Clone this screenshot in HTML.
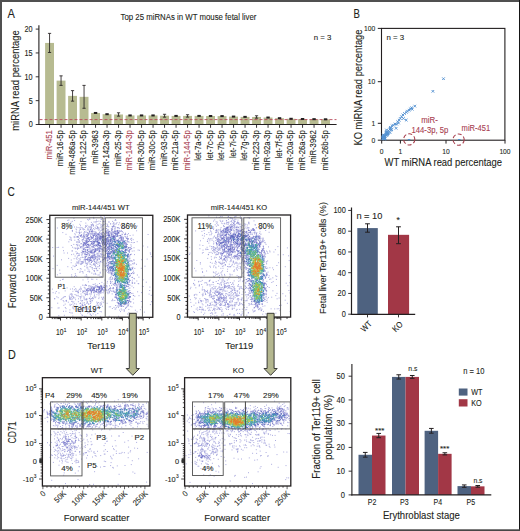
<!DOCTYPE html><html><head><meta charset="utf-8"><style>html,body{margin:0;padding:0;background:#fff;}svg{display:block;}text{font-family:"Liberation Sans",sans-serif;}</style></head><body>
<svg width="520" height="531" viewBox="0 0 520 531">
<rect width="520" height="531" fill="#fff"/>
<text x="7.6" y="18.2" font-size="12" fill="#231f20" stroke="#231f20" stroke-width="0.1" textLength="7.4" lengthAdjust="spacingAndGlyphs">A</text>
<text x="120.6" y="20.2" font-size="8.4" fill="#231f20" stroke="#231f20" stroke-width="0.1" textLength="135.8" lengthAdjust="spacingAndGlyphs">Top 25 miRNAs in WT mouse fetal liver</text>
<text x="313.7" y="39.6" font-size="7.9" fill="#231f20" stroke="#231f20" stroke-width="0.1" textLength="17.6" lengthAdjust="spacingAndGlyphs">n = 3</text>
<text transform="translate(18.6 80.5) rotate(-90)" font-size="10.2" text-anchor="middle" fill="#231f20" stroke="#231f20" stroke-width="0.1" textLength="100.6" lengthAdjust="spacingAndGlyphs">miRNA read percentage</text>
<rect x="45.1" y="42.93" width="8.9" height="81.57" fill="#b7bb91"/>
<rect x="56.6" y="80.62" width="8.9" height="43.88" fill="#b7bb91"/>
<rect x="68.1" y="95.88" width="8.9" height="28.62" fill="#b7bb91"/>
<rect x="79.6" y="96.83" width="8.9" height="27.67" fill="#b7bb91"/>
<rect x="91.1" y="112.96" width="8.9" height="11.54" fill="#b7bb91"/>
<rect x="102.6" y="114.2" width="8.9" height="10.3" fill="#b7bb91"/>
<rect x="114.1" y="114.48" width="8.9" height="10.02" fill="#b7bb91"/>
<rect x="125.6" y="115.44" width="8.9" height="9.06" fill="#b7bb91"/>
<rect x="137.1" y="115.44" width="8.9" height="9.06" fill="#b7bb91"/>
<rect x="148.6" y="115.44" width="8.9" height="9.06" fill="#b7bb91"/>
<rect x="160.1" y="115.72" width="8.9" height="8.78" fill="#b7bb91"/>
<rect x="171.6" y="115.91" width="8.9" height="8.59" fill="#b7bb91"/>
<rect x="183.1" y="115.91" width="8.9" height="8.59" fill="#b7bb91"/>
<rect x="194.6" y="115.91" width="8.9" height="8.59" fill="#b7bb91"/>
<rect x="206.1" y="116.01" width="8.9" height="8.49" fill="#b7bb91"/>
<rect x="217.6" y="116.1" width="8.9" height="8.4" fill="#b7bb91"/>
<rect x="229.1" y="116.58" width="8.9" height="7.92" fill="#b7bb91"/>
<rect x="240.6" y="116.87" width="8.9" height="7.63" fill="#b7bb91"/>
<rect x="252.1" y="116.96" width="8.9" height="7.54" fill="#b7bb91"/>
<rect x="263.6" y="117.54" width="8.9" height="6.96" fill="#b7bb91"/>
<rect x="275.1" y="118.2" width="8.9" height="6.3" fill="#b7bb91"/>
<rect x="286.6" y="118.78" width="8.9" height="5.72" fill="#b7bb91"/>
<rect x="298.1" y="119.01" width="8.9" height="5.49" fill="#b7bb91"/>
<rect x="309.6" y="119.16" width="8.9" height="5.34" fill="#b7bb91"/>
<rect x="321.1" y="119.3" width="8.9" height="5.2" fill="#b7bb91"/>
<line x1="39.5" y1="119.6" x2="336.5" y2="119.6" stroke="#b8475a" stroke-width="0.9" stroke-dasharray="3 2"/>
<line x1="49.55" y1="33.39" x2="49.55" y2="52.47" stroke="#231f20" stroke-width="0.85"/>
<line x1="47.95" y1="33.39" x2="51.15" y2="33.39" stroke="#231f20" stroke-width="0.85"/>
<line x1="47.95" y1="52.47" x2="51.15" y2="52.47" stroke="#231f20" stroke-width="0.85"/>
<line x1="61.05" y1="75.85" x2="61.05" y2="85.39" stroke="#231f20" stroke-width="0.85"/>
<line x1="59.45" y1="75.85" x2="62.65" y2="75.85" stroke="#231f20" stroke-width="0.85"/>
<line x1="59.45" y1="85.39" x2="62.65" y2="85.39" stroke="#231f20" stroke-width="0.85"/>
<line x1="72.55" y1="90.63" x2="72.55" y2="101.13" stroke="#231f20" stroke-width="0.85"/>
<line x1="70.95" y1="90.63" x2="74.15" y2="90.63" stroke="#231f20" stroke-width="0.85"/>
<line x1="70.95" y1="101.13" x2="74.15" y2="101.13" stroke="#231f20" stroke-width="0.85"/>
<line x1="84.05" y1="85.39" x2="84.05" y2="108.28" stroke="#231f20" stroke-width="0.85"/>
<line x1="82.45" y1="85.39" x2="85.65" y2="85.39" stroke="#231f20" stroke-width="0.85"/>
<line x1="82.45" y1="108.28" x2="85.65" y2="108.28" stroke="#231f20" stroke-width="0.85"/>
<rect x="93.85" y="111.96" width="3.4" height="2" fill="#231f20"/>
<rect x="105.35" y="113.2" width="3.4" height="2" fill="#231f20"/>
<line x1="118.55" y1="112.81" x2="118.55" y2="116.15" stroke="#231f20" stroke-width="0.85"/>
<line x1="116.95" y1="112.81" x2="120.15" y2="112.81" stroke="#231f20" stroke-width="0.85"/>
<line x1="116.95" y1="116.15" x2="120.15" y2="116.15" stroke="#231f20" stroke-width="0.85"/>
<rect x="128.35" y="114.44" width="3.4" height="2" fill="#231f20"/>
<rect x="139.85" y="114.44" width="3.4" height="2" fill="#231f20"/>
<rect x="151.35" y="114.44" width="3.4" height="2" fill="#231f20"/>
<line x1="164.55" y1="114.29" x2="164.55" y2="117.15" stroke="#231f20" stroke-width="0.85"/>
<line x1="162.95" y1="114.29" x2="166.15" y2="114.29" stroke="#231f20" stroke-width="0.85"/>
<line x1="162.95" y1="117.15" x2="166.15" y2="117.15" stroke="#231f20" stroke-width="0.85"/>
<rect x="174.35" y="114.91" width="3.4" height="2" fill="#231f20"/>
<line x1="187.55" y1="114.72" x2="187.55" y2="117.11" stroke="#231f20" stroke-width="0.85"/>
<line x1="185.95" y1="114.72" x2="189.15" y2="114.72" stroke="#231f20" stroke-width="0.85"/>
<line x1="185.95" y1="117.11" x2="189.15" y2="117.11" stroke="#231f20" stroke-width="0.85"/>
<rect x="197.35" y="114.91" width="3.4" height="2" fill="#231f20"/>
<rect x="208.85" y="115.01" width="3.4" height="2" fill="#231f20"/>
<rect x="220.35" y="115.1" width="3.4" height="2" fill="#231f20"/>
<rect x="231.85" y="115.58" width="3.4" height="2" fill="#231f20"/>
<rect x="243.35" y="115.87" width="3.4" height="2" fill="#231f20"/>
<line x1="256.55" y1="115.77" x2="256.55" y2="118.16" stroke="#231f20" stroke-width="0.85"/>
<line x1="254.95" y1="115.77" x2="258.15" y2="115.77" stroke="#231f20" stroke-width="0.85"/>
<line x1="254.95" y1="118.16" x2="258.15" y2="118.16" stroke="#231f20" stroke-width="0.85"/>
<rect x="266.35" y="116.54" width="3.4" height="2" fill="#231f20"/>
<rect x="277.85" y="117.2" width="3.4" height="2" fill="#231f20"/>
<rect x="289.35" y="117.78" width="3.4" height="2" fill="#231f20"/>
<rect x="300.85" y="118.01" width="3.4" height="2" fill="#231f20"/>
<rect x="312.35" y="118.16" width="3.4" height="2" fill="#231f20"/>
<rect x="323.85" y="118.3" width="3.4" height="2" fill="#231f20"/>
<line x1="38.9" y1="25.3" x2="38.9" y2="125" stroke="#231f20" stroke-width="1.1"/>
<line x1="38.4" y1="124.5" x2="336.6" y2="124.5" stroke="#231f20" stroke-width="1.2"/>
<line x1="35.7" y1="29.1" x2="38.9" y2="29.1" stroke="#231f20" stroke-width="0.9"/>
<text x="32.7" y="32" font-size="8.5" text-anchor="end" fill="#231f20" stroke="#231f20" stroke-width="0.1" textLength="8.13" lengthAdjust="spacingAndGlyphs">20</text>
<line x1="35.7" y1="52.95" x2="38.9" y2="52.95" stroke="#231f20" stroke-width="0.9"/>
<text x="32.7" y="55.85" font-size="8.5" text-anchor="end" fill="#231f20" stroke="#231f20" stroke-width="0.1" textLength="8.13" lengthAdjust="spacingAndGlyphs">15</text>
<line x1="35.7" y1="76.8" x2="38.9" y2="76.8" stroke="#231f20" stroke-width="0.9"/>
<text x="32.7" y="79.7" font-size="8.5" text-anchor="end" fill="#231f20" stroke="#231f20" stroke-width="0.1" textLength="8.13" lengthAdjust="spacingAndGlyphs">10</text>
<line x1="35.7" y1="100.65" x2="38.9" y2="100.65" stroke="#231f20" stroke-width="0.9"/>
<text x="32.7" y="103.55" font-size="8.5" text-anchor="end" fill="#231f20" stroke="#231f20" stroke-width="0.1" textLength="4.07" lengthAdjust="spacingAndGlyphs">5</text>
<line x1="35.7" y1="124.5" x2="38.9" y2="124.5" stroke="#231f20" stroke-width="0.9"/>
<text x="32.7" y="127.4" font-size="8.5" text-anchor="end" fill="#231f20" stroke="#231f20" stroke-width="0.1" textLength="4.07" lengthAdjust="spacingAndGlyphs">0</text>
<line x1="49.55" y1="124.5" x2="49.55" y2="127.8" stroke="#231f20" stroke-width="0.9"/>
<text transform="translate(51.95 130.2) rotate(-90)" font-size="8.4" text-anchor="end" fill="#a8404f" stroke="#a8404f" stroke-width="0.1" textLength="29.2" lengthAdjust="spacingAndGlyphs">miR-451</text>
<line x1="61.05" y1="124.5" x2="61.05" y2="127.8" stroke="#231f20" stroke-width="0.9"/>
<text transform="translate(63.45 130.2) rotate(-90)" font-size="8.4" text-anchor="end" fill="#231f20" stroke="#231f20" stroke-width="0.1" textLength="36.07" lengthAdjust="spacingAndGlyphs">miR-16-5p</text>
<line x1="72.55" y1="124.5" x2="72.55" y2="127.8" stroke="#231f20" stroke-width="0.9"/>
<text transform="translate(74.95 130.2) rotate(-90)" font-size="8.4" text-anchor="end" fill="#231f20" stroke="#231f20" stroke-width="0.1" textLength="44.67" lengthAdjust="spacingAndGlyphs">miR-486a-5p</text>
<line x1="84.05" y1="124.5" x2="84.05" y2="127.8" stroke="#231f20" stroke-width="0.9"/>
<text transform="translate(86.45 130.2) rotate(-90)" font-size="8.4" text-anchor="end" fill="#231f20" stroke="#231f20" stroke-width="0.1" textLength="40.37" lengthAdjust="spacingAndGlyphs">miR-122-5p</text>
<line x1="95.55" y1="124.5" x2="95.55" y2="127.8" stroke="#231f20" stroke-width="0.9"/>
<text transform="translate(97.95 130.2) rotate(-90)" font-size="8.4" text-anchor="end" fill="#231f20" stroke="#231f20" stroke-width="0.1" textLength="33.5" lengthAdjust="spacingAndGlyphs">miR-3963</text>
<line x1="107.05" y1="124.5" x2="107.05" y2="127.8" stroke="#231f20" stroke-width="0.9"/>
<text transform="translate(109.45 130.2) rotate(-90)" font-size="8.4" text-anchor="end" fill="#231f20" stroke="#231f20" stroke-width="0.1" textLength="44.67" lengthAdjust="spacingAndGlyphs">miR-142a-3p</text>
<line x1="118.55" y1="124.5" x2="118.55" y2="127.8" stroke="#231f20" stroke-width="0.9"/>
<text transform="translate(120.95 130.2) rotate(-90)" font-size="8.4" text-anchor="end" fill="#231f20" stroke="#231f20" stroke-width="0.1" textLength="36.07" lengthAdjust="spacingAndGlyphs">miR-25-3p</text>
<line x1="130.05" y1="124.5" x2="130.05" y2="127.8" stroke="#231f20" stroke-width="0.9"/>
<text transform="translate(132.45 130.2) rotate(-90)" font-size="8.4" text-anchor="end" fill="#a8404f" stroke="#a8404f" stroke-width="0.1" textLength="40.37" lengthAdjust="spacingAndGlyphs">miR-144-3p</text>
<line x1="141.55" y1="124.5" x2="141.55" y2="127.8" stroke="#231f20" stroke-width="0.9"/>
<text transform="translate(143.95 130.2) rotate(-90)" font-size="8.4" text-anchor="end" fill="#231f20" stroke="#231f20" stroke-width="0.1" textLength="40.37" lengthAdjust="spacingAndGlyphs">miR-30b-5p</text>
<line x1="153.05" y1="124.5" x2="153.05" y2="127.8" stroke="#231f20" stroke-width="0.9"/>
<text transform="translate(155.45 130.2) rotate(-90)" font-size="8.4" text-anchor="end" fill="#231f20" stroke="#231f20" stroke-width="0.1" textLength="39.94" lengthAdjust="spacingAndGlyphs">miR-30c-5p</text>
<line x1="164.55" y1="124.5" x2="164.55" y2="127.8" stroke="#231f20" stroke-width="0.9"/>
<text transform="translate(166.95 130.2) rotate(-90)" font-size="8.4" text-anchor="end" fill="#231f20" stroke="#231f20" stroke-width="0.1" textLength="36.07" lengthAdjust="spacingAndGlyphs">miR-93-5p</text>
<line x1="176.05" y1="124.5" x2="176.05" y2="127.8" stroke="#231f20" stroke-width="0.9"/>
<text transform="translate(178.45 130.2) rotate(-90)" font-size="8.4" text-anchor="end" fill="#231f20" stroke="#231f20" stroke-width="0.1" textLength="40.37" lengthAdjust="spacingAndGlyphs">miR-21a-5p</text>
<line x1="187.55" y1="124.5" x2="187.55" y2="127.8" stroke="#231f20" stroke-width="0.9"/>
<text transform="translate(189.95 130.2) rotate(-90)" font-size="8.4" text-anchor="end" fill="#a8404f" stroke="#a8404f" stroke-width="0.1" textLength="40.37" lengthAdjust="spacingAndGlyphs">miR-144-5p</text>
<line x1="199.05" y1="124.5" x2="199.05" y2="127.8" stroke="#231f20" stroke-width="0.9"/>
<text transform="translate(201.45 130.2) rotate(-90)" font-size="8.4" text-anchor="end" fill="#231f20" stroke="#231f20" stroke-width="0.1" textLength="30.5" lengthAdjust="spacingAndGlyphs">let-7a-5p</text>
<line x1="210.55" y1="124.5" x2="210.55" y2="127.8" stroke="#231f20" stroke-width="0.9"/>
<text transform="translate(212.95 130.2) rotate(-90)" font-size="8.4" text-anchor="end" fill="#231f20" stroke="#231f20" stroke-width="0.1" textLength="30.07" lengthAdjust="spacingAndGlyphs">let-7c-5p</text>
<line x1="222.05" y1="124.5" x2="222.05" y2="127.8" stroke="#231f20" stroke-width="0.9"/>
<text transform="translate(224.45 130.2) rotate(-90)" font-size="8.4" text-anchor="end" fill="#231f20" stroke="#231f20" stroke-width="0.1" textLength="30.5" lengthAdjust="spacingAndGlyphs">let-7b-5p</text>
<line x1="233.55" y1="124.5" x2="233.55" y2="127.8" stroke="#231f20" stroke-width="0.9"/>
<text transform="translate(235.95 130.2) rotate(-90)" font-size="8.4" text-anchor="end" fill="#231f20" stroke="#231f20" stroke-width="0.1" textLength="27.92" lengthAdjust="spacingAndGlyphs">let-7i-5p</text>
<line x1="245.05" y1="124.5" x2="245.05" y2="127.8" stroke="#231f20" stroke-width="0.9"/>
<text transform="translate(247.45 130.2) rotate(-90)" font-size="8.4" text-anchor="end" fill="#231f20" stroke="#231f20" stroke-width="0.1" textLength="30.5" lengthAdjust="spacingAndGlyphs">let-7g-5p</text>
<line x1="256.55" y1="124.5" x2="256.55" y2="127.8" stroke="#231f20" stroke-width="0.9"/>
<text transform="translate(258.95 130.2) rotate(-90)" font-size="8.4" text-anchor="end" fill="#231f20" stroke="#231f20" stroke-width="0.1" textLength="40.37" lengthAdjust="spacingAndGlyphs">miR-223-3p</text>
<line x1="268.05" y1="124.5" x2="268.05" y2="127.8" stroke="#231f20" stroke-width="0.9"/>
<text transform="translate(270.45 130.2) rotate(-90)" font-size="8.4" text-anchor="end" fill="#231f20" stroke="#231f20" stroke-width="0.1" textLength="40.37" lengthAdjust="spacingAndGlyphs">miR-92a-3p</text>
<line x1="279.55" y1="124.5" x2="279.55" y2="127.8" stroke="#231f20" stroke-width="0.9"/>
<text transform="translate(281.95 130.2) rotate(-90)" font-size="8.4" text-anchor="end" fill="#231f20" stroke="#231f20" stroke-width="0.1" textLength="28.35" lengthAdjust="spacingAndGlyphs">let-7f-5p</text>
<line x1="291.05" y1="124.5" x2="291.05" y2="127.8" stroke="#231f20" stroke-width="0.9"/>
<text transform="translate(293.45 130.2) rotate(-90)" font-size="8.4" text-anchor="end" fill="#231f20" stroke="#231f20" stroke-width="0.1" textLength="40.37" lengthAdjust="spacingAndGlyphs">miR-20a-5p</text>
<line x1="302.55" y1="124.5" x2="302.55" y2="127.8" stroke="#231f20" stroke-width="0.9"/>
<text transform="translate(304.95 130.2) rotate(-90)" font-size="8.4" text-anchor="end" fill="#231f20" stroke="#231f20" stroke-width="0.1" textLength="40.37" lengthAdjust="spacingAndGlyphs">miR-26a-5p</text>
<line x1="314.05" y1="124.5" x2="314.05" y2="127.8" stroke="#231f20" stroke-width="0.9"/>
<text transform="translate(316.45 130.2) rotate(-90)" font-size="8.4" text-anchor="end" fill="#231f20" stroke="#231f20" stroke-width="0.1" textLength="33.5" lengthAdjust="spacingAndGlyphs">miR-3962</text>
<line x1="325.55" y1="124.5" x2="325.55" y2="127.8" stroke="#231f20" stroke-width="0.9"/>
<text transform="translate(327.95 130.2) rotate(-90)" font-size="8.4" text-anchor="end" fill="#231f20" stroke="#231f20" stroke-width="0.1" textLength="40.37" lengthAdjust="spacingAndGlyphs">miR-26b-5p</text>
<text x="353.6" y="17.6" font-size="12" fill="#231f20" stroke="#231f20" stroke-width="0.1" textLength="6.4" lengthAdjust="spacingAndGlyphs">B</text>
<rect x="381.5" y="28.4" width="123.4" height="111.8" fill="none" stroke="#231f20" stroke-width="1.1"/>
<text x="386.5" y="39.8" font-size="8" fill="#231f20" stroke="#231f20" stroke-width="0.1" textLength="17.7" lengthAdjust="spacingAndGlyphs">n = 3</text>
<line x1="377.8" y1="28.4" x2="381.5" y2="28.4" stroke="#231f20" stroke-width="1"/>
<text x="375.3" y="31.1" font-size="8" text-anchor="end" fill="#231f20" stroke="#231f20" stroke-width="0.1" textLength="11.21" lengthAdjust="spacingAndGlyphs">100</text>
<line x1="377.8" y1="81.7" x2="381.5" y2="81.7" stroke="#231f20" stroke-width="1"/>
<text x="375.3" y="84.4" font-size="8" text-anchor="end" fill="#231f20" stroke="#231f20" stroke-width="0.1" textLength="7.47" lengthAdjust="spacingAndGlyphs">10</text>
<line x1="377.8" y1="123.3" x2="381.5" y2="123.3" stroke="#231f20" stroke-width="1"/>
<text x="375.3" y="126" font-size="8" text-anchor="end" fill="#231f20" stroke="#231f20" stroke-width="0.1" textLength="3.74" lengthAdjust="spacingAndGlyphs">1</text>
<line x1="377.8" y1="140.2" x2="381.5" y2="140.2" stroke="#231f20" stroke-width="1"/>
<text x="375.3" y="142.9" font-size="8" text-anchor="end" fill="#231f20" stroke="#231f20" stroke-width="0.1" textLength="3.74" lengthAdjust="spacingAndGlyphs">0</text>
<line x1="381.7" y1="140.2" x2="381.7" y2="143.6" stroke="#231f20" stroke-width="1"/>
<text x="381.7" y="154.1" font-size="8" text-anchor="middle" fill="#231f20" stroke="#231f20" stroke-width="0.1" textLength="3.74" lengthAdjust="spacingAndGlyphs">0</text>
<line x1="400.4" y1="140.2" x2="400.4" y2="143.6" stroke="#231f20" stroke-width="1"/>
<text x="400.4" y="154.1" font-size="8" text-anchor="middle" fill="#231f20" stroke="#231f20" stroke-width="0.1" textLength="3.74" lengthAdjust="spacingAndGlyphs">1</text>
<line x1="446" y1="140.2" x2="446" y2="143.6" stroke="#231f20" stroke-width="1"/>
<text x="446" y="154.1" font-size="8" text-anchor="middle" fill="#231f20" stroke="#231f20" stroke-width="0.1" textLength="7.47" lengthAdjust="spacingAndGlyphs">10</text>
<line x1="505" y1="140.2" x2="505" y2="143.6" stroke="#231f20" stroke-width="1"/>
<text x="505" y="154.1" font-size="8" text-anchor="middle" fill="#231f20" stroke="#231f20" stroke-width="0.1" textLength="11.21" lengthAdjust="spacingAndGlyphs">100</text>
<text transform="translate(361.8 87.5) rotate(-90)" font-size="10" text-anchor="middle" fill="#231f20" stroke="#231f20" stroke-width="0.1" textLength="116" lengthAdjust="spacingAndGlyphs">KO miRNA read percentage</text>
<text x="443.3" y="166.2" font-size="10.2" text-anchor="middle" fill="#231f20" stroke="#231f20" stroke-width="0.1" textLength="117.5" lengthAdjust="spacingAndGlyphs">WT miRNA read percentage</text>
<path d="M442.2 77.4l2.6 2.6M442.2 80l2.6-2.6M431.6 90l2.6 2.6M431.6 92.6l2.6-2.6M413.5 104.8l2.6 2.6M413.5 107.4l2.6-2.6M410.4 106.5l2.6 2.6M410.4 109.1l2.6-2.6M410.9 107.9l2.6 2.6M410.9 110.5l2.6-2.6M407.8 108.9l2.6 2.6M407.8 111.5l2.6-2.6M406.2 109.9l2.6 2.6M406.2 112.5l2.6-2.6M405.2 111l2.6 2.6M405.2 113.6l2.6-2.6M401.6 113.6l2.6 2.6M401.6 116.2l2.6-2.6M400.3 115.4l2.6 2.6M400.3 118l2.6-2.6M399 117.2l2.6 2.6M399 119.8l2.6-2.6M397.9 118.8l2.6 2.6M397.9 121.4l2.6-2.6M402.1 117.2l2.6 2.6M402.1 119.8l2.6-2.6M404.9 118.8l2.6 2.6M404.9 121.4l2.6-2.6M396.4 120.3l2.6 2.6M396.4 122.9l2.6-2.6M395.4 122.9l2.6 2.6M395.4 125.5l2.6-2.6M394.8 127l2.6 2.6M394.8 129.6l2.6-2.6M392.2 123.9l2.6 2.6M392.2 126.5l2.6-2.6M390.7 124.5l2.6 2.6M390.7 127.1l2.6-2.6M389.1 126l2.6 2.6M389.1 128.6l2.6-2.6M403.2 112.2l2.6 2.6M403.2 114.8l2.6-2.6M408.9 107.5l2.6 2.6M408.9 110.1l2.6-2.6M397.2 121.7l2.6 2.6M397.2 124.3l2.6-2.6M393.7 122.7l2.6 2.6M393.7 125.3l2.6-2.6M384.62 133.66l2.6 2.6M384.62 136.26l2.6-2.6M384.98 132.75l2.6 2.6M384.98 135.35l2.6-2.6M381.23 137.41l2.6 2.6M381.23 140.01l2.6-2.6M383.44 134.61l2.6 2.6M383.44 137.21l2.6-2.6M386.57 131.15l2.6 2.6M386.57 133.75l2.6-2.6M385.18 130.99l2.6 2.6M385.18 133.59l2.6-2.6M382.69 137.38l2.6 2.6M382.69 139.98l2.6-2.6M383.8 136.95l2.6 2.6M383.8 139.55l2.6-2.6M382.9 134.01l2.6 2.6M382.9 136.61l2.6-2.6M388.99 127.37l2.6 2.6M388.99 129.97l2.6-2.6M384.65 132.22l2.6 2.6M384.65 134.82l2.6-2.6M381.99 133.7l2.6 2.6M381.99 136.3l2.6-2.6M382.77 133.89l2.6 2.6M382.77 136.49l2.6-2.6M387.28 129.3l2.6 2.6M387.28 131.9l2.6-2.6M381.78 135.4l2.6 2.6M381.78 138l2.6-2.6M381.75 136.36l2.6 2.6M381.75 138.96l2.6-2.6M386.39 132.5l2.6 2.6M386.39 135.1l2.6-2.6M388.77 131.29l2.6 2.6M388.77 133.89l2.6-2.6M382.79 135.91l2.6 2.6M382.79 138.51l2.6-2.6M385.26 130.45l2.6 2.6M385.26 133.05l2.6-2.6M382.49 136.36l2.6 2.6M382.49 138.96l2.6-2.6M386.45 133.19l2.6 2.6M386.45 135.79l2.6-2.6M385.66 131.7l2.6 2.6M385.66 134.3l2.6-2.6M382.1 136.08l2.6 2.6M382.1 138.68l2.6-2.6M382.64 136.75l2.6 2.6M382.64 139.35l2.6-2.6M384.52 133.65l2.6 2.6M384.52 136.25l2.6-2.6M390.15 128.49l2.6 2.6M390.15 131.09l2.6-2.6M385.45 134.14l2.6 2.6M385.45 136.74l2.6-2.6M386.98 132l2.6 2.6M386.98 134.6l2.6-2.6M382.57 134.96l2.6 2.6M382.57 137.56l2.6-2.6M383.44 137.11l2.6 2.6M383.44 139.71l2.6-2.6M390.32 128.27l2.6 2.6M390.32 130.87l2.6-2.6M382.68 137.2l2.6 2.6M382.68 139.8l2.6-2.6M385.18 128.66l2.6 2.6M385.18 131.26l2.6-2.6M383.03 136.99l2.6 2.6M383.03 139.59l2.6-2.6M381.65 136.71l2.6 2.6M381.65 139.31l2.6-2.6M383.52 137.55l2.6 2.6M383.52 140.15l2.6-2.6M385.83 132.18l2.6 2.6M385.83 134.78l2.6-2.6M389.25 127.21l2.6 2.6M389.25 129.81l2.6-2.6M382.95 137.58l2.6 2.6M382.95 140.18l2.6-2.6M383.27 135.51l2.6 2.6M383.27 138.11l2.6-2.6M388.78 127.98l2.6 2.6M388.78 130.58l2.6-2.6" fill="none" stroke="#5592d2" stroke-width="0.95"/>
<path d="M407.8 139.6h2.6M458 139.5h2.6" fill="none" stroke="#4f8fd0" stroke-width="1.2"/>
<circle cx="409.2" cy="139.4" r="5.6" fill="none" stroke="#a8404f" stroke-width="1.1" stroke-dasharray="4 2.2"/>
<circle cx="458.6" cy="139.6" r="5.6" fill="none" stroke="#a8404f" stroke-width="1.1" stroke-dasharray="4 2.2"/>
<text x="421.3" y="123.2" font-size="8.2" fill="#a8404f" stroke="#a8404f" stroke-width="0.1" textLength="16.6" lengthAdjust="spacingAndGlyphs">miR-</text>
<text x="411.5" y="133.1" font-size="8.2" fill="#a8404f" stroke="#a8404f" stroke-width="0.1" textLength="36.8" lengthAdjust="spacingAndGlyphs">144-3p, 5p</text>
<text x="461.6" y="130.9" font-size="8.2" fill="#a8404f" stroke="#a8404f" stroke-width="0.1" textLength="28.6" lengthAdjust="spacingAndGlyphs">miR-451</text>
<text x="7.5" y="195.8" font-size="12" fill="#231f20" stroke="#231f20" stroke-width="0.1" textLength="7.3" lengthAdjust="spacingAndGlyphs">C</text>
<path d="M114.3 300.5h1M127.9 305.8h1M130.6 301.8h1M125.0 308.5h1M123.6 309.6h1M130.9 248.5h1M121.0 227.3h1M131.7 251.1h1M131.0 240.6h1M133.5 247.7h1M126.8 236.5h1M121.9 234.4h1M121.1 228.2h1M106.2 226.4h1M130.8 242.5h1M130.4 244.8h1M103.5 224.3h1M133.6 250.9h1M111.6 226.8h1M122.8 232.8h1M124.1 234.3h1M125.2 234.2h1M130.8 246.2h1M127.0 234.8h1M128.0 233.6h1M105.0 250.3h1M124.1 234.7h1M121.4 231.5h1M121.4 234.2h1M133.9 242.5h1M136.7 241.7h1M107.3 229.8h1M112.0 227.2h1M126.0 246.2h1M126.9 240.3h1M129.6 235.5h1M112.7 226.6h1M125.3 237.2h1M130.0 254.9h1M132.7 239.7h1M130.4 248.6h1M114.8 224.0h1M125.9 238.4h1M132.6 242.7h1M108.6 265.2h1M106.9 260.7h1M111.8 277.6h1M113.9 283.5h1M109.6 277.7h1M103.7 265.3h1M111.7 279.1h1M106.7 269.7h1M106.7 283.0h1M107.3 272.5h1M108.6 291.9h1M108.7 279.1h1M108.4 273.1h1M110.5 276.4h1M115.1 283.8h1M129.9 306.3h1M112.1 299.3h1M133.1 303.0h1M125.4 307.7h1M129.4 288.0h1M115.3 308.9h1M106.9 281.4h1M132.8 263.9h1M132.1 263.7h1M109.9 281.1h1M134.9 310.2h1M121.4 310.0h1M132.7 299.2h1M133.0 295.5h1M128.4 312.7h1M133.8 273.0h1M132.0 277.3h1M114.5 309.1h1M134.0 278.8h1M131.9 280.1h1M136.0 264.3h1M128.3 309.4h1M118.1 316.3h1M133.8 262.7h1M136.9 275.0h1M120.0 311.6h1M134.1 283.2h1M133.6 260.2h1M131.2 248.3h1M131.1 293.4h1M134.0 254.6h1M134.3 283.0h1M130.8 254.2h1M123.8 310.7h1M131.7 261.2h1M131.7 282.0h1M112.4 300.6h1M131.4 306.8h1M137.1 291.8h1M138.4 277.2h1M137.7 283.6h1M111.7 281.6h1M131.5 286.1h1M110.0 281.5h1M123.7 311.2h1M134.1 263.7h1M136.3 281.0h1M120.7 308.9h1M108.7 316.3h1M134.3 268.4h1M134.3 296.2h1M133.1 287.7h1M127.0 314.0h1M100.5 257.4h1M100.1 221.4h1M101.2 253.2h1M71.1 254.6h1M93.7 268.6h1M78.8 255.5h1M76.1 229.8h1M75.9 244.7h1M102.5 229.2h1M81.1 243.6h1M80.4 261.7h1M103.2 221.7h1M80.8 252.4h1M87.7 259.3h1M77.2 248.0h1M87.4 271.4h1M76.7 248.4h1M98.7 274.9h1M62.3 232.6h1M96.5 270.7h1M72.0 231.3h1M93.3 264.5h1M99.4 251.4h1M70.8 260.0h1M99.0 255.9h1M79.2 241.8h1M98.5 258.0h1M80.3 264.4h1M76.9 245.9h1M77.6 242.7h1M100.2 253.9h1M91.0 228.1h1M68.3 241.8h1M93.9 261.4h1M101.8 260.4h1M103.2 259.5h1M80.7 269.1h1M80.0 236.0h1M97.5 262.3h1M94.8 264.8h1M97.9 255.0h1M111.4 229.0h1M79.3 224.3h1M96.0 219.9h1M93.0 225.2h1M97.3 264.1h1M96.7 258.1h1M100.4 230.6h1M76.4 261.9h1M77.2 236.9h1M73.6 258.7h1M79.5 232.7h1M90.0 230.0h1M72.1 269.3h1M79.1 230.0h1M85.6 226.5h1M105.1 223.6h1M98.3 266.7h1M78.6 261.9h1M94.8 283.8h1M84.8 262.7h1M73.2 254.2h1M89.5 227.0h1M99.3 223.4h1M91.0 262.5h1M84.7 238.1h1M68.1 258.4h1M79.2 227.9h1M102.9 250.2h1M90.7 241.7h1M84.1 229.4h1M80.5 246.5h1M99.3 263.9h1M96.6 224.6h1M79.6 259.5h1M97.3 270.4h1M93.1 217.4h1M85.9 274.6h1M75.9 265.4h1M85.4 238.9h1M77.6 227.6h1M86.1 265.8h1M76.5 244.4h1M77.2 256.1h1M82.8 262.6h1M83.4 257.4h1M90.7 224.7h1M99.1 259.0h1M92.1 223.9h1M80.4 263.7h1M74.1 220.5h1M117.0 227.9h1M97.0 234.0h1M94.2 229.3h1M78.8 240.8h1M83.2 244.7h1M111.1 285.4h1M83.5 233.1h1M74.8 266.0h1M110.0 223.9h1M81.7 250.3h1M72.0 247.2h1M78.8 231.2h1M74.3 233.7h1M70.6 239.8h1M85.1 284.6h1M96.1 268.9h1M77.3 263.0h1M90.4 248.0h1M78.1 253.9h1M81.5 263.6h1M98.8 268.6h1M84.4 270.1h1M68.1 222.8h1M91.1 279.2h1M86.3 267.8h1M99.1 265.9h1M82.3 271.8h1M93.7 270.6h1M80.9 262.9h1M76.7 236.6h1M81.3 246.9h1M91.1 237.7h1M67.3 220.4h1M65.5 234.3h1M82.2 251.6h1M95.1 232.1h1M101.1 228.0h1M78.4 235.0h1M82.4 240.0h1M102.6 229.6h1M99.7 227.8h1M121.6 236.3h1M84.4 258.4h1M75.1 248.7h1M101.7 229.8h1M103.2 228.7h1M67.3 266.7h1M95.1 266.7h1M100.4 262.2h1M78.8 238.3h1M82.6 273.0h1M85.7 226.2h1M102.1 262.2h1M89.5 264.0h1M69.4 236.9h1M68.4 220.0h1M104.6 269.5h1M80.3 227.9h1M81.6 254.6h1M94.6 222.0h1M81.6 257.4h1M97.5 275.0h1M82.6 239.6h1M84.2 253.2h1M95.7 232.3h1M87.8 233.0h1M90.7 227.0h1M102.4 250.9h1M78.5 245.0h1M92.6 284.4h1M101.0 276.5h1M103.8 216.9h1M87.8 256.0h1M71.7 230.8h1M91.8 267.8h1M78.8 242.5h1M87.6 277.6h1M75.5 251.7h1M83.7 234.3h1M62.8 226.3h1M72.6 225.0h1M90.9 222.4h1M100.1 261.3h1M77.1 253.4h1M94.7 227.3h1M73.4 218.3h1M96.3 279.3h1M71.9 221.3h1M85.5 263.4h1M87.9 281.8h1M62.4 247.3h1M94.6 233.1h1M82.3 229.1h1M88.4 226.3h1M96.7 226.7h1M82.5 279.9h1M89.4 266.7h1M76.5 262.9h1M104.4 221.8h1M117.8 227.6h1M90.2 266.7h1M105.8 230.9h1M76.6 257.4h1M100.7 224.8h1M91.6 244.8h1M79.1 254.0h1M104.8 221.0h1M86.6 225.3h1M82.7 242.4h1M73.7 248.0h1M103.5 263.9h1M79.4 272.4h1M95.8 285.9h1M87.3 279.1h1M81.6 271.5h1M85.0 225.8h1M78.4 263.7h1M77.2 269.5h1M91.1 225.3h1M88.8 246.8h1M88.7 271.7h1M92.1 224.8h1M90.4 229.2h1M102.8 225.2h1M89.3 219.5h1M72.0 230.4h1M77.8 262.3h1M106.1 263.9h1M85.5 232.5h1M83.4 253.0h1M78.0 239.6h1M91.5 267.6h1M70.3 225.9h1M105.1 231.0h1M76.1 237.0h1M79.4 260.3h1M100.2 261.6h1M78.6 232.5h1M93.5 264.8h1M81.3 255.2h1M86.7 234.0h1M91.3 231.8h1M95.1 265.9h1M101.3 254.5h1M77.9 261.0h1M98.9 248.6h1M84.7 255.1h1M88.3 229.0h1M79.6 235.5h1M102.3 269.8h1M85.1 256.6h1M83.6 259.6h1M87.1 228.1h1M94.3 231.4h1M94.5 268.5h1M85.9 263.9h1M81.8 253.2h1M81.5 237.5h1M77.8 237.1h1M95.4 274.3h1M74.6 237.1h1M86.3 277.0h1M77.8 241.1h1M99.9 261.5h1M63.0 250.7h1M70.7 225.5h1M71.5 250.9h1M69.3 239.6h1M70.2 237.8h1M92.2 257.1h1M83.3 238.7h1M91.4 234.6h1M76.4 232.6h1M93.9 271.6h1M76.5 259.3h1M94.0 265.1h1M83.1 229.8h1M74.2 266.6h1M100.8 255.4h1M73.7 237.6h1M103.8 218.8h1M81.5 252.9h1M90.1 227.0h1M74.0 227.0h1M100.5 226.9h1M99.0 265.5h1M88.9 241.2h1M92.5 224.8h1M95.6 222.8h1M96.6 221.5h1M71.9 250.9h1M82.1 261.6h1M92.6 234.7h1M86.8 263.1h1M78.8 232.5h1M91.3 265.1h1M105.0 251.9h1M70.9 240.3h1M76.0 253.8h1M73.3 244.4h1M80.5 246.5h1M107.5 226.6h1M99.6 276.4h1M91.6 232.3h1M97.4 256.4h1M95.6 221.5h1M98.3 228.4h1M99.7 273.1h1M82.5 236.8h1M100.5 219.3h1M100.4 216.6h1M89.2 218.3h1M87.9 220.1h1M89.8 264.3h1M91.9 269.1h1M98.6 255.3h1M104.3 280.1h1M76.5 241.5h1M96.0 268.6h1M100.9 233.0h1M80.8 232.2h1M56.9 228.0h1M70.6 238.0h1M86.9 264.6h1M74.6 256.0h1M88.5 277.4h1M104.1 257.3h1M90.9 225.1h1M66.2 229.5h1M108.5 222.1h1M107.1 225.8h1M98.4 256.4h1M76.3 242.4h1M89.2 271.9h1M96.9 266.8h1M77.4 237.1h1M81.9 262.1h1M76.0 265.3h1M101.5 226.5h1M78.9 245.9h1M83.7 248.6h1M73.7 236.5h1M84.7 257.6h1M91.3 237.4h1M88.4 262.8h1M127.1 261.1h1M85.5 231.2h1M86.3 276.0h1M93.6 270.6h1M105.1 259.0h1M83.7 232.7h1M94.3 255.0h1M93.0 228.6h1M97.7 227.7h1M82.9 261.2h1M104.5 236.8h1M84.5 256.5h1M75.3 248.0h1M102.5 257.0h1M84.9 260.7h1M86.3 259.6h1M97.1 227.1h1M95.9 263.3h1M74.3 240.2h1M74.8 234.8h1M83.8 249.5h1M103.0 259.9h1M70.9 245.5h1M94.9 273.3h1M93.4 222.0h1M94.6 274.0h1M101.4 282.4h1M77.8 255.5h1M91.2 243.5h1M98.9 235.3h1M102.1 225.4h1M87.4 268.9h1M99.1 229.9h1M78.5 258.6h1M79.9 257.9h1M59.6 273.4h1M93.3 218.6h1M101.0 219.3h1M76.2 276.3h1M76.1 227.1h1M103.0 221.2h1M86.4 252.1h1M99.6 253.8h1M94.1 233.2h1M87.2 267.2h1M103.6 255.0h1M92.3 279.3h1M82.6 228.6h1M100.4 225.1h1M91.2 227.1h1M101.4 254.4h1M93.8 234.0h1M70.6 222.1h1M98.2 224.1h1M86.6 263.2h1M84.0 231.6h1M75.5 229.0h1M95.2 262.6h1M101.6 218.4h1M82.1 241.3h1M80.0 225.7h1M82.8 234.2h1M87.6 229.8h1M87.1 219.4h1M81.4 240.1h1M88.6 227.3h1M81.5 227.5h1M84.2 266.3h1M92.5 233.7h1M103.5 261.8h1M91.7 229.9h1M77.0 249.3h1M77.1 245.2h1M80.2 236.0h1M109.7 217.5h1M98.4 221.2h1M93.9 263.1h1M86.6 242.3h1M77.5 239.5h1M91.3 273.1h1M84.0 236.5h1M102.4 257.9h1M90.5 228.8h1M95.6 261.4h1M84.8 227.5h1M75.6 231.8h1M93.0 257.1h1M98.6 262.2h1M92.3 246.9h1M91.4 233.6h1M80.5 221.6h1M124.4 227.8h1M114.8 228.9h1M131.2 238.3h1M120.2 225.2h1M115.3 227.2h1M110.2 223.8h1M111.4 231.3h1M121.9 231.7h1M116.0 223.8h1M126.8 222.9h1M114.6 226.9h1M113.3 223.5h1M107.2 230.0h1M105.4 232.0h1M124.3 227.4h1M132.6 235.1h1M118.9 222.8h1M115.4 220.4h1M127.8 238.8h1M117.1 227.5h1M107.2 224.9h1M118.8 228.6h1M126.5 238.1h1M97.1 227.4h1M96.8 228.9h1M118.8 231.1h1M123.6 224.3h1M102.8 221.6h1M108.3 226.8h1M129.1 224.7h1M125.0 227.4h1M115.0 219.5h1M111.3 229.6h1M118.2 224.7h1M105.5 234.0h1M114.5 220.4h1M130.3 239.4h1M113.3 222.5h1M136.7 226.0h1M105.3 229.0h1M111.9 226.4h1M101.2 230.1h1M97.2 228.2h1M103.4 224.3h1M87.2 229.8h1M125.0 233.2h1M120.9 230.6h1M104.0 217.9h1M95.6 225.7h1M134.1 228.2h1M112.5 223.9h1M98.9 242.1h1M126.4 238.3h1M112.1 221.4h1M136.1 230.8h1M127.1 239.1h1M126.9 241.8h1M130.5 238.7h1M108.1 230.0h1M85.3 223.1h1M122.4 227.0h1M108.4 221.9h1M118.5 228.0h1M147.6 234.5h1M115.8 231.9h1M112.1 228.8h1M117.2 230.3h1M113.9 224.9h1M98.0 230.0h1M106.6 224.1h1M116.5 222.6h1M104.4 288.3h1M79.6 288.9h1M109.9 288.4h1M88.1 288.8h1M88.1 285.9h1M102.4 286.2h1M85.7 290.3h1M108.9 291.4h1M112.7 290.2h1M97.1 285.0h1M100.2 285.4h1M103.4 290.6h1M102.8 292.8h1M109.1 288.4h1M80.0 291.1h1M85.0 285.3h1M83.7 287.3h1M93.5 284.6h1M89.3 285.7h1M76.7 291.5h1M107.5 293.7h1M84.5 287.9h1M101.5 292.6h1M99.0 283.5h1M80.2 287.1h1M106.6 286.2h1M88.6 287.1h1M109.0 292.8h1M106.6 292.0h1M95.3 286.1h1M86.7 293.8h1M85.9 294.5h1M100.3 293.4h1M82.9 291.6h1M109.0 285.8h1M85.8 285.4h1M102.8 289.8h1M86.6 289.9h1M106.1 285.4h1M86.0 285.4h1M82.9 291.7h1M110.4 290.8h1M95.3 285.3h1M86.9 288.6h1M72.4 291.3h1M110.0 287.4h1M84.7 288.9h1M93.1 292.7h1M78.0 292.6h1M77.7 290.7h1M107.4 292.7h1M103.5 283.9h1M112.4 288.2h1M111.7 288.6h1M106.4 287.9h1M104.5 290.0h1M106.0 290.0h1M83.7 290.8h1M78.8 289.6h1M105.6 286.4h1M90.7 286.2h1M85.7 300.1h1M77.1 308.9h1M85.6 299.4h1M73.3 301.9h1M80.3 296.6h1M80.1 303.2h1M77.9 301.7h1M72.1 307.1h1M73.5 307.3h1M102.5 299.6h1M100.9 311.8h1M70.5 293.9h1M90.9 298.6h1M98.6 297.2h1M73.1 297.9h1M98.1 302.6h1M89.6 313.9h1M81.3 314.9h1M65.8 301.4h1M90.1 299.4h1M84.2 308.9h1M84.4 305.0h1M85.6 299.5h1M63.3 305.3h1M69.5 304.3h1M86.6 299.1h1M99.9 302.8h1M81.1 308.3h1M106.6 303.3h1M80.5 294.0h1M84.7 294.1h1M84.3 304.4h1M78.0 298.8h1M101.9 299.4h1M92.6 313.9h1M54.2 298.5h1M70.8 297.4h1M69.4 309.9h1M92.0 297.6h1M91.6 300.5h1M79.5 303.6h1M84.6 307.7h1M63.9 315.3h1M81.7 304.8h1M76.1 291.3h1M64.8 307.5h1M84.7 307.7h1M75.1 291.3h1M88.8 298.6h1M82.5 305.5h1M82.0 300.6h1M77.6 292.9h1M77.5 292.0h1M93.5 297.1h1M84.7 305.1h1M70.2 299.2h1M71.4 301.4h1M87.2 313.1h1M71.3 293.8h1M73.7 286.7h1M67.8 302.2h1M88.2 304.2h1M75.1 299.7h1M73.1 296.8h1M58.6 307.9h1M103.5 301.0h1M99.8 305.3h1M93.8 296.1h1M80.1 313.1h1M85.5 316.4h1M91.8 300.9h1M95.3 296.9h1M86.6 302.8h1M78.9 311.5h1M85.3 294.4h1M73.9 289.7h1M70.5 312.9h1M63.4 301.7h1M75.7 295.2h1M88.5 312.5h1M86.5 309.1h1M68.8 296.0h1M73.2 305.2h1M93.3 308.5h1M77.7 295.3h1M82.6 306.1h1M101.9 298.4h1M97.5 307.2h1M71.7 298.4h1M54.2 298.9h1M80.1 306.5h1M102.9 297.0h1M97.1 303.0h1M91.0 315.4h1M83.7 298.2h1M71.5 299.5h1M117.9 307.5h1M88.2 303.9h1M62.3 298.0h1M55.8 291.5h1M90.1 305.5h1M92.7 307.0h1M93.0 298.7h1M83.6 285.3h1M89.3 301.1h1M84.8 311.6h1M90.2 294.0h1M101.1 297.3h1M69.6 299.0h1M98.9 308.6h1M87.1 294.1h1M85.0 295.2h1M107.8 290.2h1M87.1 294.7h1M102.9 297.6h1M83.5 291.1h1M79.5 306.8h1M108.8 306.9h1M95.2 306.1h1M94.4 312.3h1M71.2 304.5h1M95.2 314.9h1M90.0 303.6h1M71.5 301.4h1M58.5 292.9h1M79.2 310.7h1M96.4 294.7h1M74.1 303.7h1M69.7 294.3h1M65.4 311.2h1M69.1 297.1h1M81.5 310.9h1M94.7 297.7h1M69.7 305.4h1M80.7 289.2h1M76.7 311.1h1M101.0 303.8h1M71.5 294.5h1M89.1 293.9h1M73.2 297.7h1M73.6 309.1h1M75.8 304.1h1M64.9 296.6h1M72.4 302.9h1M69.2 312.4h1M89.4 298.2h1M89.2 298.4h1M81.8 304.4h1M111.7 293.9h1M83.8 299.8h1M86.3 307.7h1M110.1 306.8h1M84.1 316.4h1M102.0 306.3h1M86.7 301.4h1M63.0 311.3h1M69.4 298.9h1M90.4 302.7h1M69.5 298.1h1M75.7 289.9h1M97.5 305.0h1M103.3 298.2h1M86.9 302.2h1M116.9 306.0h1M62.7 300.5h1M65.5 308.6h1M79.8 296.9h1M94.1 310.1h1M82.2 290.9h1M71.4 295.6h1M84.0 302.8h1M113.5 307.4h1M90.1 296.1h1M80.6 288.7h1M65.5 300.6h1M72.6 308.4h1M63.0 297.2h1M81.3 301.1h1M83.5 297.8h1M51.9 289.1h1M80.4 300.4h1M66.0 300.4h1M111.3 300.7h1M81.1 309.6h1M69.0 298.9h1M77.6 291.9h1M88.2 308.8h1M83.4 296.3h1M74.5 298.0h1M57.2 303.2h1M100.7 304.7h1M82.1 315.4h1M101.3 302.0h1M80.7 308.5h1M87.7 309.1h1M86.4 303.4h1M64.1 296.7h1M99.8 316.4h1M90.2 301.5h1M96.8 303.7h1M80.1 298.8h1M75.2 288.6h1M82.1 285.2h1M99.8 292.1h1M64.7 290.9h1M96.8 308.4h1M91.0 293.9h1M93.5 310.1h1M84.6 276.3h1M64.7 304.1h1M80.2 303.2h1M98.4 295.1h1M78.6 296.6h1M88.4 311.8h1M99.5 303.9h1M90.1 301.1h1M76.5 295.8h1M98.3 298.6h1M81.2 308.7h1M96.2 302.1h1M150.8 295.3h1M81.3 296.0h1M60.3 284.2h1M58.2 285.5h1M56.7 265.4h1M52.2 247.5h1M72.6 265.9h1M97.3 313.5h1M60.5 299.6h1M79.7 271.2h1M138.5 295.7h1M71.9 313.0h1M115.7 289.9h1M96.4 305.2h1M57.6 308.0h1M147.2 247.0h1M76.8 252.9h1M115.8 307.4h1M72.0 288.9h1M138.9 250.3h1M142.7 279.8h1M75.8 258.3h1M79.9 268.6h1M89.0 310.5h1M63.1 286.0h1M146.7 259.1h1M81.8 257.2h1M85.2 309.0h1M119.2 310.1h1M150.9 256.6h1M145.8 282.2h1M69.9 289.1h1M142.6 246.0h1M149.2 290.5h1M132.8 295.4h1M63.6 253.0h1M82.2 292.6h1M61.0 259.8h1M151.0 301.7h1M96.9 290.4h1M111.3 291.3h1M103.2 302.6h1M149.9 304.6h1M111.9 308.5h1M52.6 292.7h1M62.1 279.5h1M150.1 254.2h1M78.1 248.1h1M88.5 270.0h1M149.8 252.9h1M67.0 253.0h1M93.2 274.1h1M95.7 268.1h1M102.2 259.6h1M61.2 298.8h1M75.0 275.3h1M132.4 293.4h1M88.9 309.4h1M59.8 280.4h1M133.0 271.2h1M71.1 274.9h1M52.5 268.6h1M74.5 294.5h1M85.8 298.7h1M56.3 296.8h1M80.4 297.6h1M54.9 293.1h1M71.3 276.7h1M105.0 293.1h1M140.9 301.5h1M71.2 267.7h1M58.3 315.7h1M127.1 255.3h1M70.7 262.7h1M141.1 292.6h1M69.3 297.2h1M74.1 276.5h1M75.4 264.0h1M81.2 261.5h1M139.9 309.7h1M140.8 268.3h1M78.3 248.4h1M112.5 283.9h1M133.4 278.4h1M56.6 247.5h1M56.9 274.8h1M92.2 261.1h1M59.2 270.1h1M104.5 266.9h1M149.4 287.1h1M141.5 307.0h1M97.9 305.9h1M142.6 286.5h1M97.0 307.7h1M51.3 307.7h1M136.5 311.9h1M83.8 293.4h1M137.6 250.0h1M58.1 247.3h1M57.7 297.7h1M115.5 286.0h1M80.8 264.1h1M62.7 279.2h1M148.6 294.1h1M143.9 312.1h1M89.9 314.7h1M74.3 306.6h1M66.6 287.9h1M99.6 311.5h1M74.8 273.7h1M141.9 286.2h1M112.7 291.5h1M53.0 256.1h1M141.2 259.7h1M99.8 272.3h1M72.3 316.1h1M133.2 259.8h1M144.5 266.2h1M128.1 277.8h1M138.2 283.7h1" stroke="rgb(146, 146, 214)" stroke-width="1" fill="none" opacity="0.75"/>
<path d="M129.0 276.4h1M114.3 278.1h1M126.6 286.5h1M112.2 278.8h1M128.8 265.6h1M115.6 296.8h1M129.6 292.7h1M119.8 306.1h1M122.9 304.2h1M117.9 303.5h1M126.9 284.1h1M116.3 288.6h1M120.5 285.5h1M122.1 303.1h1M115.5 296.1h1M121.3 305.7h1M118.1 306.0h1M115.5 297.7h1M129.3 294.1h1M116.4 298.7h1M127.2 303.8h1M120.5 305.4h1M119.8 304.7h1M128.3 291.5h1M128.4 288.2h1M127.2 300.6h1M128.3 301.0h1M129.2 301.4h1M116.7 302.4h1M127.7 290.8h1M127.1 257.3h1M131.4 267.9h1M129.0 249.7h1M128.1 256.2h1M128.0 251.1h1M128.8 252.2h1M129.0 251.8h1M120.4 237.6h1M129.2 257.0h1M128.1 247.5h1M128.7 247.7h1M126.9 244.4h1M123.2 243.7h1M128.1 248.2h1M130.2 249.5h1M130.6 260.8h1M128.9 250.1h1M130.4 260.9h1M107.9 265.0h1M129.1 250.8h1M114.6 242.6h1M128.5 255.7h1M110.2 244.9h1M110.4 233.4h1M113.6 236.6h1M105.5 246.6h1M123.0 238.7h1M120.9 239.2h1M101.2 238.7h1M111.6 244.2h1M118.1 232.3h1M125.9 243.1h1M110.5 246.4h1M127.6 241.6h1M120.2 237.0h1M112.5 251.3h1M113.5 233.0h1M105.8 250.8h1M108.7 256.1h1M106.2 245.5h1M111.6 257.7h1M108.3 242.7h1M111.7 245.8h1M121.9 240.6h1M103.3 259.6h1M112.2 236.5h1M103.3 247.9h1M104.4 234.0h1M117.3 230.5h1M111.2 232.7h1M118.8 237.9h1M116.2 245.7h1M105.6 238.2h1M113.0 225.3h1M95.3 251.7h1M106.1 228.5h1M126.2 246.9h1M106.3 233.1h1M107.1 252.9h1M107.1 253.6h1M110.9 247.7h1M124.8 242.9h1M126.6 238.1h1M128.0 238.9h1M123.5 254.3h1M122.7 237.3h1M120.4 238.1h1M105.2 247.1h1M107.4 252.1h1M116.4 233.8h1M117.3 233.5h1M120.1 231.2h1M106.5 265.7h1M115.4 245.1h1M118.8 238.3h1M124.8 255.1h1M119.4 235.6h1M119.5 235.7h1M125.5 240.9h1M113.1 232.2h1M120.6 236.1h1M107.7 260.2h1M108.4 234.2h1M108.5 245.0h1M117.2 234.0h1M94.1 261.2h1M107.5 240.9h1M114.2 228.9h1M127.0 239.0h1M120.5 240.0h1M102.1 248.9h1M124.8 242.7h1M116.8 234.8h1M116.7 244.8h1M110.8 251.3h1M114.2 238.0h1M111.3 233.5h1M124.8 282.9h1M108.4 266.7h1M108.7 259.4h1M110.6 268.1h1M108.2 253.5h1M110.5 266.7h1M114.5 279.7h1M111.3 262.8h1M112.2 273.7h1M111.9 260.6h1M110.6 273.8h1M112.5 259.8h1M111.1 266.8h1M114.6 258.1h1M109.7 261.8h1M111.6 258.7h1M107.7 257.7h1M109.6 270.1h1M111.5 248.4h1M114.8 280.8h1M108.2 268.8h1M114.8 275.6h1M108.0 262.9h1M110.4 257.2h1M110.4 272.5h1M117.9 235.9h1M112.6 266.9h1M103.2 245.6h1M111.5 249.3h1M113.8 263.1h1M109.6 262.9h1M107.7 262.3h1M107.8 264.7h1M112.4 252.4h1M110.6 261.4h1M108.2 269.7h1M111.6 257.6h1M120.8 237.2h1M114.7 283.2h1M112.5 258.3h1M124.6 245.0h1M111.9 270.0h1M111.8 271.8h1M107.7 270.1h1M113.0 260.2h1M108.8 252.9h1M106.5 265.7h1M109.3 259.1h1M107.0 268.1h1M121.4 250.3h1M114.3 265.5h1M112.3 259.0h1M112.6 250.9h1M109.1 263.6h1M107.3 266.9h1M110.2 263.5h1M120.7 240.3h1M112.0 271.7h1M113.2 271.6h1M103.7 258.7h1M105.5 257.9h1M111.2 272.2h1M130.3 269.0h1M132.0 268.4h1M126.1 307.2h1M131.7 283.2h1M111.1 274.0h1M128.5 242.1h1M130.9 273.5h1M125.1 234.3h1M131.5 277.5h1M115.8 289.8h1M129.7 275.2h1M128.6 284.7h1M124.4 304.0h1M117.8 303.4h1M130.8 269.8h1M129.8 269.6h1M116.1 287.6h1M118.4 304.5h1M114.3 297.1h1M114.0 285.2h1M113.8 292.5h1M132.9 273.6h1M129.8 280.4h1M132.4 267.3h1M132.2 269.0h1M131.2 273.6h1M126.9 306.0h1M132.1 283.0h1M129.8 247.5h1M110.1 283.5h1M115.0 283.7h1M110.4 282.7h1M112.8 287.5h1M130.1 254.5h1M130.0 301.9h1M127.8 302.5h1M109.4 288.6h1M129.3 290.5h1M109.9 277.9h1M121.5 306.2h1M119.3 305.8h1M128.3 303.9h1M108.6 272.8h1M121.0 306.4h1M127.9 284.2h1M117.5 285.9h1M128.7 300.8h1M130.0 292.5h1M129.3 296.5h1M114.9 297.3h1M116.0 288.1h1M114.7 283.8h1M129.5 285.1h1M132.3 272.5h1M115.2 305.5h1M127.8 305.0h1M129.0 298.0h1M110.5 279.6h1M123.1 306.4h1M113.1 284.7h1M109.7 290.0h1M96.9 246.4h1M83.0 251.7h1M90.7 237.8h1M84.3 259.8h1M85.2 254.2h1M86.8 236.2h1M91.1 231.4h1M99.1 250.7h1M95.1 238.2h1M88.1 244.7h1M107.8 257.9h1M91.1 255.7h1M87.8 253.9h1M95.0 249.9h1M95.5 241.9h1M101.4 256.8h1M110.8 255.2h1M113.8 236.5h1M96.0 245.5h1M98.9 248.6h1M108.1 241.1h1M85.8 247.2h1M95.7 263.0h1M94.7 249.8h1M92.3 231.2h1M82.9 251.7h1M92.2 249.2h1M98.0 242.6h1M96.0 235.9h1M108.7 243.9h1M89.2 254.1h1M97.2 240.8h1M95.5 240.7h1M90.5 241.4h1M108.8 248.8h1M94.2 235.5h1M100.5 240.0h1M93.7 235.3h1M89.6 244.3h1M90.7 252.6h1M107.7 257.4h1M86.6 259.7h1M98.2 245.6h1M87.7 233.9h1M108.0 251.9h1M96.7 249.9h1M94.5 234.4h1M90.0 235.9h1M93.6 257.4h1M106.0 258.0h1M105.3 266.3h1M95.3 250.0h1M107.0 255.0h1M108.0 232.6h1M98.5 243.1h1M90.4 236.8h1M89.3 251.9h1M84.8 243.5h1M96.6 245.0h1M95.2 249.0h1M93.9 251.8h1M92.2 246.7h1M87.7 234.4h1M86.5 237.9h1M88.1 241.4h1M93.2 241.2h1M94.5 245.0h1M105.9 249.0h1M105.5 247.1h1M92.6 247.2h1M81.1 235.4h1M82.4 247.0h1M108.3 248.5h1M99.6 239.2h1M108.1 268.8h1M89.6 233.4h1M85.0 257.2h1M106.8 258.8h1M107.1 232.3h1M80.5 236.4h1M103.4 236.2h1M89.4 248.9h1M87.5 249.6h1M87.0 259.3h1M94.2 241.6h1M85.3 259.3h1M104.0 258.3h1M96.9 238.8h1M95.5 244.8h1M93.7 245.8h1M82.5 248.8h1M104.4 250.9h1M87.8 244.4h1M96.6 253.3h1M92.6 231.9h1M86.0 234.7h1M87.2 246.9h1M97.7 244.5h1M108.5 244.9h1M104.7 244.3h1M96.3 236.0h1M106.0 270.9h1M91.8 242.7h1M86.4 236.1h1M97.5 247.2h1M83.7 243.4h1M86.5 255.0h1M93.2 263.8h1M94.5 256.9h1M86.5 246.3h1M95.9 234.9h1M88.2 245.7h1M98.7 259.3h1M93.8 247.8h1M94.0 254.8h1M89.1 255.0h1M100.1 243.6h1M98.2 240.3h1M86.7 247.4h1M92.5 242.3h1M85.3 234.9h1M84.9 247.7h1M87.9 245.8h1M105.6 248.7h1M88.7 261.6h1M82.6 246.0h1M92.9 246.9h1M83.2 245.9h1M94.2 241.1h1M87.7 239.1h1M98.1 247.9h1M100.5 233.5h1M100.7 246.4h1M95.0 236.5h1M87.4 253.2h1M92.9 245.0h1M107.5 237.4h1M85.0 249.6h1M83.7 248.0h1M104.7 255.9h1M84.1 242.7h1M91.4 243.7h1M90.3 239.3h1M94.7 256.5h1M96.9 234.1h1M101.9 232.8h1M105.0 254.6h1M92.3 238.4h1M97.7 244.1h1M91.5 261.5h1M89.1 239.5h1M89.7 234.2h1M93.9 252.2h1M102.8 235.7h1M88.6 247.8h1M98.3 251.0h1M97.0 236.7h1M91.1 243.5h1M84.0 242.9h1M89.9 229.4h1M94.0 250.0h1M110.2 254.0h1M96.6 259.6h1M86.0 239.2h1M89.3 231.6h1M89.1 255.4h1M91.5 231.7h1M95.0 251.5h1M94.4 254.8h1M102.0 235.7h1M95.2 250.3h1M90.7 252.0h1M100.5 248.9h1M85.6 243.3h1M86.0 254.5h1M92.4 251.2h1M87.6 257.7h1M83.0 237.9h1M88.2 251.4h1M100.1 236.6h1M80.1 229.4h1M96.6 260.7h1M105.6 239.1h1M94.8 251.0h1M86.8 244.3h1M97.3 244.8h1M102.4 249.9h1M94.6 234.8h1M106.5 242.1h1M94.6 248.7h1M88.8 257.5h1M107.2 265.3h1M105.1 252.7h1M101.6 236.6h1M88.6 239.3h1M92.3 256.0h1M110.3 241.6h1M103.5 241.2h1M99.2 233.9h1M91.5 233.7h1M90.5 252.5h1M90.5 257.0h1M85.6 241.5h1M104.5 238.9h1M94.3 259.2h1M99.3 251.1h1M86.9 247.4h1M104.0 257.8h1M93.7 233.7h1M89.7 257.8h1M101.1 246.4h1M90.4 250.7h1M86.0 254.7h1M85.7 259.5h1M83.0 235.6h1M90.7 259.9h1M84.8 261.3h1M84.8 250.9h1M91.3 231.1h1M86.8 252.2h1M87.1 236.2h1M103.9 247.5h1M97.8 249.2h1M88.4 261.2h1M100.0 246.5h1M98.2 244.3h1M82.7 244.6h1M100.1 245.1h1M85.8 241.1h1M92.5 255.2h1M99.0 243.5h1M107.8 237.8h1M91.7 244.3h1M106.7 261.1h1M96.7 243.1h1M106.2 251.9h1M90.8 262.4h1M110.9 228.8h1M107.6 234.9h1M91.3 253.2h1M88.3 257.7h1M92.3 253.2h1M90.9 243.7h1M88.9 259.7h1M84.5 245.1h1M106.9 248.9h1M108.4 231.6h1M90.8 238.9h1M90.0 245.2h1M86.6 247.6h1M101.6 249.5h1M83.0 249.1h1M95.7 241.7h1M103.6 243.7h1M106.6 243.4h1M92.2 237.8h1M120.9 238.8h1M94.5 239.7h1M87.5 259.7h1M97.4 239.5h1M95.6 228.5h1M92.5 241.3h1M83.1 249.6h1M95.4 233.7h1M103.3 237.0h1M107.1 255.6h1M83.3 245.4h1M100.9 236.9h1M87.9 247.2h1M92.7 254.9h1M95.1 249.8h1M85.5 241.1h1M84.2 254.3h1M88.1 238.0h1M99.4 234.3h1M93.7 259.9h1M103.2 241.0h1M95.9 250.2h1M99.2 251.1h1M89.2 245.4h1M107.7 255.6h1M90.8 251.3h1M108.2 241.9h1M96.9 241.9h1M88.7 230.8h1M93.2 245.9h1M98.8 247.1h1M89.1 232.1h1M92.4 252.5h1M82.4 239.6h1M84.4 244.0h1M84.8 251.7h1M85.4 244.6h1M104.0 233.9h1M97.9 233.6h1M93.0 241.5h1M98.5 258.1h1M83.3 242.6h1M95.7 237.5h1M92.4 244.0h1M114.9 235.9h1M83.7 251.3h1M86.6 241.1h1M85.2 244.4h1M101.0 242.2h1M108.8 246.9h1M95.1 257.6h1M80.9 234.7h1M97.2 259.8h1M84.2 237.4h1M106.5 248.9h1M92.9 252.9h1M99.4 245.6h1M101.2 234.8h1M87.3 242.2h1M85.5 252.5h1M107.4 235.2h1M87.6 238.4h1M87.7 238.8h1M104.9 257.7h1M95.8 256.4h1M93.8 253.2h1M93.0 258.9h1M90.9 246.7h1M95.1 258.5h1M84.9 251.1h1M102.0 244.7h1M92.6 237.0h1M101.3 234.0h1M98.2 234.7h1M91.3 237.8h1M87.1 254.2h1M112.1 229.8h1M89.1 237.7h1M104.5 243.7h1M89.5 252.8h1M85.0 242.9h1M86.8 250.2h1M97.2 255.8h1M91.1 242.1h1M96.4 238.9h1M92.9 226.0h1M89.6 250.0h1M80.5 247.9h1M93.1 243.9h1M92.1 257.5h1M90.0 252.0h1M92.7 250.0h1M89.8 257.0h1M92.8 260.1h1M90.1 260.6h1M85.9 256.5h1M98.9 232.6h1M92.8 249.5h1M92.6 255.5h1M99.7 235.6h1M101.3 250.0h1M98.9 249.7h1M99.0 251.2h1M109.4 243.3h1M84.7 245.0h1M82.7 236.5h1M109.9 263.0h1M92.8 237.3h1M106.2 263.1h1M90.7 236.6h1M93.6 257.0h1M88.0 244.3h1M86.1 243.4h1M89.6 258.7h1M84.2 235.9h1M110.7 257.9h1M85.2 243.1h1M96.6 254.3h1M95.6 233.3h1M85.4 259.3h1M80.0 247.4h1M99.1 247.3h1M82.4 252.0h1M97.7 253.2h1M86.9 238.5h1M99.2 238.6h1M116.5 234.7h1M88.1 237.6h1M104.5 260.1h1M93.0 235.7h1M91.5 238.1h1M111.7 250.9h1M91.8 230.1h1M82.2 263.1h1M87.1 244.4h1M89.0 240.4h1M94.0 245.3h1M92.3 241.0h1M114.5 231.7h1M91.4 257.7h1M87.3 258.6h1M105.6 253.5h1M93.0 236.4h1M114.1 249.0h1M89.9 258.5h1M98.5 237.1h1M82.5 251.4h1M106.9 240.2h1M92.3 235.3h1M118.5 241.9h1M88.5 251.4h1M91.2 250.0h1M94.8 238.5h1M88.2 233.8h1M80.4 235.7h1M103.3 255.2h1M94.2 255.4h1M107.8 262.8h1M97.9 235.0h1M101.5 251.7h1M87.6 237.6h1M110.4 259.2h1M101.5 243.6h1M109.3 235.4h1M87.4 260.5h1M93.0 235.5h1M87.3 252.7h1M91.9 258.3h1M85.2 254.1h1M77.4 236.6h1M82.7 245.5h1M96.4 238.7h1M86.0 245.5h1M98.8 243.3h1M90.7 260.4h1M87.6 235.2h1M85.8 236.3h1M79.1 233.6h1M97.2 235.1h1M100.8 237.5h1M89.3 231.7h1M87.1 232.6h1M95.9 248.9h1M92.2 256.6h1M90.5 257.7h1M80.4 243.8h1M87.3 235.5h1M96.6 257.6h1M98.6 252.0h1M84.5 240.7h1M109.0 235.8h1M114.7 246.2h1M117.6 232.3h1M115.2 242.7h1M97.0 237.6h1M105.3 242.9h1M110.4 239.0h1M113.7 226.7h1M110.1 246.1h1M122.6 237.9h1M115.1 234.2h1M106.5 233.6h1M106.5 231.0h1M116.3 236.4h1M113.0 237.4h1M111.3 234.4h1M108.2 235.0h1M109.8 241.2h1M105.3 232.4h1M99.5 231.9h1M117.6 233.0h1M111.1 230.5h1M110.1 232.1h1M112.5 237.0h1M97.6 242.7h1M111.5 248.5h1M119.1 231.0h1M113.3 235.3h1M113.2 239.0h1M86.6 239.2h1M101.5 234.6h1M112.3 245.3h1M118.2 232.7h1M101.3 238.0h1M107.3 238.9h1M106.9 237.6h1M109.3 242.9h1M120.3 238.0h1M116.2 233.4h1M104.1 240.7h1M112.9 237.7h1M114.8 236.1h1M97.0 240.1h1M97.5 236.8h1M117.4 231.2h1M116.5 231.2h1M123.0 240.3h1M114.8 231.3h1M108.1 232.0h1M104.4 249.2h1M122.5 239.5h1M112.5 231.9h1M105.6 243.3h1M113.0 236.6h1M121.4 237.5h1M107.9 235.5h1M112.7 226.6h1M117.0 231.4h1M103.1 232.6h1M116.6 230.6h1M104.6 235.2h1M111.0 235.2h1M124.6 236.4h1M107.9 236.0h1M108.6 233.1h1M108.3 239.5h1M125.6 243.7h1M97.1 238.5h1M112.3 232.2h1M108.4 233.0h1M113.5 235.9h1M105.2 231.7h1M121.2 239.8h1M114.6 231.1h1M117.4 233.0h1M99.8 245.5h1M114.2 232.0h1M102.4 237.4h1M116.5 233.0h1M112.5 234.0h1M103.1 242.2h1M100.7 286.2h1M88.8 289.0h1M92.2 290.4h1M101.0 290.6h1M99.3 288.7h1M97.0 286.6h1M93.5 287.9h1M88.2 290.7h1M97.7 293.1h1M91.1 291.1h1M99.6 289.1h1M89.9 290.1h1M95.7 291.4h1M108.2 289.4h1M98.8 291.4h1M91.0 292.2h1M103.5 287.4h1M101.3 289.4h1M103.7 287.2h1M96.6 287.1h1M98.0 286.8h1M96.7 292.3h1M92.2 290.7h1M89.3 289.2h1M90.7 290.3h1M93.4 287.9h1M100.7 285.6h1M94.2 290.4h1M90.3 286.9h1M99.3 292.2h1M90.9 287.6h1M92.2 289.1h1M93.8 286.9h1M97.9 287.0h1M102.1 289.6h1M113.1 288.4h1M92.5 290.4h1M93.9 288.7h1M101.1 287.3h1M116.6 287.5h1M103.0 287.3h1M92.1 286.9h1M104.1 287.4h1M100.4 286.4h1M90.9 291.2h1M90.8 292.3h1M101.8 288.5h1M102.2 289.9h1M94.2 292.8h1M93.6 288.0h1M92.6 287.2h1M99.2 286.8h1M106.4 290.2h1M90.5 291.0h1M104.6 289.3h1M98.2 290.4h1M99.2 287.5h1M94.0 288.3h1M86.3 290.3h1M98.1 287.9h1M91.4 288.3h1M100.3 291.6h1M96.8 287.0h1M100.5 288.8h1M86.8 290.8h1M96.3 289.2h1M90.8 288.8h1M98.7 287.0h1M93.1 290.1h1M102.2 288.1h1M103.4 291.2h1M86.6 289.4h1M84.7 291.5h1M101.3 289.4h1M87.7 288.7h1M100.0 290.5h1M100.4 291.7h1M86.4 290.2h1M95.5 291.4h1M101.0 286.8h1M94.9 287.2h1M96.0 291.2h1M98.5 287.9h1M90.2 289.3h1M93.1 288.5h1M96.1 291.9h1M93.2 292.1h1M89.8 290.6h1M71.7 296.3h1M80.5 307.0h1M85.6 293.0h1M94.7 291.2h1M98.7 293.9h1M88.1 290.8h1M81.9 305.6h1M80.3 306.0h1M82.4 303.0h1M85.9 290.0h1M118.1 303.2h1M86.7 291.2h1M98.5 292.6h1M95.2 291.8h1M86.8 292.4h1M97.2 289.5h1M94.0 295.0h1M99.3 288.6h1M91.8 298.7h1M89.5 290.2h1M109.2 261.9h1M115.4 294.9h1M90.4 260.3h1M94.3 259.0h1M124.7 303.7h1M110.0 249.2h1M108.8 270.9h1M126.9 283.3h1M100.3 291.1h1M98.5 289.9h1M108.1 256.1h1M94.8 249.0h1M121.4 250.8h1M126.1 303.9h1M102.0 288.1h1M110.4 256.4h1" stroke="rgb(118, 118, 203)" stroke-width="1" fill="none" opacity="0.75"/>
<path d="M112.2 261.4h1M126.4 246.8h1M115.8 277.2h1M127.8 278.9h1M129.2 269.4h1M128.3 274.3h1M114.3 279.3h1M127.3 256.8h1M126.9 282.8h1M127.1 270.9h1M120.2 284.4h1M116.7 286.1h1M127.1 275.0h1M128.0 279.6h1M126.1 259.4h1M116.7 280.3h1M127.8 301.1h1M125.5 301.8h1M117.7 302.7h1M127.2 300.7h1M118.9 290.5h1M129.6 297.1h1M127.0 300.4h1M127.9 298.1h1M115.1 294.4h1M119.8 302.5h1M117.3 289.0h1M121.5 303.0h1M115.7 294.9h1M117.5 298.8h1M116.7 293.6h1M127.9 302.5h1M124.2 286.4h1M124.6 302.5h1M126.2 300.4h1M116.0 297.9h1M124.4 303.6h1M119.9 285.7h1M119.6 303.7h1M123.7 283.9h1M124.3 285.3h1M121.3 287.2h1M119.4 303.5h1M117.1 300.7h1M124.2 304.7h1M125.2 302.2h1M128.9 297.1h1M115.9 289.8h1M126.8 298.4h1M125.4 289.9h1M107.4 249.7h1M128.0 273.0h1M124.1 252.4h1M110.4 262.8h1M109.3 266.8h1M115.7 240.7h1M118.5 233.0h1M111.2 242.6h1M127.4 262.3h1M114.3 274.5h1M125.8 245.8h1M115.6 244.6h1M128.8 261.2h1M125.0 254.7h1M109.8 251.7h1M125.3 250.1h1M126.0 252.6h1M124.4 248.0h1M129.3 258.7h1M124.5 240.5h1M127.3 258.8h1M124.6 244.3h1M128.1 264.4h1M111.6 261.5h1M119.9 235.4h1M112.7 247.7h1M124.4 248.9h1M119.7 241.9h1M115.3 250.3h1M123.2 241.9h1M124.1 250.8h1M117.5 242.1h1M110.2 257.2h1M116.2 244.9h1M103.1 243.1h1M112.9 245.6h1M126.1 244.4h1M116.9 235.8h1M125.2 251.0h1M102.7 241.2h1M109.0 235.1h1M121.8 248.3h1M114.2 240.5h1M116.7 235.1h1M106.9 250.7h1M122.1 242.5h1M105.6 240.5h1M124.9 247.2h1M109.6 243.5h1M117.6 232.6h1M100.5 248.8h1M110.6 252.2h1M115.6 247.6h1M113.9 252.1h1M121.6 238.7h1M118.1 242.6h1M113.6 253.5h1M116.2 245.1h1M107.5 235.0h1M113.8 239.9h1M114.0 239.5h1M123.9 242.8h1M110.7 234.7h1M108.9 231.4h1M109.2 246.3h1M119.6 242.2h1M125.7 250.1h1M116.2 248.5h1M119.4 240.4h1M116.0 247.7h1M100.0 236.6h1M114.2 237.9h1M115.8 240.1h1M114.3 230.9h1M108.7 246.1h1M100.5 236.1h1M120.7 251.4h1M103.9 239.5h1M110.1 239.9h1M104.3 248.0h1M104.8 244.1h1M112.8 244.1h1M105.3 242.4h1M108.7 248.1h1M108.8 256.2h1M104.8 246.5h1M102.0 242.7h1M114.6 239.5h1M117.8 245.2h1M114.4 241.3h1M117.1 240.4h1M115.1 251.9h1M118.9 243.8h1M109.0 256.9h1M111.0 255.9h1M109.6 247.1h1M98.6 238.0h1M112.4 245.4h1M105.8 250.9h1M118.8 243.9h1M113.8 241.5h1M123.2 241.7h1M125.1 249.8h1M107.4 244.1h1M97.2 250.2h1M116.9 243.4h1M107.4 256.2h1M110.5 239.5h1M112.1 250.5h1M104.5 242.6h1M107.8 233.6h1M112.2 241.1h1M111.2 245.7h1M108.3 251.7h1M104.9 240.0h1M117.8 247.7h1M112.5 236.4h1M113.5 236.3h1M111.7 244.0h1M112.3 237.3h1M111.3 244.8h1M110.8 239.8h1M113.1 251.6h1M108.5 256.9h1M114.8 246.2h1M109.4 253.3h1M114.5 251.1h1M125.8 247.6h1M114.9 233.1h1M117.2 245.5h1M105.9 244.9h1M110.5 252.8h1M107.1 254.7h1M114.7 241.8h1M122.3 243.3h1M114.5 241.7h1M108.2 246.6h1M117.9 246.3h1M110.3 241.8h1M119.6 283.7h1M127.6 262.0h1M113.5 264.1h1M115.0 260.4h1M113.8 250.6h1M113.6 262.6h1M111.4 256.6h1M110.8 268.6h1M114.6 263.8h1M112.8 256.1h1M109.6 267.5h1M110.5 247.9h1M112.0 267.8h1M116.4 251.5h1M117.6 269.8h1M109.2 250.1h1M111.5 251.5h1M109.9 269.9h1M106.9 260.1h1M123.2 259.2h1M117.6 257.7h1M114.2 269.1h1M110.0 270.9h1M127.1 260.1h1M108.1 247.8h1M117.2 254.6h1M112.9 237.2h1M112.4 269.3h1M108.6 254.4h1M117.8 244.4h1M116.4 252.5h1M111.6 258.1h1M111.2 247.2h1M111.8 253.4h1M112.2 263.6h1M120.1 255.0h1M112.3 270.3h1M111.3 270.1h1M112.9 252.5h1M109.9 269.2h1M115.0 255.4h1M114.7 273.9h1M115.8 249.3h1M118.6 257.7h1M108.8 258.0h1M111.3 264.0h1M113.1 246.8h1M109.0 250.1h1M113.1 248.8h1M112.1 270.2h1M115.4 262.7h1M107.2 247.4h1M111.1 267.4h1M124.0 246.9h1M113.6 265.1h1M113.0 266.7h1M112.7 268.2h1M114.3 263.1h1M106.8 257.3h1M111.6 248.1h1M111.4 263.4h1M113.5 253.4h1M109.2 258.5h1M107.5 243.8h1M118.5 251.3h1M111.3 268.1h1M114.9 249.4h1M113.5 270.6h1M107.1 267.6h1M114.1 274.4h1M113.7 273.2h1M108.9 268.0h1M115.7 293.3h1M125.1 255.3h1M126.8 260.2h1M124.9 304.0h1M130.4 264.9h1M105.1 249.0h1M124.9 252.9h1M116.5 290.9h1M116.6 297.8h1M124.9 287.3h1M128.2 254.7h1M115.4 292.4h1M120.2 285.1h1M108.1 271.3h1M110.8 273.7h1M116.7 293.6h1M129.1 299.9h1M125.8 285.6h1M128.5 279.1h1M127.7 284.7h1M114.5 282.9h1M118.6 284.3h1M125.5 249.7h1M126.9 282.4h1M114.7 277.0h1M125.3 245.9h1M121.7 302.9h1M115.0 278.5h1M118.8 287.8h1M115.1 280.8h1M112.9 275.2h1M123.1 285.6h1M115.7 285.0h1M117.1 282.1h1M117.7 283.9h1M127.4 250.7h1M128.6 293.1h1M128.8 264.0h1M127.9 298.2h1M127.8 254.4h1M117.8 292.2h1M128.6 282.4h1M116.4 284.2h1M129.5 297.1h1M126.2 286.6h1M111.6 275.0h1M127.8 286.4h1M129.0 280.9h1M113.6 291.3h1M127.5 291.8h1M123.5 285.2h1M129.2 273.7h1M103.8 285.4h1M115.6 291.6h1M102.3 237.5h1M86.3 242.2h1M100.6 238.3h1M93.5 243.4h1M107.4 256.7h1M106.7 253.5h1M106.9 256.3h1M110.5 241.0h1M93.9 242.6h1M95.3 246.1h1M95.7 245.2h1M87.1 244.7h1M91.6 250.6h1M114.4 233.3h1M94.2 252.0h1M96.9 248.8h1M106.4 239.0h1M105.4 246.0h1M99.6 245.3h1M101.0 241.4h1M97.4 241.8h1M85.8 240.6h1M95.3 239.8h1M83.6 243.8h1M97.4 242.1h1M97.1 241.5h1M109.6 253.5h1M99.7 237.4h1M95.6 235.7h1M82.9 244.1h1M104.0 244.1h1M107.2 239.1h1M91.3 256.7h1M86.3 242.4h1M102.4 237.1h1M98.9 236.3h1M98.5 245.3h1M89.6 259.4h1M103.6 241.9h1M97.6 243.9h1M107.2 247.4h1M97.4 245.1h1M104.5 245.0h1M89.3 260.4h1M100.3 248.7h1M99.5 238.2h1M101.8 239.7h1M103.2 242.4h1M107.6 241.0h1M99.9 238.4h1M98.5 240.0h1M103.7 244.4h1M117.3 275.5h1M107.2 247.0h1M86.9 250.6h1M104.6 242.3h1M110.7 236.3h1M100.4 247.6h1M106.4 241.0h1M90.7 257.2h1M95.7 239.4h1M99.2 245.8h1M100.4 240.1h1M115.9 255.4h1M97.9 234.3h1M102.6 236.6h1M108.5 254.3h1M120.2 245.0h1M93.9 241.7h1M107.0 243.6h1M91.3 252.0h1M99.6 238.0h1M90.4 241.5h1M86.7 249.7h1M105.1 245.1h1M88.1 241.4h1M96.3 241.2h1M97.9 242.7h1M105.6 241.8h1M99.2 242.5h1M102.1 240.1h1M98.6 242.8h1M102.1 243.8h1M114.8 247.6h1M90.3 251.8h1M99.5 239.6h1M113.9 244.4h1M111.3 252.2h1M94.0 251.3h1M99.6 256.4h1M87.1 241.0h1M93.3 239.4h1M108.9 244.9h1M106.0 239.8h1M106.4 232.2h1M113.1 239.8h1M108.7 235.1h1M93.1 243.1h1M104.9 236.5h1M106.0 235.8h1M109.9 237.8h1M103.6 237.2h1M117.0 246.2h1M102.6 240.2h1M98.3 238.0h1M103.3 236.0h1M108.2 236.0h1M110.2 237.8h1M113.4 238.8h1M106.0 244.7h1M108.1 240.2h1M116.5 241.9h1M101.3 236.7h1M110.0 240.2h1M111.5 240.5h1M121.8 241.4h1M109.7 239.2h1M104.5 238.5h1M114.6 233.5h1M107.8 241.5h1M109.4 237.2h1M104.9 242.9h1M120.2 243.0h1M105.6 239.7h1M105.7 238.4h1M117.0 240.8h1M117.8 239.7h1M106.9 242.1h1M117.9 246.1h1M113.6 236.0h1M124.3 243.3h1M109.6 239.9h1M118.6 241.8h1M112.3 235.1h1M100.7 290.0h1M99.3 287.4h1M101.2 288.3h1M99.0 288.1h1M96.0 290.1h1M101.1 287.0h1M97.9 291.7h1M98.2 289.6h1M90.3 289.0h1M98.9 289.3h1M96.1 289.5h1M99.5 291.8h1M99.5 286.9h1M120.8 301.4h1M92.3 289.7h1M93.9 289.9h1M92.8 289.2h1M122.6 303.7h1M119.0 252.1h1M93.8 291.1h1M127.8 271.4h1M119.4 297.0h1M111.0 247.4h1M126.0 263.5h1M128.5 296.9h1M121.9 281.2h1M119.5 292.5h1M117.4 277.1h1M116.9 253.5h1M127.7 263.9h1M124.7 251.6h1" stroke="rgb(91, 96, 190)" stroke-width="1" fill="none" opacity="0.75"/>
<path d="M127.6 279.6h1M119.6 278.8h1M116.1 280.5h1M128.0 274.6h1M122.5 282.4h1M124.4 269.8h1M116.1 279.4h1M126.9 277.6h1M127.8 270.2h1M127.5 272.8h1M123.9 262.2h1M127.7 266.7h1M123.1 258.9h1M121.2 281.7h1M127.1 273.3h1M126.7 256.6h1M127.2 282.7h1M127.1 280.0h1M125.5 279.0h1M123.6 257.9h1M113.0 275.6h1M127.5 273.7h1M119.3 286.0h1M120.3 302.7h1M122.9 290.1h1M117.4 295.3h1M117.7 295.0h1M120.1 297.6h1M123.6 288.9h1M124.7 302.3h1M124.3 303.2h1M120.5 299.4h1M129.8 296.6h1M119.1 301.5h1M124.7 301.0h1M122.0 288.1h1M124.8 294.0h1M120.3 286.1h1M118.1 295.5h1M120.6 304.2h1M127.5 294.3h1M125.1 293.1h1M117.1 299.4h1M120.8 298.5h1M124.6 298.8h1M128.2 295.1h1M120.6 291.7h1M119.9 304.5h1M116.9 281.4h1M125.3 292.7h1M123.6 303.5h1M122.2 301.4h1M127.5 294.5h1M124.9 298.2h1M123.2 293.9h1M127.8 294.9h1M124.0 302.9h1M123.2 302.9h1M121.4 303.0h1M127.6 293.6h1M119.5 290.6h1M126.4 292.1h1M121.5 288.0h1M122.6 242.3h1M109.5 261.6h1M115.6 276.3h1M118.1 250.0h1M114.7 275.0h1M122.0 247.8h1M124.4 254.1h1M127.1 249.1h1M126.9 264.1h1M127.1 255.1h1M124.7 247.0h1M123.2 247.5h1M118.6 250.3h1M127.1 255.2h1M123.3 252.5h1M120.5 255.2h1M127.1 256.3h1M122.9 248.9h1M122.8 251.5h1M124.7 246.9h1M127.5 263.0h1M119.9 245.4h1M113.7 252.0h1M113.7 258.4h1M128.8 267.2h1M125.1 250.1h1M126.9 262.9h1M125.7 249.2h1M122.7 253.7h1M108.1 251.7h1M126.4 255.1h1M123.0 245.1h1M123.8 252.8h1M121.6 250.0h1M115.3 263.6h1M110.3 243.9h1M114.2 250.3h1M112.3 266.7h1M121.7 244.1h1M112.2 241.2h1M115.5 255.3h1M109.5 253.0h1M108.3 249.4h1M102.3 240.1h1M120.3 244.0h1M122.2 259.6h1M117.8 240.5h1M119.6 245.7h1M118.1 252.0h1M125.6 246.8h1M114.2 246.3h1M119.0 246.4h1M109.3 240.7h1M105.7 241.9h1M124.1 246.7h1M112.6 248.3h1M117.0 245.6h1M114.4 237.6h1M111.4 238.5h1M115.4 234.7h1M111.8 238.9h1M121.1 247.9h1M104.8 251.4h1M115.9 244.0h1M121.5 245.1h1M121.0 243.8h1M119.4 250.3h1M122.3 246.7h1M114.2 257.0h1M109.5 241.8h1M119.2 243.4h1M116.6 236.5h1M121.2 243.8h1M108.0 253.7h1M118.4 246.3h1M109.4 244.0h1M113.5 243.9h1M119.1 250.7h1M112.2 242.4h1M113.8 244.1h1M111.0 243.5h1M119.6 245.6h1M114.6 254.6h1M102.6 238.6h1M111.1 237.0h1M113.0 253.1h1M118.6 271.0h1M117.9 256.2h1M114.0 270.7h1M116.6 278.9h1M115.7 274.5h1M115.5 261.4h1M113.1 250.0h1M113.0 269.5h1M115.3 261.5h1M120.2 279.7h1M113.1 255.0h1M114.5 262.9h1M111.9 267.7h1M114.6 267.4h1M114.8 269.8h1M115.9 264.0h1M113.2 257.6h1M119.6 260.6h1M109.4 253.9h1M115.1 259.6h1M113.7 261.9h1M115.6 275.3h1M120.6 277.7h1M122.3 262.3h1M118.0 270.6h1M118.2 263.5h1M116.5 273.6h1M118.0 245.0h1M113.6 261.7h1M110.5 264.8h1M113.8 257.4h1M115.7 266.3h1M115.8 274.7h1M117.1 246.7h1M112.6 263.6h1M114.5 252.6h1M117.7 259.3h1M115.9 250.1h1M122.3 251.7h1M111.6 266.6h1M111.5 268.5h1M129.6 268.2h1M120.4 282.1h1M115.4 276.5h1M110.3 266.4h1M124.4 289.9h1M123.0 261.1h1M125.1 263.6h1M125.3 283.8h1M126.7 283.0h1M124.3 288.0h1M114.7 281.0h1M119.4 299.8h1M117.0 282.5h1M128.6 293.0h1M121.6 281.9h1M124.1 282.0h1M115.6 294.6h1M107.1 254.2h1M119.5 286.9h1M110.6 270.6h1M127.3 295.6h1M125.7 265.2h1M128.6 281.2h1M119.7 283.8h1M124.5 282.4h1M122.9 285.7h1M118.6 260.3h1M123.0 282.6h1M126.1 303.0h1M114.3 279.2h1M129.7 275.9h1M128.3 260.1h1M123.7 241.4h1M126.5 281.8h1M126.4 280.6h1M116.4 292.2h1M119.4 286.2h1M118.6 292.8h1M118.5 292.2h1M117.0 249.3h1M109.0 267.8h1M114.6 252.2h1M101.9 236.6h1M115.2 255.3h1M95.1 241.0h1M98.4 243.8h1M117.4 250.9h1M110.8 249.5h1M115.3 244.9h1M97.5 248.8h1M115.1 238.2h1M109.2 237.0h1M107.4 238.0h1M118.7 292.4h1M114.8 267.8h1M124.0 278.0h1" stroke="rgb(71, 102, 185)" stroke-width="1" fill="none" opacity="0.75"/>
<path d="M120.5 278.2h1M118.4 281.7h1M126.9 266.5h1M122.3 279.9h1M115.6 257.7h1M121.9 266.8h1M122.8 258.2h1M116.0 261.3h1M126.1 272.7h1M123.6 282.5h1M114.8 259.4h1M124.4 287.9h1M114.5 272.5h1M127.9 262.1h1M122.4 257.1h1M123.8 287.7h1M120.2 274.6h1M121.0 287.5h1M126.7 269.3h1M126.9 267.2h1M116.7 280.4h1M116.7 279.6h1M121.5 285.9h1M114.6 275.0h1M121.3 284.9h1M115.2 273.6h1M113.2 270.1h1M126.1 275.9h1M122.7 279.6h1M126.9 275.1h1M121.6 281.6h1M117.5 278.0h1M124.5 268.1h1M120.4 287.4h1M127.1 273.6h1M124.2 261.7h1M112.7 261.8h1M126.0 263.7h1M127.3 276.9h1M117.5 281.2h1M126.3 274.5h1M118.1 273.5h1M119.0 289.6h1M123.0 301.7h1M118.2 294.3h1M118.9 298.3h1M121.3 303.5h1M121.7 295.1h1M123.8 292.8h1M124.3 291.8h1M125.1 298.8h1M116.2 290.9h1M122.0 299.4h1M117.0 293.6h1M118.7 292.3h1M121.6 292.2h1M125.7 302.2h1M123.7 293.3h1M125.2 303.2h1M121.7 299.1h1M118.4 300.3h1M124.4 298.6h1M124.7 290.1h1M123.2 298.8h1M125.9 292.2h1M122.9 293.3h1M124.4 282.9h1M119.9 291.0h1M120.3 290.5h1M119.6 300.7h1M125.2 297.3h1M118.6 293.8h1M124.4 282.3h1M125.2 279.9h1M125.2 295.4h1M121.1 286.3h1M119.6 292.6h1M123.6 295.3h1M122.9 294.9h1M127.1 297.2h1M122.6 302.0h1M120.3 298.9h1M125.7 297.3h1M123.9 289.0h1M121.9 302.1h1M120.9 300.3h1M121.2 297.2h1M121.5 291.2h1M120.2 302.8h1M118.0 294.2h1M124.5 289.4h1M120.3 292.0h1M126.4 281.5h1M119.6 292.2h1M125.2 295.0h1M121.8 296.0h1M125.4 296.0h1M117.1 290.3h1M119.8 301.0h1M119.1 299.5h1M119.7 298.0h1M125.4 298.3h1M119.6 292.2h1M126.9 294.6h1M125.1 259.2h1M115.2 242.0h1M118.6 254.9h1M129.1 268.2h1M119.1 251.5h1M128.0 265.5h1M123.9 259.2h1M123.3 245.7h1M116.3 263.5h1M122.0 255.7h1M113.3 265.0h1M118.8 254.7h1M127.6 257.0h1M113.4 241.4h1M120.9 254.6h1M113.6 252.8h1M122.6 256.5h1M119.2 241.7h1M115.5 255.7h1M113.4 258.2h1M124.1 259.3h1M111.2 261.5h1M123.2 252.7h1M116.3 245.0h1M117.4 251.9h1M114.4 242.1h1M117.3 244.5h1M124.1 241.6h1M118.7 251.7h1M117.8 253.2h1M124.2 256.8h1M121.7 248.5h1M113.3 265.7h1M124.7 261.0h1M123.3 254.9h1M113.0 238.8h1M122.2 247.4h1M121.7 256.2h1M125.1 262.2h1M121.2 246.3h1M117.7 241.9h1M122.3 251.6h1M116.1 261.0h1M112.7 245.0h1M127.6 253.9h1M113.4 251.9h1M126.9 266.2h1M113.0 268.5h1M112.2 254.9h1M127.6 262.4h1M116.4 250.2h1M122.9 251.7h1M117.0 276.2h1M122.0 256.4h1M116.8 255.9h1M117.2 248.4h1M118.2 256.8h1M114.9 246.9h1M116.5 252.9h1M109.4 245.6h1M118.6 246.9h1M119.7 251.7h1M122.0 255.2h1M118.2 253.1h1M120.8 247.9h1M118.0 252.2h1M117.7 245.1h1M120.1 242.6h1M118.6 248.9h1M118.0 244.6h1M102.6 240.0h1M119.9 252.9h1M118.8 244.9h1M117.5 264.0h1M119.6 244.0h1M121.0 253.5h1M117.1 253.0h1M119.4 246.1h1M119.4 245.0h1M118.7 244.2h1M117.3 272.9h1M119.9 251.7h1M120.7 274.7h1M107.6 256.2h1M118.4 259.4h1M116.6 272.6h1M116.1 270.8h1M116.2 250.7h1M118.2 251.0h1M121.1 262.7h1M116.9 263.7h1M118.5 262.2h1M116.6 271.8h1M116.7 249.4h1M121.8 261.1h1M115.0 269.7h1M120.7 283.7h1M122.4 262.5h1M117.2 265.9h1M125.6 271.3h1M120.3 259.8h1M114.4 267.0h1M117.9 273.5h1M118.4 261.7h1M115.6 260.7h1M117.0 266.0h1M116.7 254.1h1M128.0 269.5h1M122.2 277.1h1M125.2 278.0h1M127.4 278.7h1M114.3 257.4h1M125.1 279.2h1M125.5 259.1h1M114.1 274.6h1M111.2 255.6h1M126.2 278.9h1M119.5 298.7h1M126.3 279.2h1M126.8 268.9h1M120.9 285.9h1M123.2 281.6h1M124.4 280.1h1M120.2 298.4h1M125.2 282.6h1M126.7 266.1h1M118.0 298.7h1M126.8 293.4h1M123.0 289.0h1M118.3 297.0h1M124.9 293.2h1M127.1 282.8h1M123.5 278.9h1M122.9 262.3h1M117.2 278.2h1M119.9 287.6h1M127.4 293.8h1M115.8 277.8h1M110.0 267.8h1M126.9 267.1h1M115.7 267.5h1M112.7 265.9h1M126.5 289.6h1M114.0 258.8h1M124.3 285.6h1M117.4 289.6h1M125.6 281.3h1M122.7 247.2h1M122.5 299.4h1M116.8 254.9h1M129.7 270.0h1M130.2 269.8h1M120.6 304.6h1M123.2 282.3h1M119.9 302.6h1M115.1 282.1h1M126.9 276.5h1M121.5 261.1h1M118.0 241.7h1" stroke="rgb(58, 136, 189)" stroke-width="1" fill="none" opacity="0.95"/>
<path d="M120.4 259.7h1M127.0 269.1h1M125.3 278.9h1M120.8 278.7h1M123.6 263.0h1M123.4 256.6h1M127.0 268.2h1M126.2 255.5h1M125.1 276.3h1M119.0 278.2h1M124.2 260.4h1M119.8 269.2h1M117.8 280.8h1M121.9 284.7h1M117.5 280.2h1M122.0 263.0h1M121.3 286.7h1M115.6 259.8h1M115.9 276.2h1M126.8 265.1h1M117.6 267.8h1M123.4 270.9h1M118.1 260.8h1M125.2 265.4h1M127.1 279.5h1M118.8 260.7h1M120.8 252.7h1M125.6 274.8h1M118.7 278.5h1M125.4 268.7h1M123.4 274.2h1M120.6 272.6h1M123.5 255.0h1M115.0 276.2h1M118.5 280.3h1M122.6 275.9h1M125.1 278.8h1M120.0 297.3h1M123.2 292.9h1M119.8 294.4h1M121.6 299.9h1M124.6 300.7h1M125.3 292.3h1M122.7 288.0h1M119.8 296.4h1M121.3 290.0h1M127.4 296.2h1M124.0 295.8h1M124.9 301.1h1M124.0 291.5h1M124.5 292.1h1M121.1 292.5h1M121.2 303.0h1M120.4 290.5h1M118.4 294.0h1M121.7 291.2h1M120.4 301.0h1M122.2 300.3h1M126.0 295.5h1M118.2 295.4h1M123.4 299.1h1M126.2 294.7h1M121.0 300.7h1M123.6 287.4h1M121.0 298.1h1M122.8 291.6h1M122.8 289.1h1M124.5 298.6h1M121.4 294.8h1M125.5 296.1h1M123.9 297.9h1M124.7 296.9h1M123.0 292.2h1M124.4 299.3h1M120.2 295.0h1M122.7 290.8h1M122.3 290.1h1M119.7 296.6h1M121.0 290.7h1M120.7 294.7h1M117.9 294.6h1M120.3 297.8h1M124.1 290.3h1M122.0 302.5h1M123.7 298.3h1M123.0 293.7h1M125.9 296.9h1M120.4 289.5h1M124.5 295.4h1M123.7 298.5h1M120.8 292.4h1M116.8 264.6h1M125.6 269.0h1M117.1 259.6h1M120.8 262.2h1M122.0 253.8h1M120.1 257.2h1M127.6 264.3h1M111.6 263.2h1M116.9 251.6h1M127.1 266.8h1M122.5 244.4h1M124.1 254.2h1M126.4 266.3h1M116.9 251.5h1M111.2 249.6h1M116.2 255.2h1M116.3 265.5h1M124.6 262.7h1M126.0 268.3h1M124.3 261.4h1M114.7 258.4h1M118.4 243.9h1M120.2 257.2h1M123.0 248.2h1M122.7 245.9h1M119.5 252.8h1M123.9 257.6h1M121.9 242.6h1M111.9 238.9h1M115.8 254.3h1M127.8 266.5h1M126.2 258.7h1M122.1 246.3h1M115.8 255.6h1M114.7 257.9h1M120.2 253.2h1M125.3 259.0h1M119.9 246.1h1M125.7 268.0h1M116.5 254.1h1M118.6 247.6h1M126.1 260.2h1M124.9 252.4h1M117.8 254.9h1M123.7 258.7h1M114.9 255.7h1M127.5 265.4h1M112.5 264.7h1M121.8 247.7h1M126.5 261.0h1M119.3 248.6h1M118.8 255.8h1M117.8 254.2h1M111.1 263.5h1M125.1 262.1h1M123.6 261.8h1M114.6 258.5h1M120.9 257.6h1M122.6 255.9h1M114.5 244.3h1M118.5 260.8h1M120.9 243.1h1M118.3 244.9h1M116.8 261.2h1M120.2 270.0h1M114.9 270.4h1M120.2 263.7h1M116.0 266.1h1M121.6 280.0h1M116.4 260.9h1M117.9 266.1h1M117.0 261.5h1M118.7 263.2h1M117.7 270.5h1M120.0 273.6h1M118.8 264.8h1M119.7 268.1h1M128.6 266.1h1M122.2 288.0h1M124.0 255.5h1M122.5 281.8h1M116.4 259.4h1M126.3 276.3h1M118.7 282.5h1M125.8 298.7h1M117.1 280.8h1M121.7 243.2h1M123.0 293.7h1M116.8 266.4h1M123.7 255.5h1M119.8 285.1h1M118.6 249.8h1M119.0 291.5h1M126.1 274.6h1M118.9 294.2h1M116.3 272.6h1M121.5 281.4h1M125.6 278.5h1M115.1 273.0h1M122.9 288.4h1M115.0 268.5h1M118.8 279.1h1M120.6 280.7h1M119.0 292.6h1M125.2 279.3h1M118.9 281.5h1M125.1 271.2h1M126.4 281.2h1M126.6 266.8h1M115.1 281.9h1M114.1 265.2h1M128.3 269.8h1M125.6 301.4h1M125.8 270.2h1M114.7 273.6h1M120.4 254.7h1M123.4 293.3h1M116.2 266.6h1M125.8 293.4h1M117.9 280.4h1M115.2 257.0h1M119.0 281.5h1M123.9 280.0h1M127.6 268.1h1M122.6 287.3h1M113.6 253.4h1M121.8 286.4h1M119.7 281.2h1M120.4 298.9h1M121.2 280.5h1M127.1 276.9h1M114.4 265.1h1M124.3 301.1h1M118.0 244.9h1M118.9 294.7h1" stroke="rgb(69, 161, 167)" stroke-width="1" fill="none" opacity="0.95"/>
<path d="M119.8 265.1h1M119.8 273.0h1M116.9 270.4h1M124.1 280.2h1M119.1 274.3h1M121.7 258.5h1M126.0 269.3h1M125.2 269.5h1M123.1 278.1h1M115.1 260.2h1M126.0 269.3h1M117.1 268.4h1M125.4 261.5h1M121.6 276.9h1M121.3 272.6h1M121.0 279.1h1M121.0 263.2h1M124.8 267.8h1M122.0 268.8h1M124.8 275.9h1M122.7 263.3h1M123.9 274.5h1M122.5 270.0h1M122.1 269.1h1M125.9 266.4h1M122.9 271.4h1M122.7 275.0h1M127.0 270.1h1M122.7 275.6h1M123.9 275.7h1M121.7 282.3h1M118.2 275.8h1M122.2 265.8h1M120.2 280.4h1M125.9 271.7h1M121.2 280.1h1M125.6 260.0h1M116.1 262.5h1M118.2 264.8h1M115.6 262.8h1M123.0 258.2h1M121.6 266.5h1M127.2 267.6h1M118.3 269.1h1M125.6 279.7h1M122.1 277.6h1M114.9 268.1h1M118.0 294.2h1M123.4 265.6h1M123.0 262.9h1M115.8 270.4h1M116.7 262.6h1M126.0 265.1h1M116.6 262.3h1M116.3 280.3h1M122.7 278.9h1M124.0 268.3h1M120.8 297.6h1M119.1 293.7h1M119.3 300.5h1M119.9 292.9h1M121.6 297.4h1M125.3 293.3h1M123.6 295.5h1M125.6 297.4h1M122.7 290.3h1M122.5 293.7h1M120.0 289.7h1M122.1 298.8h1M122.9 293.5h1M121.7 298.8h1M123.7 298.4h1M121.3 291.5h1M121.5 290.6h1M122.7 294.2h1M122.1 293.6h1M123.8 291.8h1M118.4 277.5h1M122.9 297.3h1M122.5 290.9h1M122.2 289.9h1M116.8 292.8h1M120.4 299.4h1M121.4 293.1h1M116.1 262.0h1M119.8 256.7h1M121.6 245.0h1M122.7 255.7h1M115.4 270.4h1M123.3 257.6h1M121.9 253.4h1M119.8 252.8h1M119.6 260.1h1M119.0 258.2h1M122.6 252.9h1M119.8 252.8h1M122.2 258.9h1M127.2 272.0h1M119.4 277.8h1M125.6 259.4h1M122.2 247.0h1M117.8 257.3h1M121.3 247.4h1M117.1 255.7h1M115.1 263.8h1M121.7 263.2h1M115.1 254.3h1M116.5 270.8h1M117.2 256.9h1M117.7 252.9h1M121.9 257.1h1M119.3 255.5h1M117.3 268.6h1M119.5 255.2h1M116.3 270.5h1M113.6 254.2h1M111.0 257.0h1M118.4 249.4h1M118.1 251.6h1M121.4 258.3h1M122.5 261.4h1M121.9 265.2h1M126.7 264.1h1M119.5 257.5h1M121.5 246.3h1M119.7 257.0h1M113.0 253.3h1M127.8 266.4h1M119.0 268.2h1M119.2 272.2h1M119.0 262.8h1M116.2 269.6h1M117.6 264.4h1M119.2 275.1h1M123.7 270.7h1M122.0 270.2h1M119.4 264.3h1M124.9 271.2h1M118.6 279.0h1M122.5 285.8h1M119.7 296.4h1M119.0 299.7h1M124.3 281.8h1M123.8 277.6h1M125.6 297.3h1M118.5 291.8h1M127.7 293.7h1M120.8 293.1h1M122.9 291.2h1M120.1 297.4h1M121.5 299.3h1M124.1 278.8h1M126.4 275.9h1M117.8 292.5h1M126.1 276.8h1M115.6 262.5h1M126.3 274.2h1M119.4 276.4h1M125.0 270.1h1M123.8 292.9h1M115.6 269.4h1M127.0 262.4h1M125.2 295.5h1M125.8 271.4h1M115.2 273.2h1M119.2 289.0h1M126.1 275.7h1M123.7 290.8h1M118.4 258.4h1M118.9 260.4h1M123.3 299.2h1M117.6 253.6h1M123.2 279.7h1M118.4 257.5h1M120.4 299.7h1M126.5 278.1h1M126.1 296.7h1M119.9 298.2h1M117.3 274.7h1M122.6 295.1h1M120.2 248.2h1M119.5 257.7h1M126.5 296.9h1M118.2 271.8h1M125.1 296.5h1M125.6 283.4h1M116.6 261.6h1M120.1 262.5h1" stroke="rgb(86, 182, 140)" stroke-width="1" fill="none" opacity="0.95"/>
<path d="M121.5 269.1h1M123.9 268.1h1M121.4 274.6h1M124.0 271.2h1M124.1 275.6h1M119.8 264.6h1M120.7 271.1h1M117.2 261.0h1M117.3 264.1h1M125.3 256.4h1M118.5 268.7h1M118.7 269.1h1M119.6 280.2h1M117.7 270.9h1M119.8 266.9h1M120.6 273.1h1M124.5 273.8h1M123.5 274.1h1M121.2 263.2h1M122.0 268.7h1M118.0 275.7h1M124.5 273.0h1M122.7 275.2h1M117.0 273.9h1M123.3 281.0h1M123.3 275.8h1M118.5 270.4h1M117.5 272.0h1M124.3 267.1h1M117.4 268.4h1M121.3 264.5h1M121.7 262.7h1M126.7 271.6h1M116.0 274.4h1M117.6 271.7h1M119.0 276.7h1M120.9 278.3h1M117.0 272.5h1M120.3 276.9h1M119.1 265.6h1M120.4 271.0h1M123.7 271.6h1M119.2 273.6h1M125.6 275.9h1M118.7 278.4h1M121.8 276.7h1M120.8 263.1h1M125.1 265.9h1M124.1 275.7h1M118.3 274.1h1M122.1 274.8h1M117.5 271.6h1M124.4 269.8h1M121.5 268.1h1M123.4 279.0h1M122.1 265.1h1M123.3 273.9h1M120.7 293.5h1M121.5 298.4h1M123.9 295.0h1M123.4 293.8h1M123.1 298.6h1M119.0 297.0h1M123.8 295.4h1M123.1 295.0h1M122.8 295.0h1M119.5 294.1h1M121.3 297.6h1M123.7 298.7h1M124.8 290.1h1M126.9 294.9h1M121.0 297.8h1M122.0 297.3h1M117.5 252.9h1M118.2 251.8h1M124.3 268.5h1M126.1 268.1h1M121.3 260.2h1M118.6 254.0h1M124.7 260.5h1M122.5 263.4h1M116.2 264.9h1M123.4 258.0h1M123.5 261.7h1M123.4 275.2h1M116.6 260.6h1M117.9 255.7h1M116.5 259.5h1M121.3 259.8h1M118.2 264.2h1M116.2 273.8h1M118.0 244.6h1M118.9 263.7h1M119.5 245.2h1M121.4 262.0h1M117.4 251.5h1M120.1 255.5h1M117.6 252.2h1M118.0 259.5h1M116.4 265.1h1M118.9 261.7h1M117.0 262.0h1M120.2 245.9h1M119.1 248.5h1M118.7 266.7h1M121.7 252.8h1M115.2 265.6h1M117.9 249.5h1M117.9 255.2h1M119.0 267.8h1M119.8 266.7h1M122.9 273.1h1M119.8 266.6h1M122.2 289.5h1M115.8 269.7h1M122.8 264.1h1M122.7 298.3h1M124.7 276.2h1M121.6 277.3h1M123.2 275.9h1M116.1 254.4h1M122.4 277.8h1M121.2 296.8h1M116.5 265.4h1M122.5 287.8h1M121.2 271.8h1M120.1 280.3h1M125.6 290.8h1M119.9 299.2h1M123.5 292.3h1M116.9 263.8h1M122.2 281.9h1M118.5 260.8h1M117.8 275.2h1M126.1 269.7h1M122.1 287.8h1M118.7 294.9h1M124.6 295.7h1M125.6 273.5h1M122.4 276.7h1M125.3 270.0h1M116.5 264.7h1M121.3 257.5h1M122.3 279.8h1M121.3 276.1h1M122.5 273.7h1M127.3 271.1h1M116.4 269.3h1M122.2 261.9h1M124.2 292.9h1M116.5 278.3h1M121.8 280.3h1M125.8 274.4h1M118.2 271.3h1M118.3 279.1h1M119.2 278.0h1M115.9 265.7h1M119.3 262.7h1M122.9 278.7h1M121.2 298.1h1" stroke="rgb(118, 193, 104)" stroke-width="1" fill="none" opacity="0.95"/>
<path d="M123.0 268.5h1M117.8 264.8h1M123.5 275.3h1M120.4 275.2h1M121.8 263.7h1M119.3 271.4h1M120.8 265.4h1M121.9 275.6h1M125.7 274.6h1M121.0 281.0h1M121.2 264.1h1M118.6 278.6h1M123.6 267.5h1M123.9 268.7h1M124.6 273.2h1M117.8 261.4h1M121.8 266.2h1M121.8 266.4h1M122.1 278.4h1M117.5 270.6h1M121.6 278.5h1M120.6 254.7h1M121.3 277.9h1M119.8 268.2h1M119.6 269.2h1M124.7 267.1h1M119.8 264.3h1M120.1 272.6h1M120.1 255.9h1M125.6 273.4h1M121.1 269.8h1M122.1 276.8h1M120.5 265.3h1M119.9 261.2h1M122.5 275.5h1M116.3 270.1h1M120.4 269.7h1M122.1 268.4h1M120.5 277.6h1M117.4 269.1h1M119.8 261.8h1M117.3 260.0h1M116.8 260.8h1M121.7 277.1h1M120.9 277.1h1M121.5 259.8h1M120.4 270.6h1M118.8 296.6h1M124.1 295.9h1M125.0 294.2h1M122.0 297.6h1M123.9 296.2h1M121.8 295.5h1M124.6 294.3h1M121.1 295.5h1M120.9 298.9h1M121.7 300.9h1M120.1 258.3h1M116.7 268.0h1M121.0 261.2h1M120.3 264.6h1M126.6 263.7h1M120.5 257.2h1M120.0 260.3h1M115.5 270.3h1M119.6 263.6h1M118.5 256.0h1M121.7 269.5h1M121.5 264.9h1M121.6 261.2h1M118.4 264.9h1M121.0 265.3h1M121.1 256.6h1M121.9 260.0h1M115.0 250.9h1M121.0 260.2h1M121.6 256.5h1M120.5 257.1h1M123.5 303.2h1M124.7 291.7h1M116.7 243.4h1M122.1 292.9h1M116.1 267.2h1M125.7 295.5h1M121.5 257.5h1M123.7 298.2h1M116.1 260.2h1M122.0 270.6h1M119.9 266.5h1M120.9 274.5h1M115.1 271.9h1M122.5 273.3h1M119.5 275.3h1M123.6 279.7h1M119.2 276.1h1" stroke="rgb(155, 200, 75)" stroke-width="1" fill="none" opacity="0.95"/>
<path d="M117.6 275.2h1M123.9 264.6h1M119.1 265.1h1M119.7 273.5h1M123.0 270.6h1M124.6 271.2h1M123.9 270.0h1M122.3 267.6h1M122.8 271.2h1M119.0 274.4h1M124.7 273.6h1M121.1 268.0h1M123.8 275.6h1M119.2 269.5h1M118.7 269.7h1M120.0 275.4h1M124.1 268.5h1M118.9 272.1h1M118.1 270.9h1M122.0 276.0h1M121.7 269.9h1M122.3 274.3h1M118.9 272.7h1M124.8 274.9h1M122.6 273.3h1M122.4 274.0h1M120.8 266.0h1M122.1 297.3h1M123.2 295.5h1M122.9 292.9h1M123.2 261.0h1M117.9 259.0h1M117.1 266.2h1M123.4 275.6h1M122.5 267.3h1M117.2 269.0h1M123.7 259.4h1M118.2 265.7h1M120.4 259.5h1M124.1 275.5h1M116.7 262.5h1M123.3 275.9h1M117.9 269.7h1M123.7 265.4h1M124.2 266.4h1M122.5 267.9h1M119.1 267.6h1M118.8 263.5h1M117.9 256.3h1M122.4 246.1h1M120.2 267.8h1M123.5 274.5h1M120.9 270.4h1M121.6 268.6h1M121.2 268.6h1M123.8 259.6h1M121.1 262.3h1M119.3 268.4h1M121.3 272.1h1M121.7 264.1h1M122.1 275.1h1M123.2 271.5h1M121.3 269.1h1M118.7 262.4h1M117.2 271.6h1M117.9 260.4h1M118.1 274.2h1M120.0 297.7h1M121.9 268.7h1M118.9 277.1h1M122.0 289.2h1M118.4 263.7h1" stroke="rgb(199, 200, 64)" stroke-width="1" fill="none" opacity="0.95"/>
<path d="M120.9 274.8h1M119.5 267.4h1M120.2 269.5h1M117.8 274.0h1M122.9 265.8h1M123.3 271.4h1M122.8 273.6h1M118.1 261.7h1M119.2 266.9h1M120.1 277.9h1M119.1 272.6h1M121.3 275.3h1M123.8 271.0h1M123.1 268.8h1M119.7 272.5h1M118.7 265.4h1M121.7 268.1h1M120.7 254.4h1M120.3 266.9h1M119.8 274.4h1M122.4 296.3h1M119.1 261.5h1M122.8 260.7h1M118.6 269.5h1M121.2 256.6h1M117.0 273.9h1M120.0 259.3h1M123.2 272.7h1M118.2 268.5h1M120.1 265.3h1M119.2 290.9h1M120.2 264.0h1M122.8 267.4h1M123.7 276.2h1M122.3 274.7h1M123.1 273.7h1" stroke="rgb(225, 175, 55)" stroke-width="1" fill="none" opacity="0.95"/>
<path d="M122.6 268.2h1M123.7 273.1h1M121.8 269.4h1M122.5 270.6h1M120.9 263.3h1M121.8 275.2h1M120.0 272.6h1M119.1 270.8h1M118.5 270.5h1M121.0 271.8h1M124.5 272.8h1M121.4 268.0h1M120.6 270.8h1M123.3 275.6h1M120.0 269.2h1M119.9 272.1h1M122.0 270.1h1M116.1 267.4h1M119.1 267.1h1M123.3 266.6h1M119.2 265.1h1M122.2 275.2h1M116.5 266.5h1M122.2 269.1h1M121.4 267.3h1M115.6 262.7h1M122.8 267.9h1M120.2 274.6h1M118.3 267.7h1M117.5 267.8h1M122.7 272.3h1M122.6 272.9h1M120.8 276.0h1M120.8 269.2h1M118.4 274.9h1M119.8 275.8h1M120.8 268.8h1M122.4 277.5h1M120.5 276.2h1M120.9 273.4h1M120.7 268.7h1M118.0 270.7h1M121.9 273.9h1M118.0 268.6h1M120.9 269.2h1M123.6 266.6h1M118.4 267.9h1M119.9 270.1h1M120.7 274.8h1M122.1 293.9h1M122.5 297.2h1M120.5 291.8h1M123.5 264.2h1M120.4 264.4h1M120.2 269.2h1M121.5 266.1h1M119.7 274.5h1M122.9 274.1h1M122.6 260.4h1M120.9 257.5h1M121.4 265.0h1M118.9 262.0h1M121.3 263.7h1M121.7 261.5h1M118.4 261.3h1M121.6 261.1h1M121.3 270.2h1M120.6 267.7h1M122.2 269.0h1M121.6 261.4h1M120.3 266.0h1M121.3 268.0h1M122.5 270.4h1M120.1 263.3h1M118.5 261.3h1M120.6 268.3h1M122.7 266.6h1M120.2 274.8h1M119.5 268.7h1M121.1 265.7h1M120.6 270.0h1M122.4 278.1h1M123.6 266.7h1M123.4 275.7h1M118.5 272.1h1M119.2 268.8h1M117.4 255.2h1M123.2 272.7h1M123.6 274.7h1M121.5 274.6h1M124.0 268.8h1M120.7 268.7h1M120.6 265.0h1M119.1 267.6h1M123.1 269.9h1M122.6 276.7h1M121.9 267.3h1M120.5 275.8h1M121.6 275.5h1M121.0 272.3h1M120.0 273.3h1M120.9 268.7h1" stroke="rgb(230, 121, 45)" stroke-width="1" fill="none" opacity="0.95"/>
<rect x="49.8" y="215.3" width="103" height="102" fill="none" stroke="#231f20" stroke-width="1.3"/>
<rect x="55.2" y="217.8" width="47.8" height="59.4" fill="none" stroke="#555" stroke-width="0.9"/>
<rect x="105.2" y="217.8" width="37.2" height="99.5" fill="none" stroke="#555" stroke-width="0.9"/>
<text x="72" y="210.1" font-size="8" fill="#231f20" stroke="#231f20" stroke-width="0.1" textLength="57.6" lengthAdjust="spacingAndGlyphs">miR-144/451 WT</text>
<text x="61.2" y="229" font-size="8.6" fill="#231f20" stroke="#231f20" stroke-width="0.1" textLength="11.19" lengthAdjust="spacingAndGlyphs">8%</text>
<text x="121.1" y="229" font-size="8.6" fill="#231f20" stroke="#231f20" stroke-width="0.1" textLength="15.49" lengthAdjust="spacingAndGlyphs">86%</text>
<path d="M46.4 317.3h3.4M47.8 313.39h2M47.8 309.48h2M47.8 305.57h2M47.8 301.66h2M46.4 297.75h3.4M47.8 293.84h2M47.8 289.93h2M47.8 286.02h2M47.8 282.11h2M46.4 278.2h3.4M47.8 274.29h2M47.8 270.38h2M47.8 266.47h2M47.8 262.56h2M46.4 258.65h3.4M47.8 254.74h2M47.8 250.83h2M47.8 246.92h2M47.8 243.01h2M46.4 239.1h3.4M47.8 235.19h2M47.8 231.28h2M47.8 227.37h2M47.8 223.46h2M46.4 219.55h3.4" fill="none" stroke="#231f20" stroke-width="0.9"/>
<text x="42.8" y="320.3" font-size="8.4" text-anchor="end" fill="#231f20" stroke="#231f20" stroke-width="0.1" textLength="4.11" lengthAdjust="spacingAndGlyphs">0</text>
<text x="42.8" y="300.75" font-size="8.4" text-anchor="end" fill="#231f20" stroke="#231f20" stroke-width="0.1" textLength="13.15" lengthAdjust="spacingAndGlyphs">50K</text>
<text x="42.8" y="281.2" font-size="8.4" text-anchor="end" fill="#231f20" stroke="#231f20" stroke-width="0.1" textLength="17.26" lengthAdjust="spacingAndGlyphs">100K</text>
<text x="42.8" y="261.65" font-size="8.4" text-anchor="end" fill="#231f20" stroke="#231f20" stroke-width="0.1" textLength="17.26" lengthAdjust="spacingAndGlyphs">150K</text>
<text x="42.8" y="242.1" font-size="8.4" text-anchor="end" fill="#231f20" stroke="#231f20" stroke-width="0.1" textLength="17.26" lengthAdjust="spacingAndGlyphs">200K</text>
<text x="42.8" y="222.55" font-size="8.4" text-anchor="end" fill="#231f20" stroke="#231f20" stroke-width="0.1" textLength="17.26" lengthAdjust="spacingAndGlyphs">250K</text>
<path d="M52.28 317.3v1.8M54.28 317.3v1.8M55.92 317.3v1.8M57.3 317.3v1.8M58.5 317.3v1.8M59.56 317.3v1.8M60.5 317.3v3.2M66.72 317.3v1.8M70.35 317.3v1.8M72.93 317.3v1.8M74.93 317.3v1.8M76.57 317.3v1.8M77.95 317.3v1.8M79.15 317.3v1.8M80.21 317.3v1.8M81.15 317.3v3.2M87.37 317.3v1.8M91 317.3v1.8M93.58 317.3v1.8M95.58 317.3v1.8M97.22 317.3v1.8M98.6 317.3v1.8M99.8 317.3v1.8M100.86 317.3v1.8M101.8 317.3v3.2M108.02 317.3v1.8M111.65 317.3v1.8M114.23 317.3v1.8M116.23 317.3v1.8M117.87 317.3v1.8M119.25 317.3v1.8M120.45 317.3v1.8M121.51 317.3v1.8M122.45 317.3v3.2M128.67 317.3v1.8M132.3 317.3v1.8M134.88 317.3v1.8M136.88 317.3v1.8M138.52 317.3v1.8M139.9 317.3v1.8M141.1 317.3v1.8M142.16 317.3v1.8M143.1 317.3v3.2M149.32 317.3v1.8" fill="none" stroke="#231f20" stroke-width="0.9"/>
<text x="56.03" y="334.9" font-size="8.2" fill="#231f20" stroke="#231f20" stroke-width="0.1" textLength="7.48" lengthAdjust="spacingAndGlyphs">10</text>
<text x="63.8" y="331.5" font-size="4.8" fill="#231f20" stroke="#231f20" stroke-width="0.1">1</text>
<text x="76.68" y="334.9" font-size="8.2" fill="#231f20" stroke="#231f20" stroke-width="0.1" textLength="7.48" lengthAdjust="spacingAndGlyphs">10</text>
<text x="84.45" y="331.5" font-size="4.8" fill="#231f20" stroke="#231f20" stroke-width="0.1">2</text>
<text x="97.33" y="334.9" font-size="8.2" fill="#231f20" stroke="#231f20" stroke-width="0.1" textLength="7.48" lengthAdjust="spacingAndGlyphs">10</text>
<text x="105.1" y="331.5" font-size="4.8" fill="#231f20" stroke="#231f20" stroke-width="0.1">3</text>
<text x="117.98" y="334.9" font-size="8.2" fill="#231f20" stroke="#231f20" stroke-width="0.1" textLength="7.48" lengthAdjust="spacingAndGlyphs">10</text>
<text x="125.75" y="331.5" font-size="4.8" fill="#231f20" stroke="#231f20" stroke-width="0.1">4</text>
<text x="138.63" y="334.9" font-size="8.2" fill="#231f20" stroke="#231f20" stroke-width="0.1" textLength="7.48" lengthAdjust="spacingAndGlyphs">10</text>
<text x="146.4" y="331.5" font-size="4.8" fill="#231f20" stroke="#231f20" stroke-width="0.1">5</text>
<text x="57.6" y="289" font-size="7.8" fill="#231f20" stroke="#231f20" stroke-width="0.1" textLength="8.2" lengthAdjust="spacingAndGlyphs">P1</text>
<text x="73.7" y="312.4" font-size="8.8" fill="#231f20" stroke="#231f20" stroke-width="0.1" textLength="22.8" lengthAdjust="spacingAndGlyphs">Ter119</text>
<text x="97.3" y="309.2" font-size="6.2" fill="#231f20" stroke="#231f20" stroke-width="0.1">+</text>
<path d="M267.1 260.9h1M267.6 272.1h1M266.2 261.7h1M269.4 267.7h1M240.5 288.3h1M268.0 297.6h1M262.9 311.4h1M260.2 307.9h1M261.0 310.4h1M265.5 297.2h1M240.6 286.7h1M266.7 274.9h1M268.7 287.5h1M242.3 273.2h1M272.3 277.8h1M246.2 296.9h1M272.7 281.6h1M254.8 310.8h1M242.9 272.4h1M242.7 291.9h1M266.6 274.7h1M249.5 304.4h1M243.6 271.2h1M268.2 277.5h1M247.7 312.9h1M270.3 279.0h1M260.6 310.7h1M242.6 281.7h1M253.6 308.2h1M265.5 244.4h1M244.6 285.6h1M242.9 280.7h1M258.2 309.7h1M273.0 269.7h1M268.7 275.8h1M248.0 312.7h1M245.1 294.9h1M265.3 313.8h1M266.3 281.3h1M258.2 309.3h1M244.0 307.4h1M245.2 309.8h1M244.3 277.7h1M260.5 309.2h1M265.7 293.1h1M240.0 268.2h1M253.9 311.1h1M272.4 290.8h1M248.6 305.2h1M248.0 294.6h1M272.1 267.9h1M266.3 300.5h1M271.2 297.2h1M253.7 307.4h1M244.8 300.8h1M261.5 304.0h1M264.4 305.9h1M265.9 294.6h1M250.9 303.4h1M262.4 306.3h1M253.6 311.1h1M264.7 276.6h1M264.5 301.3h1M266.7 298.9h1M264.6 254.0h1M269.2 250.9h1M263.6 240.5h1M265.2 253.9h1M262.5 246.2h1M268.0 246.9h1M240.4 263.7h1M264.6 252.9h1M266.0 251.1h1M262.5 238.9h1M261.6 248.9h1M238.3 264.0h1M244.0 267.9h1M269.5 251.9h1M245.4 269.0h1M262.9 241.7h1M241.0 262.3h1M274.9 249.7h1M257.7 235.2h1M263.0 247.3h1M238.1 227.4h1M240.0 226.9h1M264.3 242.3h1M254.1 233.9h1M265.2 230.5h1M246.3 232.9h1M246.4 228.7h1M258.7 236.6h1M247.1 227.8h1M246.9 225.0h1M256.1 227.6h1M251.9 234.6h1M253.8 232.9h1M255.7 228.0h1M253.5 220.9h1M244.7 227.9h1M248.3 227.5h1M256.0 233.8h1M246.5 227.0h1M234.4 224.4h1M248.2 223.2h1M252.1 229.1h1M254.3 230.7h1M259.7 227.5h1M249.0 230.7h1M255.7 233.2h1M255.0 224.9h1M253.7 229.5h1M252.2 228.9h1M259.5 231.8h1M261.8 240.3h1M259.1 233.4h1M259.2 235.7h1M221.7 216.7h1M222.7 259.6h1M229.8 226.7h1M211.6 240.3h1M216.4 239.4h1M211.0 259.3h1M228.0 219.5h1M214.1 276.9h1M230.4 224.6h1M241.1 219.2h1M209.9 230.1h1M222.8 253.0h1M201.4 231.4h1M238.2 222.4h1M228.8 232.1h1M239.5 226.2h1M238.1 222.9h1M216.8 247.3h1M230.1 260.7h1M216.4 243.6h1M248.1 229.9h1M248.3 228.2h1M230.8 221.8h1M217.2 246.8h1M237.5 220.1h1M219.2 256.7h1M204.0 233.6h1M248.3 222.7h1M201.9 235.3h1M219.4 262.1h1M228.8 257.7h1M240.2 224.1h1M223.1 265.9h1M222.2 230.3h1M215.8 232.2h1M250.0 231.8h1M222.1 270.8h1M226.9 260.0h1M243.5 217.7h1M211.1 248.9h1M209.4 266.2h1M234.2 256.9h1M222.3 220.9h1M239.6 276.7h1M215.7 262.5h1M231.2 254.1h1M242.8 262.7h1M216.0 230.5h1M239.7 248.7h1M242.0 225.6h1M215.4 240.5h1M234.2 226.2h1M221.4 264.6h1M237.6 227.2h1M208.4 232.6h1M249.3 217.8h1M237.8 257.0h1M248.8 218.1h1M224.1 260.1h1M238.5 224.0h1M237.1 254.1h1M230.3 217.4h1M215.5 264.1h1M231.8 226.5h1M222.5 268.3h1M209.3 239.2h1M231.3 265.6h1M207.8 254.7h1M234.2 221.5h1M251.7 233.1h1M237.2 258.3h1M223.9 255.5h1M227.7 243.0h1M222.2 260.9h1M230.2 233.7h1M223.8 226.6h1M226.3 234.1h1M214.5 250.2h1M235.6 262.2h1M210.2 231.2h1M237.4 266.2h1M210.0 267.2h1M234.8 221.3h1M215.3 248.6h1M216.9 235.8h1M214.8 248.4h1M254.5 224.8h1M243.9 228.8h1M210.5 252.4h1M216.8 222.1h1M248.4 230.7h1M221.0 258.4h1M229.3 217.7h1M220.2 221.4h1M218.1 238.9h1M205.5 249.6h1M215.6 232.2h1M244.5 226.0h1M227.4 222.6h1M231.9 245.9h1M228.8 225.7h1M224.3 223.9h1M264.7 242.9h1M238.4 268.3h1M217.3 254.5h1M222.1 263.4h1M217.8 252.8h1M233.7 220.1h1M234.7 216.4h1M213.9 258.0h1M232.2 219.8h1M225.9 220.8h1M242.5 259.3h1M268.6 232.3h1M226.6 258.3h1M203.6 230.6h1M213.4 272.6h1M230.8 228.9h1M221.4 253.7h1M243.6 264.6h1M215.6 221.8h1M220.0 258.6h1M222.5 253.5h1M223.4 256.5h1M221.7 254.2h1M222.4 223.7h1M250.2 233.0h1M210.0 228.4h1M221.2 271.9h1M228.0 216.6h1M259.6 229.4h1M240.8 269.5h1M217.5 236.1h1M220.2 263.6h1M233.2 271.0h1M224.9 241.8h1M224.8 265.0h1M235.0 263.1h1M216.8 237.3h1M234.5 224.9h1M239.6 266.5h1M215.8 232.0h1M236.1 223.3h1M248.6 223.9h1M236.9 254.6h1M233.9 245.1h1M215.9 226.3h1M210.8 232.0h1M227.6 224.5h1M217.2 224.8h1M210.8 234.7h1M228.4 222.0h1M221.1 223.1h1M207.1 241.3h1M216.5 248.2h1M242.8 217.9h1M236.1 231.3h1M206.3 234.5h1M218.1 229.8h1M218.9 247.9h1M199.4 248.7h1M215.6 271.8h1M233.8 226.3h1M227.9 255.0h1M230.1 258.8h1M220.5 263.1h1M214.6 252.3h1M217.8 225.3h1M227.4 217.2h1M237.4 252.2h1M233.0 261.1h1M230.5 221.4h1M228.1 256.9h1M230.9 259.8h1M218.6 242.5h1M240.0 267.2h1M242.2 261.6h1M217.0 240.9h1M232.8 261.8h1M218.4 245.5h1M234.1 224.8h1M214.1 236.0h1M221.9 239.7h1M226.1 227.6h1M201.5 268.8h1M215.1 232.6h1M228.8 264.2h1M231.6 218.1h1M217.4 254.6h1M218.2 273.2h1M211.7 248.0h1M238.5 258.3h1M237.3 227.7h1M248.0 232.8h1M233.9 221.2h1M217.4 238.9h1M213.6 236.7h1M209.9 262.4h1M212.1 250.6h1M218.3 248.3h1M209.3 240.8h1M207.3 239.8h1M236.7 223.7h1M220.1 229.1h1M238.2 227.7h1M226.0 261.9h1M217.9 238.3h1M231.0 224.0h1M202.8 238.3h1M220.8 232.3h1M224.8 264.6h1M228.9 255.3h1M224.1 223.3h1M244.2 225.0h1M208.0 238.4h1M232.2 218.6h1M234.0 264.0h1M237.2 259.8h1M211.1 246.5h1M213.0 221.1h1M212.8 237.9h1M239.9 216.3h1M235.2 255.3h1M220.6 227.6h1M241.0 220.8h1M207.5 249.5h1M228.2 223.1h1M219.6 233.7h1M238.5 251.6h1M253.7 232.3h1M232.2 228.4h1M222.6 260.0h1M235.4 219.3h1M233.8 257.4h1M207.2 258.4h1M237.3 251.4h1M216.1 230.0h1M231.1 220.8h1M208.3 243.1h1M215.1 238.1h1M244.3 223.7h1M221.8 221.3h1M214.2 252.9h1M221.9 266.4h1M219.6 220.3h1M217.2 230.9h1M202.9 225.5h1M229.4 266.6h1M247.6 217.6h1M223.5 263.1h1M231.8 264.4h1M233.1 220.8h1M246.3 231.5h1M213.2 228.2h1M233.5 225.2h1M227.4 222.4h1M213.0 248.0h1M215.3 250.0h1M219.4 257.4h1M221.1 257.5h1M211.3 233.4h1M224.9 264.9h1M213.4 251.8h1M216.0 217.2h1M203.9 236.0h1M239.7 257.3h1M212.0 228.3h1M236.7 267.4h1M208.3 215.9h1M214.7 224.8h1M231.1 230.4h1M222.4 253.4h1M214.5 257.1h1M217.4 236.6h1M227.9 266.8h1M241.3 229.8h1M199.9 262.6h1M237.7 259.2h1M236.3 269.3h1M218.2 250.5h1M239.2 224.5h1M220.1 258.4h1M236.8 222.6h1M223.6 235.0h1M218.5 240.1h1M229.5 266.9h1M212.7 226.8h1M232.8 225.7h1M231.2 261.0h1M234.3 219.1h1M215.0 261.3h1M213.2 241.3h1M245.3 224.4h1M218.3 234.5h1M217.3 236.0h1M211.4 238.8h1M241.9 260.4h1M231.2 256.8h1M206.9 249.3h1M218.2 266.2h1M206.9 241.5h1M219.4 252.8h1M200.0 240.8h1M215.6 254.4h1M216.7 274.0h1M234.0 228.0h1M221.8 251.3h1M205.4 249.0h1M223.8 262.5h1M212.6 246.7h1M226.6 226.9h1M235.8 268.1h1M225.1 260.8h1M223.4 226.3h1M240.9 227.1h1M218.8 259.4h1M220.0 253.2h1M227.0 266.5h1M234.1 269.8h1M239.9 218.5h1M214.2 219.9h1M256.4 232.7h1M215.3 230.4h1M209.8 238.7h1M211.7 263.2h1M215.0 237.7h1M215.3 247.8h1M248.3 222.1h1M216.3 229.4h1M226.1 220.7h1M216.4 245.7h1M210.8 256.7h1M229.6 261.7h1M230.2 257.9h1M242.1 258.4h1M232.3 222.4h1M209.3 234.8h1M218.8 217.5h1M230.2 217.8h1M226.2 257.4h1M215.5 267.9h1M220.6 235.1h1M224.6 228.4h1M219.4 234.3h1M234.6 231.9h1M211.9 253.3h1M213.0 229.4h1M213.3 250.8h1M236.7 265.2h1M215.8 257.6h1M226.2 222.6h1M242.4 258.0h1M213.3 243.0h1M232.6 262.9h1M219.6 250.2h1M220.1 254.2h1M261.0 242.1h1M223.0 225.6h1M213.0 267.0h1M206.6 247.3h1M236.9 270.2h1M233.7 222.8h1M233.8 258.3h1M225.5 259.1h1M209.4 246.1h1M216.3 223.4h1M220.2 216.4h1M225.4 257.1h1M226.5 255.5h1M237.8 223.7h1M230.5 218.6h1M230.5 255.0h1M234.0 217.2h1M219.6 229.7h1M238.4 223.8h1M216.5 251.9h1M236.9 222.8h1M234.3 256.7h1M225.2 260.8h1M195.1 230.9h1M235.4 259.0h1M213.1 244.0h1M232.7 244.6h1M220.3 272.9h1M235.7 216.1h1M213.2 246.5h1M213.7 247.6h1M236.7 263.1h1M230.2 266.6h1M220.9 247.0h1M233.2 262.2h1M223.7 251.9h1M239.2 287.0h1M217.9 280.6h1M227.3 294.2h1M211.6 288.0h1M231.9 301.2h1M207.2 305.6h1M213.9 300.6h1M213.6 308.1h1M218.3 283.6h1M209.3 294.0h1M239.6 304.1h1M214.3 293.4h1M238.6 295.4h1M225.4 308.4h1M219.3 304.5h1M215.1 275.2h1M213.9 292.2h1M238.9 292.2h1M202.1 309.7h1M238.3 278.6h1M251.7 301.8h1M232.6 294.6h1M221.8 291.1h1M207.6 300.8h1M211.8 313.1h1M219.1 277.6h1M224.9 295.3h1M198.8 285.0h1M221.5 311.4h1M216.3 303.0h1M229.8 275.0h1M210.0 303.2h1M211.1 312.8h1M219.7 298.9h1M243.7 289.8h1M207.6 293.2h1M219.4 297.3h1M199.5 309.5h1M226.0 301.9h1M202.5 300.9h1M195.4 294.3h1M215.2 261.3h1M233.1 293.6h1M193.9 285.0h1M215.6 305.9h1M210.6 284.7h1M207.4 299.6h1M219.5 295.8h1M241.1 303.7h1M215.9 300.4h1M246.6 294.8h1M207.2 308.2h1M232.3 283.6h1M209.0 280.6h1M217.1 283.5h1M211.8 287.8h1M215.5 304.0h1M194.0 312.5h1M246.4 307.4h1M217.2 309.0h1M201.8 280.4h1M225.1 304.0h1M214.6 288.5h1M229.0 306.2h1M211.0 297.3h1M210.1 290.3h1M201.8 290.1h1M227.3 288.4h1M208.7 305.5h1M237.9 300.8h1M245.0 288.2h1M216.3 289.7h1M199.2 307.3h1M235.8 302.6h1M226.2 283.3h1M222.7 313.4h1M233.7 286.8h1M219.8 292.4h1M236.3 304.1h1M200.4 300.5h1M230.3 288.2h1M228.8 295.5h1M220.5 293.2h1M232.1 305.1h1M244.6 292.3h1M234.5 288.9h1M204.3 290.7h1M201.2 284.5h1M231.6 295.4h1M231.7 308.2h1M240.6 287.1h1M206.6 285.1h1M214.7 290.3h1M240.4 277.2h1M214.2 302.6h1M205.5 302.8h1M236.6 309.4h1M214.2 310.8h1M219.0 275.4h1M227.3 306.8h1M241.9 309.2h1M216.7 307.0h1M242.4 304.4h1M198.0 281.8h1M202.5 304.8h1M226.6 286.4h1M201.6 307.2h1M214.8 305.8h1M233.9 290.2h1M214.6 287.7h1M229.5 301.9h1M229.4 286.6h1M234.8 290.7h1M215.2 302.1h1M206.6 291.5h1M202.1 287.0h1M219.3 301.9h1M225.0 291.1h1M229.2 301.5h1M216.4 315.7h1M218.8 309.1h1M206.7 299.5h1M221.7 302.2h1M238.1 298.7h1M223.3 297.2h1M212.2 298.4h1M216.7 291.8h1M231.8 286.6h1M215.1 291.6h1M199.4 298.8h1M214.4 263.3h1M215.4 286.5h1M205.0 293.2h1M221.2 310.9h1M218.5 308.4h1M189.9 288.7h1M213.3 308.9h1M195.3 303.1h1M232.9 296.9h1M233.9 304.4h1M211.5 302.2h1M232.3 305.8h1M250.6 297.0h1M230.6 304.3h1M221.9 294.3h1M223.4 282.8h1M220.9 284.9h1M233.6 296.1h1M226.8 285.8h1M240.7 299.6h1M211.2 295.8h1M234.6 297.6h1M217.2 299.8h1M212.6 289.7h1M209.9 313.4h1M212.1 310.4h1M235.6 295.7h1M214.9 301.9h1M216.7 295.3h1M221.3 303.9h1M225.6 300.1h1M226.8 315.7h1M233.9 305.5h1M224.0 305.4h1M209.2 295.2h1M196.8 307.9h1M230.3 294.9h1M206.0 291.5h1M220.4 283.3h1M208.9 284.8h1M202.8 309.2h1M230.4 296.2h1M211.6 296.6h1M239.2 309.4h1M210.0 294.1h1M203.9 291.8h1M224.8 285.6h1M221.0 285.0h1M218.7 286.7h1M207.0 290.4h1M224.0 274.4h1M222.8 297.8h1M235.5 293.4h1M223.9 290.9h1M213.0 282.4h1M195.7 309.1h1M190.3 302.4h1M227.9 307.5h1M209.4 295.7h1M213.0 309.4h1M219.3 284.7h1M227.2 304.6h1M239.0 293.3h1M234.4 302.7h1M209.6 310.4h1M231.8 300.8h1M194.4 285.0h1M200.1 307.5h1M198.1 301.0h1M225.1 304.2h1M202.9 295.0h1M229.2 314.5h1M213.3 288.6h1M217.1 288.6h1M219.3 300.6h1M232.8 299.5h1M209.2 294.0h1M228.7 304.3h1M243.3 302.5h1M235.9 310.2h1M266.7 302.3h1M210.3 288.9h1M195.3 287.8h1M239.2 303.6h1M218.7 302.6h1M231.8 309.5h1M233.9 288.3h1M239.9 279.0h1M221.5 289.5h1M217.6 276.3h1M231.5 305.8h1M205.0 299.9h1M243.7 280.1h1M208.5 307.3h1M209.2 305.4h1M222.7 305.5h1M218.4 292.8h1M228.2 278.8h1M228.2 286.3h1M220.5 305.4h1M222.3 262.9h1M204.9 294.1h1M228.7 294.8h1M219.5 287.4h1M226.8 282.5h1M198.3 302.8h1M230.3 300.1h1M214.3 293.4h1M224.7 303.0h1M210.4 291.4h1M220.5 282.5h1M230.8 288.6h1M199.1 292.4h1M248.3 295.4h1M243.6 289.7h1M226.2 286.7h1M221.4 280.0h1M238.8 288.9h1M227.3 304.3h1M231.8 292.4h1M220.5 307.5h1M205.2 299.0h1M201.0 301.3h1M222.3 293.3h1M242.6 289.2h1M198.9 309.3h1M237.4 295.8h1M219.6 309.4h1M225.3 287.1h1M236.0 295.9h1M225.4 283.4h1M207.2 284.7h1M227.0 303.5h1M196.4 294.9h1M195.8 298.2h1M229.6 297.3h1M206.3 283.2h1M206.3 299.4h1M237.2 290.7h1M230.5 298.3h1M230.5 291.5h1M245.3 283.7h1M228.4 306.9h1M222.7 290.7h1M225.3 297.4h1M229.1 287.9h1M217.7 300.6h1M235.0 304.9h1M243.6 305.1h1M234.5 306.2h1M221.3 315.1h1M238.9 304.8h1M205.5 302.0h1M245.0 282.8h1M201.6 309.0h1M220.7 304.5h1M229.5 314.0h1M226.6 307.0h1M226.0 296.4h1M231.6 286.6h1M233.7 271.1h1M205.3 306.3h1M229.1 292.6h1M228.9 285.6h1M221.5 275.8h1M204.0 289.9h1M216.4 309.4h1M233.7 289.1h1M231.8 298.3h1M224.4 299.1h1M228.1 287.5h1M214.5 313.1h1M208.8 309.2h1M217.6 303.7h1M230.4 305.5h1M190.0 299.7h1M198.7 286.1h1M215.7 281.5h1M210.4 305.4h1M243.2 300.5h1M219.0 292.3h1M233.2 298.4h1M211.9 304.8h1M227.9 304.0h1M209.0 281.0h1M237.8 295.3h1M198.4 281.3h1M237.4 285.8h1M231.1 284.5h1M246.3 300.7h1M215.1 292.0h1M245.3 288.6h1M238.1 276.5h1M204.2 313.1h1M193.9 294.7h1M230.7 293.3h1M221.5 281.8h1M238.3 299.3h1M233.9 308.2h1M265.6 296.3h1M212.8 296.0h1M225.4 287.3h1M241.7 313.8h1M205.2 294.5h1M201.7 303.8h1M226.8 280.1h1M241.7 311.9h1M210.8 294.4h1M219.3 309.4h1M222.6 280.8h1M236.6 302.2h1M237.6 286.5h1M236.4 291.0h1M222.3 298.6h1M214.2 309.7h1M218.1 307.6h1M237.0 291.8h1M200.5 277.7h1M219.3 278.9h1M235.0 292.6h1M220.5 295.1h1M241.5 294.4h1M219.4 289.6h1M236.6 275.6h1M200.5 300.7h1M224.0 285.7h1M210.1 290.1h1M209.8 291.1h1M222.4 278.0h1M223.6 284.6h1M246.4 300.6h1M235.4 303.0h1M220.4 268.3h1M238.1 281.3h1M233.1 315.1h1M228.5 292.6h1M219.0 299.3h1M212.3 282.2h1M233.8 314.4h1M235.3 295.2h1M220.0 289.7h1M199.5 306.6h1M209.6 297.2h1M233.9 290.3h1M204.2 298.5h1M201.8 289.1h1M221.6 309.3h1M218.8 308.4h1M205.1 291.0h1M230.6 291.7h1M229.9 282.5h1M245.0 292.1h1M213.9 301.3h1M241.7 298.0h1M238.0 284.6h1M239.2 302.7h1M238.1 305.4h1M224.0 281.1h1M223.4 289.1h1M209.7 292.6h1M235.7 294.4h1M193.8 295.6h1M224.0 283.8h1M227.5 304.2h1M229.4 274.1h1M212.3 298.5h1M241.0 299.9h1M224.5 286.0h1M224.3 281.4h1M228.5 287.8h1M202.9 310.1h1M209.6 286.0h1M236.8 299.7h1M212.4 292.6h1M195.4 270.9h1M212.6 284.6h1M219.3 289.7h1M225.6 293.6h1M207.1 292.4h1M210.9 296.6h1M213.4 305.0h1M208.7 295.8h1M229.4 276.7h1M236.8 294.0h1M219.5 305.5h1M212.7 299.4h1M227.8 295.8h1M207.5 301.9h1M200.3 300.6h1M213.7 298.5h1M229.6 305.8h1M228.0 309.4h1M234.3 292.3h1M188.7 296.0h1M219.4 293.2h1M221.2 274.3h1M275.3 295.6h1M202.5 293.3h1M213.5 296.7h1M232.4 308.4h1M213.8 305.9h1M231.4 302.0h1M202.1 295.8h1M237.1 313.4h1M200.8 312.2h1M200.4 281.4h1M221.1 287.7h1M228.0 305.9h1M242.1 304.8h1M229.2 298.3h1M246.6 299.0h1M249.2 290.7h1M223.5 298.1h1M215.9 302.2h1M194.9 298.9h1M231.6 274.8h1M226.2 309.5h1M241.3 298.2h1M213.9 301.3h1M230.6 298.4h1M226.0 298.1h1M242.2 281.2h1M232.4 289.1h1M210.1 304.4h1M240.7 315.1h1M218.2 287.9h1M193.2 283.7h1M208.6 281.2h1M230.8 290.1h1M201.8 294.6h1M222.3 301.7h1M241.3 299.9h1M203.4 289.7h1M245.8 269.6h1M239.5 280.8h1M193.0 283.4h1M224.6 286.4h1M271.3 282.5h1M276.3 276.4h1M215.2 267.1h1M189.1 247.3h1M257.3 308.0h1M228.1 306.3h1M189.1 254.5h1M219.0 262.8h1M262.2 314.2h1M202.5 250.1h1M224.1 258.7h1M199.9 264.0h1M199.3 245.0h1M246.8 281.2h1M263.8 316.3h1M201.9 253.1h1M275.4 313.2h1M244.9 286.5h1M288.7 275.5h1M194.0 268.3h1M208.2 310.6h1M246.6 294.8h1M276.6 298.8h1M214.8 273.2h1M214.6 308.6h1M209.5 292.3h1M282.8 254.7h1M226.9 271.4h1M239.0 258.9h1M286.9 303.3h1M279.0 305.5h1M282.3 293.7h1M189.5 253.1h1M220.6 263.8h1M193.5 305.2h1M221.2 298.7h1M284.7 300.2h1M242.9 276.5h1M233.1 284.7h1M215.3 312.8h1M196.3 260.5h1M201.2 309.8h1M213.1 276.3h1M275.2 275.8h1M287.4 285.7h1M216.3 254.0h1M248.0 298.0h1M218.1 294.3h1M239.3 263.1h1M252.2 310.0h1M267.2 268.1h1M224.3 275.7h1M252.5 304.6h1M284.8 266.7h1M212.9 272.0h1M277.4 246.6h1M273.4 252.0h1M237.2 298.6h1M275.9 279.4h1M233.2 287.3h1M210.7 307.6h1M222.5 277.6h1M204.3 282.9h1M191.0 306.6h1M285.7 283.2h1M234.5 292.9h1M212.2 314.2h1M269.1 279.3h1M245.7 282.0h1M252.8 311.9h1M188.4 311.0h1M288.7 260.6h1M279.4 310.6h1M278.6 298.0h1M265.7 262.1h1M202.4 245.5h1M194.3 297.5h1M202.7 252.5h1M226.4 257.2h1M261.5 309.2h1M265.6 293.9h1M234.3 315.8h1M214.2 316.1h1M240.6 314.9h1M218.6 298.6h1M218.0 262.1h1M220.6 288.9h1M194.1 280.2h1M193.2 311.7h1M213.6 265.7h1M289.5 292.9h1M265.4 283.6h1M278.1 262.7h1M199.0 285.2h1M280.6 305.2h1M232.4 282.6h1M239.0 313.5h1M276.0 285.5h1M277.6 254.8h1M267.0 252.0h1M202.1 272.5h1M207.1 304.6h1M270.6 308.8h1M202.0 271.6h1M210.3 315.8h1M239.0 289.0h1M209.5 303.4h1M241.5 288.5h1M279.9 309.3h1M222.6 279.7h1M204.7 310.3h1M219.4 288.0h1M233.4 266.7h1M203.6 275.8h1M276.5 293.4h1M217.1 249.8h1M271.5 315.0h1M205.8 300.7h1M246.3 315.2h1M197.2 310.1h1M209.7 280.1h1M267.0 286.5h1M222.8 315.0h1M276.7 308.8h1M269.8 314.8h1M246.2 309.6h1M274.2 308.9h1M265.9 291.3h1M213.4 286.4h1M226.5 291.1h1M266.4 274.9h1M208.7 252.6h1M289.3 282.7h1M288.1 255.8h1M227.1 269.2h1M267.5 314.3h1M225.5 293.7h1M215.5 254.9h1M203.1 314.6h1M288.4 290.5h1M242.6 257.5h1M206.1 271.0h1M267.4 253.5h1M276.4 265.5h1M289.7 311.6h1M198.1 302.4h1M285.1 296.0h1M220.9 259.0h1M216.4 274.5h1M208.0 254.4h1M228.1 283.0h1M236.2 263.1h1M286.9 247.9h1M278.3 308.7h1M233.7 280.9h1M200.6 301.8h1M205.5 282.5h1M190.4 287.3h1" stroke="rgb(146, 146, 214)" stroke-width="1" fill="none" opacity="0.75"/>
<path d="M262.1 256.3h1M263.8 266.7h1M265.9 273.2h1M264.7 271.2h1M264.9 277.9h1M265.2 277.4h1M264.3 299.4h1M263.8 260.3h1M263.3 275.9h1M249.4 293.4h1M249.3 285.9h1M265.8 274.6h1M262.5 277.8h1M262.8 279.6h1M249.5 296.8h1M245.2 261.9h1M248.9 279.9h1M266.1 263.8h1M248.5 303.5h1M247.6 288.5h1M249.9 299.4h1M250.3 288.5h1M246.1 287.4h1M248.0 278.5h1M246.6 272.6h1M248.8 287.2h1M266.4 273.2h1M261.5 255.7h1M246.9 281.2h1M258.1 307.0h1M245.8 279.6h1M261.8 304.3h1M258.8 304.6h1M264.8 278.2h1M248.1 280.4h1M263.6 271.3h1M264.4 283.9h1M250.2 295.5h1M264.4 282.8h1M252.9 299.0h1M252.8 281.1h1M248.8 284.0h1M263.8 250.8h1M245.8 279.5h1M251.4 300.0h1M255.3 306.4h1M263.9 252.7h1M248.4 280.8h1M251.4 278.1h1M262.6 280.1h1M265.6 290.5h1M250.8 281.6h1M248.4 293.0h1M264.7 283.6h1M248.8 288.3h1M247.2 278.7h1M254.4 304.4h1M265.1 289.3h1M249.9 293.1h1M254.7 304.3h1M247.9 285.4h1M251.1 290.8h1M247.3 275.5h1M248.5 281.1h1M265.3 266.7h1M251.2 304.3h1M266.2 290.9h1M265.9 268.4h1M247.8 275.5h1M256.5 304.8h1M254.1 302.1h1M263.1 300.6h1M256.8 307.3h1M259.2 304.1h1M263.1 300.7h1M259.0 308.8h1M251.3 299.3h1M266.0 284.8h1M264.0 295.0h1M262.5 280.8h1M254.2 307.5h1M255.0 305.9h1M261.7 303.9h1M265.6 287.9h1M252.5 297.9h1M261.3 300.8h1M249.2 291.8h1M264.4 299.3h1M249.9 289.3h1M257.2 306.1h1M248.3 290.0h1M251.0 301.6h1M250.2 232.1h1M259.7 236.9h1M264.6 257.0h1M247.4 265.4h1M263.0 246.3h1M245.8 264.1h1M245.5 256.2h1M259.1 241.6h1M261.7 242.0h1M259.2 237.3h1M260.6 252.9h1M259.3 252.7h1M238.6 250.5h1M259.5 245.8h1M239.6 255.7h1M255.5 238.9h1M262.5 238.1h1M249.5 241.5h1M261.3 251.0h1M262.8 250.5h1M243.6 265.6h1M236.7 250.0h1M260.8 253.6h1M263.3 248.6h1M263.8 251.5h1M263.3 256.2h1M259.2 246.0h1M260.4 242.6h1M259.9 240.1h1M243.2 261.6h1M245.4 263.6h1M262.9 248.9h1M260.4 234.2h1M260.1 244.5h1M262.5 239.9h1M263.4 252.7h1M244.8 267.8h1M264.5 256.3h1M228.2 254.0h1M240.5 256.3h1M234.5 252.7h1M235.7 246.9h1M245.8 241.0h1M243.1 256.5h1M247.8 230.2h1M255.9 242.5h1M239.7 244.7h1M246.1 231.4h1M249.9 232.1h1M253.8 236.7h1M255.1 239.3h1M234.5 233.9h1M257.3 246.1h1M250.4 234.4h1M250.7 240.8h1M241.0 246.3h1M248.2 230.5h1M249.4 232.7h1M250.5 238.8h1M256.2 241.3h1M242.2 231.9h1M236.9 238.4h1M240.1 252.0h1M259.2 243.0h1M250.5 237.4h1M238.5 231.3h1M257.0 236.7h1M236.5 226.3h1M240.8 246.9h1M256.5 242.6h1M239.6 231.2h1M242.5 250.4h1M249.8 238.8h1M238.4 230.3h1M235.5 227.9h1M242.6 245.9h1M247.6 240.1h1M256.0 236.5h1M248.6 237.7h1M239.3 245.6h1M242.9 242.7h1M253.3 230.3h1M242.7 230.1h1M248.5 243.7h1M252.9 236.3h1M237.8 240.5h1M260.4 238.3h1M238.2 230.2h1M239.1 239.6h1M238.7 244.4h1M252.7 228.8h1M252.8 236.9h1M252.4 241.5h1M245.6 232.9h1M239.6 229.0h1M257.6 238.2h1M246.3 236.8h1M240.9 239.4h1M245.8 232.2h1M255.1 236.7h1M235.7 243.1h1M247.2 234.1h1M248.0 238.6h1M242.6 244.6h1M259.6 242.3h1M248.2 234.4h1M258.1 237.3h1M237.5 240.1h1M258.8 246.9h1M233.7 251.1h1M243.2 232.1h1M262.1 249.4h1M259.0 247.0h1M244.4 236.6h1M250.0 242.2h1M235.8 229.5h1M233.9 233.2h1M254.6 232.2h1M252.8 240.6h1M242.0 229.5h1M248.7 241.4h1M262.4 249.0h1M244.9 232.1h1M228.1 250.0h1M255.2 241.7h1M247.4 235.5h1M237.1 230.9h1M259.5 242.3h1M244.9 236.8h1M234.1 249.0h1M261.9 254.4h1M241.7 257.2h1M255.9 234.2h1M259.1 253.0h1M251.7 230.2h1M246.5 233.0h1M242.1 232.4h1M255.6 242.2h1M244.1 233.7h1M247.3 235.5h1M254.2 239.0h1M254.5 241.8h1M259.5 242.2h1M254.0 239.7h1M228.4 242.9h1M253.9 230.1h1M258.0 236.3h1M256.6 247.5h1M251.9 237.7h1M251.0 230.3h1M258.0 236.8h1M237.4 241.7h1M252.7 230.2h1M256.4 235.5h1M253.0 230.3h1M259.6 246.8h1M240.7 252.9h1M223.8 249.5h1M224.7 235.7h1M215.9 243.1h1M226.7 256.6h1M218.4 239.8h1M237.4 243.1h1M220.9 231.5h1M233.0 250.0h1M243.5 251.4h1M236.5 239.9h1M227.1 230.9h1M238.2 253.4h1M236.6 229.4h1M224.8 251.3h1M258.9 237.1h1M231.1 239.3h1M255.2 237.1h1M227.1 232.5h1M235.2 256.0h1M248.9 239.6h1M235.9 232.4h1M227.6 230.8h1M227.8 249.5h1M220.5 242.6h1M230.0 246.7h1M239.5 231.1h1M252.8 228.9h1M231.0 254.9h1M237.3 230.0h1M226.1 254.0h1M226.8 244.3h1M231.2 229.5h1M222.0 238.6h1M233.0 240.7h1M232.7 247.1h1M227.9 251.5h1M226.4 233.0h1M231.4 245.4h1M223.3 234.7h1M233.6 230.6h1M241.5 250.1h1M227.4 246.6h1M238.7 233.6h1M225.7 230.9h1M231.8 244.5h1M220.5 253.1h1M222.8 242.1h1M233.1 233.8h1M222.5 232.3h1M223.1 231.5h1M226.6 238.6h1M248.7 232.5h1M221.6 246.2h1M241.5 253.5h1M235.2 235.1h1M229.9 238.1h1M246.9 265.5h1M221.4 240.0h1M223.9 258.5h1M228.3 250.4h1M232.6 234.9h1M236.6 254.9h1M228.5 226.5h1M238.0 246.7h1M261.7 241.4h1M228.3 252.9h1M223.1 240.4h1M218.8 244.5h1M227.7 241.6h1M230.3 243.8h1M224.8 228.7h1M224.0 228.9h1M229.8 252.8h1M239.0 244.9h1M241.8 237.5h1M234.9 242.2h1M231.9 251.9h1M228.0 234.5h1M233.0 239.9h1M224.4 235.4h1M241.0 230.4h1M236.2 227.6h1M218.8 244.5h1M248.5 239.8h1M226.2 243.5h1M242.1 233.6h1M224.6 240.5h1M222.8 246.4h1M229.9 230.1h1M235.3 256.6h1M228.9 241.2h1M229.5 252.6h1M216.7 244.1h1M221.6 235.5h1M219.2 236.0h1M225.1 231.6h1M219.8 230.8h1M222.2 250.1h1M236.7 248.1h1M223.9 248.5h1M226.7 237.5h1M232.3 224.6h1M237.1 256.4h1M234.6 241.3h1M233.9 247.0h1M229.2 254.3h1M222.0 249.3h1M235.0 244.2h1M221.7 253.6h1M244.0 245.9h1M234.0 249.5h1M224.1 259.6h1M233.7 243.6h1M243.3 248.7h1M232.9 234.5h1M226.6 251.5h1M221.8 232.8h1M217.8 241.4h1M239.4 243.8h1M255.2 245.6h1M233.6 223.0h1M220.5 243.3h1M228.2 248.8h1M230.7 242.9h1M235.0 238.9h1M245.0 245.7h1M226.5 227.7h1M221.2 242.5h1M228.4 240.0h1M223.7 240.6h1M225.7 237.6h1M229.8 231.8h1M224.0 238.0h1M213.4 249.4h1M221.3 242.9h1M227.2 252.2h1M232.8 235.7h1M225.9 228.0h1M225.0 235.0h1M223.3 259.0h1M230.5 241.5h1M243.4 251.5h1M242.6 236.8h1M228.9 231.9h1M224.4 233.1h1M236.8 258.3h1M228.9 239.5h1M251.2 243.1h1M225.6 251.2h1M230.4 232.8h1M219.4 245.9h1M244.9 266.8h1M232.7 247.2h1M234.1 238.2h1M231.5 246.8h1M226.2 223.9h1M234.5 247.6h1M229.6 227.5h1M217.6 239.0h1M223.0 238.5h1M226.8 245.7h1M215.7 242.3h1M225.2 232.6h1M216.1 243.3h1M220.1 231.9h1M237.4 250.8h1M213.6 249.7h1M244.2 245.0h1M227.6 227.2h1M228.7 244.9h1M220.9 239.7h1M238.8 242.3h1M240.1 230.4h1M241.9 243.1h1M217.1 234.3h1M223.8 231.8h1M230.3 227.2h1M228.0 242.4h1M222.9 233.2h1M229.4 255.3h1M241.9 259.8h1M246.4 240.6h1M226.8 228.5h1M225.1 235.0h1M241.7 235.9h1M224.0 241.2h1M220.6 242.5h1M226.1 229.9h1M236.6 236.9h1M232.2 258.0h1M228.3 257.0h1M234.5 256.8h1M233.1 236.9h1M241.3 248.0h1M221.0 238.5h1M236.1 241.2h1M234.5 234.8h1M232.6 233.8h1M223.4 246.2h1M222.5 237.7h1M235.1 236.3h1M224.2 249.4h1M247.7 259.5h1M240.7 244.5h1M234.6 251.4h1M225.0 257.4h1M232.5 252.4h1M231.4 225.7h1M231.5 250.1h1M228.3 228.9h1M228.1 239.8h1M228.4 254.6h1M254.6 239.3h1M223.7 250.7h1M233.5 232.0h1M223.3 239.6h1M250.4 257.0h1M225.4 248.1h1M228.0 230.8h1M225.8 244.9h1M242.8 263.7h1M230.0 250.8h1M238.7 233.2h1M221.2 255.1h1M229.2 246.6h1M247.9 234.8h1M226.2 248.5h1M233.4 251.1h1M215.9 238.1h1M226.3 241.4h1M249.2 236.2h1M217.6 232.1h1M236.4 235.6h1M225.5 238.1h1M224.6 256.9h1M222.3 230.6h1M235.9 256.1h1M243.1 235.5h1M237.5 253.4h1M225.0 242.2h1M226.7 228.9h1M228.1 255.0h1M227.8 238.8h1M247.6 236.2h1M237.6 257.6h1M227.7 227.4h1M223.0 229.1h1M221.6 243.1h1M223.8 247.2h1M230.2 247.5h1M242.1 232.5h1M246.2 236.7h1M255.8 238.1h1M228.4 248.2h1M230.5 252.8h1M236.4 250.4h1M221.3 253.0h1M233.4 238.5h1M246.1 267.7h1M231.0 226.7h1M231.3 251.4h1M241.7 248.1h1M242.6 245.5h1M240.6 235.0h1M225.4 229.4h1M240.8 255.4h1M241.4 246.0h1M225.5 228.1h1M231.6 235.6h1M235.9 256.9h1M223.1 230.0h1M224.5 251.7h1M236.1 245.3h1M229.7 245.3h1M220.1 236.9h1M219.6 237.8h1M220.6 233.1h1M246.2 259.8h1M238.6 245.3h1M230.9 248.0h1M232.8 240.3h1M233.1 249.7h1M221.7 255.1h1M240.4 240.5h1M230.1 244.3h1M236.8 234.7h1M244.2 262.9h1M237.1 222.0h1M223.1 245.5h1M230.1 224.9h1M237.1 241.0h1M241.0 234.8h1M243.0 239.5h1M229.9 233.6h1M221.7 245.7h1M228.6 231.8h1M232.9 242.6h1M233.9 255.4h1M236.0 237.8h1M236.8 241.6h1M224.3 247.9h1M218.4 240.8h1M234.3 244.9h1M216.6 251.5h1M230.0 237.7h1M233.3 242.4h1M226.0 240.1h1M243.3 251.7h1M228.8 253.2h1M234.0 239.5h1M230.1 236.3h1M230.3 238.2h1M228.5 247.1h1M218.0 233.1h1M248.9 240.4h1M237.3 247.2h1M223.7 244.5h1M233.4 227.6h1M227.0 245.2h1M241.2 240.6h1M219.8 243.1h1M226.2 234.7h1M227.4 228.9h1M220.6 242.1h1M222.0 234.2h1M231.2 230.3h1M235.1 242.2h1M238.8 246.4h1M241.8 259.4h1M236.8 250.7h1M232.5 249.2h1M238.7 252.8h1M232.6 239.5h1M232.6 241.9h1M238.7 255.4h1M225.5 247.5h1M228.3 241.7h1M233.0 223.5h1M242.8 257.6h1M227.9 233.9h1M242.7 251.0h1M241.4 247.4h1M232.5 236.4h1M237.6 243.3h1M236.1 233.1h1M236.2 249.9h1M237.0 248.1h1M231.2 249.3h1M218.6 241.0h1M230.2 249.9h1M235.8 229.8h1M223.0 237.2h1M235.8 244.0h1M231.6 249.0h1M237.7 244.6h1M230.6 244.5h1M220.8 247.6h1M245.9 245.3h1M228.2 236.1h1M237.4 247.9h1M244.3 253.3h1M220.8 237.7h1M240.4 240.0h1M236.9 254.9h1M242.4 251.4h1M227.7 240.0h1M258.1 240.6h1M244.5 237.4h1M216.0 243.2h1M230.9 230.1h1M222.2 247.4h1M226.4 236.6h1M221.7 248.2h1M230.8 241.9h1M223.3 230.5h1M239.5 243.6h1M222.7 249.9h1M224.8 241.2h1M220.4 235.6h1M228.3 229.8h1M231.2 251.5h1M239.9 231.9h1M245.4 235.2h1M223.8 232.6h1M238.6 244.2h1M227.0 227.4h1M218.1 253.1h1M218.1 243.0h1M242.5 255.5h1M226.1 247.9h1M248.2 262.6h1M223.4 241.5h1M236.5 246.0h1M219.2 239.6h1M230.0 227.5h1M244.1 231.6h1M220.6 247.0h1M225.7 236.6h1M230.2 228.8h1M226.2 240.7h1M231.9 227.0h1M229.6 229.2h1M228.4 241.3h1M237.8 237.9h1M225.7 245.0h1M218.4 249.3h1M231.2 251.2h1M243.8 253.3h1M246.3 257.1h1M225.9 246.8h1M228.7 249.4h1M223.5 250.8h1M240.8 233.6h1M232.1 247.3h1M231.4 251.7h1M223.6 237.8h1M240.2 231.0h1M220.6 245.9h1M240.6 249.5h1M241.9 231.8h1M218.6 243.1h1M216.9 239.7h1M235.6 227.2h1M232.2 250.9h1M253.1 229.2h1M221.3 231.6h1M222.0 241.9h1M220.3 248.6h1M227.4 247.2h1M239.9 256.6h1M246.7 254.7h1M222.6 230.9h1M235.6 246.7h1M220.5 236.3h1M222.0 253.5h1M239.2 255.8h1M218.9 245.4h1M223.1 252.5h1M227.8 251.0h1M234.5 239.8h1M255.0 237.6h1M223.1 236.3h1M244.5 235.4h1M223.7 246.3h1M222.0 235.2h1M234.7 235.6h1M250.5 230.1h1M229.2 251.1h1M221.1 256.1h1M248.5 251.5h1M241.9 241.9h1M230.9 227.2h1M238.2 255.4h1M226.4 246.5h1M238.2 233.7h1M230.9 244.5h1M219.2 249.1h1M221.2 231.0h1M223.0 242.7h1M223.7 239.6h1M239.7 253.6h1M236.7 236.9h1M237.8 232.2h1M224.9 256.0h1M240.0 252.6h1M238.2 251.1h1M225.9 241.9h1M216.4 244.5h1M221.4 244.2h1M232.9 256.4h1M232.1 252.7h1M231.9 248.7h1M240.3 242.6h1M223.7 249.6h1M241.4 244.0h1M225.8 251.2h1M238.1 231.9h1M235.7 230.1h1M223.7 237.0h1M241.6 240.7h1M237.0 231.9h1M235.7 256.2h1M234.1 248.6h1M233.2 229.9h1M224.9 231.1h1M221.3 298.6h1M215.4 302.7h1M218.7 298.5h1M215.8 295.6h1M213.5 298.1h1M220.3 300.1h1M218.0 299.6h1M229.4 302.4h1M220.6 289.6h1M261.0 288.2h1M217.7 297.4h1M219.8 305.2h1M216.7 295.3h1M254.6 300.9h1M222.3 301.2h1M216.1 299.5h1M220.0 294.8h1M218.1 293.2h1M224.8 305.9h1M223.3 299.2h1M223.0 299.8h1M219.7 297.2h1M221.4 294.0h1M219.4 294.7h1M224.3 302.5h1M224.7 304.8h1M218.6 300.7h1M217.4 300.1h1M227.6 304.1h1M224.4 298.7h1M218.3 291.2h1M220.6 297.4h1M223.7 300.9h1M216.3 290.9h1M223.8 286.8h1M224.1 287.4h1M220.7 296.9h1M215.9 304.6h1M223.4 297.2h1M217.3 292.2h1M213.6 295.6h1M216.9 292.1h1M216.3 292.4h1M219.2 297.0h1M218.1 294.4h1M218.9 293.4h1M217.8 298.5h1M222.9 295.4h1M224.1 287.9h1M223.7 297.0h1M221.6 297.5h1M217.3 296.9h1M215.2 294.7h1M232.0 290.3h1M236.8 296.0h1M226.4 300.4h1M220.8 298.2h1M225.5 301.9h1M222.9 300.1h1M221.1 294.0h1M226.1 302.3h1M222.2 287.3h1M225.4 297.9h1M220.1 303.7h1M224.3 300.4h1M228.4 285.4h1M256.1 305.2h1M240.9 253.9h1M232.5 252.0h1M223.7 251.9h1M247.9 274.5h1M247.1 247.4h1M253.8 245.8h1M263.1 291.4h1M220.4 301.7h1M257.2 250.7h1M257.6 304.7h1M261.3 296.2h1M223.3 252.1h1M265.6 290.2h1M243.8 258.0h1M251.6 299.5h1M222.7 289.1h1M227.0 253.3h1M264.4 289.8h1M248.3 269.6h1M263.5 297.9h1M225.6 248.0h1M225.3 245.4h1M263.7 286.3h1" stroke="rgb(118, 118, 203)" stroke-width="1" fill="none" opacity="0.75"/>
<path d="M249.2 274.7h1M246.0 261.4h1M264.4 276.0h1M252.2 285.0h1M248.3 268.6h1M247.9 274.9h1M261.9 259.1h1M256.7 280.4h1M254.2 283.5h1M261.5 301.2h1M263.9 283.9h1M248.5 275.6h1M262.9 275.1h1M262.6 256.5h1M263.8 289.1h1M246.3 257.4h1M262.6 282.0h1M246.6 268.4h1M254.7 301.1h1M263.8 261.8h1M263.0 266.5h1M256.9 305.3h1M251.5 282.9h1M263.2 270.8h1M259.1 279.7h1M249.3 279.6h1M251.5 290.6h1M248.6 283.3h1M251.2 280.7h1M247.3 272.7h1M261.2 277.6h1M264.3 270.6h1M259.0 245.6h1M248.7 276.1h1M263.4 275.0h1M263.7 269.3h1M249.7 287.6h1M259.5 252.5h1M249.0 283.7h1M249.1 266.4h1M247.6 263.2h1M253.9 242.5h1M250.3 284.3h1M263.4 264.5h1M250.9 290.6h1M255.4 303.4h1M262.5 273.6h1M263.1 275.0h1M264.9 288.3h1M252.3 287.6h1M250.7 290.8h1M250.5 281.7h1M257.6 248.9h1M261.4 275.5h1M249.8 288.4h1M256.6 249.4h1M250.4 280.9h1M248.8 275.4h1M263.6 274.9h1M250.2 287.4h1M250.0 285.1h1M247.8 272.4h1M261.1 282.5h1M263.5 283.0h1M261.0 298.4h1M252.3 284.0h1M265.9 275.7h1M248.1 270.4h1M240.9 254.2h1M251.7 298.4h1M262.1 276.7h1M251.0 297.9h1M245.6 261.8h1M260.2 256.8h1M253.5 300.7h1M251.1 291.0h1M262.3 274.3h1M256.6 300.8h1M262.0 301.6h1M261.3 300.8h1M259.6 281.8h1M253.3 301.5h1M261.0 301.5h1M256.5 302.7h1M263.4 284.1h1M252.3 290.8h1M251.4 292.2h1M262.4 298.1h1M259.4 301.6h1M256.8 302.0h1M264.5 294.1h1M263.2 293.7h1M257.6 302.4h1M259.0 279.8h1M255.1 303.8h1M263.2 287.6h1M263.9 285.2h1M262.8 295.1h1M256.7 306.5h1M260.0 283.6h1M260.8 292.3h1M255.5 302.6h1M255.7 298.5h1M255.6 302.0h1M263.4 293.4h1M254.4 240.0h1M261.5 251.7h1M256.8 243.1h1M262.1 250.2h1M259.7 243.8h1M247.5 237.6h1M255.2 251.5h1M243.9 261.2h1M258.7 249.4h1M248.4 263.5h1M253.3 237.1h1M263.7 259.0h1M248.9 239.2h1M242.8 246.0h1M262.7 260.5h1M247.8 260.0h1M260.9 252.1h1M245.0 244.0h1M245.0 258.2h1M248.8 259.5h1M262.9 262.7h1M252.3 238.3h1M246.7 262.8h1M247.7 273.3h1M261.5 255.4h1M261.1 250.6h1M240.3 247.7h1M253.3 240.4h1M245.7 258.8h1M252.0 242.5h1M244.5 253.3h1M258.7 238.6h1M246.7 263.9h1M257.6 249.0h1M247.5 260.1h1M256.2 239.7h1M250.7 238.2h1M246.0 261.4h1M260.4 243.8h1M253.7 250.5h1M239.8 252.5h1M245.6 256.0h1M247.5 256.0h1M257.4 239.3h1M245.2 258.1h1M242.7 248.1h1M263.7 255.1h1M255.6 235.8h1M245.5 254.9h1M248.5 263.4h1M245.3 244.3h1M245.8 255.8h1M242.8 253.2h1M255.7 243.0h1M260.8 254.1h1M244.4 261.2h1M239.5 233.7h1M244.7 243.5h1M251.2 246.4h1M243.1 242.4h1M245.8 235.8h1M243.1 235.8h1M242.8 232.1h1M245.4 253.3h1M252.0 247.0h1M224.8 235.3h1M240.6 238.0h1M241.8 242.2h1M255.9 252.6h1M244.0 251.2h1M251.1 244.3h1M245.2 235.0h1M241.6 249.4h1M242.1 235.7h1M237.4 235.4h1M239.9 240.1h1M249.1 240.1h1M245.6 240.0h1M242.7 238.7h1M245.6 247.9h1M249.1 246.7h1M238.1 238.6h1M247.5 255.6h1M247.3 250.8h1M257.6 243.8h1M243.5 249.8h1M256.7 253.9h1M244.0 261.0h1M237.0 244.8h1M258.5 240.1h1M251.0 240.0h1M244.6 244.9h1M256.3 238.0h1M241.2 247.4h1M237.2 244.7h1M249.2 244.9h1M248.5 243.3h1M249.8 247.1h1M253.2 241.8h1M257.3 245.0h1M228.1 243.0h1M244.2 241.3h1M243.4 241.4h1M237.0 235.7h1M248.9 238.7h1M253.7 241.8h1M236.8 238.0h1M249.3 240.6h1M245.6 239.0h1M246.6 248.5h1M247.7 247.2h1M242.3 237.9h1M255.3 245.0h1M259.3 243.1h1M229.7 235.1h1M238.5 234.2h1M237.8 235.7h1M233.9 237.7h1M244.9 239.4h1M237.0 236.8h1M251.1 242.1h1M241.9 240.7h1M259.2 238.5h1M249.0 236.5h1M243.6 245.3h1M251.7 238.7h1M249.3 241.4h1M238.2 235.2h1M239.8 236.3h1M237.8 233.4h1M243.4 250.5h1M256.3 250.4h1M242.4 243.9h1M246.5 245.6h1M246.6 247.4h1M240.9 235.0h1M248.0 237.9h1M251.4 243.5h1M252.6 238.1h1M258.6 255.5h1M233.5 243.1h1M244.1 235.5h1M246.2 240.5h1M237.8 240.6h1M241.9 234.3h1M244.2 245.6h1M230.6 240.0h1M227.7 237.7h1M226.4 239.0h1M227.2 227.5h1M230.0 238.5h1M244.1 253.8h1M236.2 240.1h1M226.9 230.8h1M225.1 243.9h1M240.3 235.2h1M223.3 245.2h1M257.5 277.1h1M228.8 238.2h1M238.7 237.2h1M223.2 242.4h1M230.4 235.6h1M241.8 238.9h1M235.9 242.9h1M228.4 246.6h1M242.7 248.5h1M233.9 241.6h1M253.2 248.0h1M221.3 243.8h1M229.2 249.7h1M224.7 230.2h1M231.1 237.8h1M230.1 248.4h1M225.5 242.2h1M236.6 236.1h1M245.4 250.2h1M230.3 242.2h1M244.9 239.9h1M232.9 238.9h1M240.2 235.3h1M244.4 248.2h1M224.0 246.2h1M225.9 234.3h1M227.2 249.3h1M234.5 234.8h1M230.8 235.3h1M227.8 240.4h1M232.0 237.2h1M230.3 237.8h1M249.0 244.4h1M227.5 229.4h1M242.2 251.0h1M244.3 245.6h1M226.2 228.7h1M232.7 237.2h1M244.4 236.3h1M237.2 243.4h1M242.6 250.5h1M229.4 249.3h1M258.6 245.7h1M230.6 254.7h1M243.9 237.9h1M227.9 237.9h1M239.2 236.5h1M250.5 268.1h1M242.6 248.7h1M224.0 239.7h1M231.9 236.6h1M231.0 240.4h1M221.5 238.0h1M237.7 236.5h1M232.5 238.8h1M242.6 240.1h1M230.9 235.9h1M230.0 248.6h1M223.1 242.0h1M226.3 230.0h1M225.5 232.3h1M226.3 232.8h1M237.8 238.7h1M230.4 239.3h1M226.6 239.9h1M229.6 236.8h1M245.8 236.2h1M250.2 260.0h1M225.9 235.2h1M220.3 243.5h1M235.9 237.4h1M232.3 236.7h1M226.4 239.1h1M248.3 239.9h1M219.2 242.0h1M232.6 237.5h1M246.9 255.0h1M226.2 231.6h1M239.5 241.3h1M238.3 236.2h1M252.0 241.5h1M237.3 239.6h1M244.9 242.8h1M226.4 242.2h1M227.4 241.5h1M235.0 242.8h1M219.9 243.3h1M255.6 247.0h1M219.6 244.1h1M231.3 236.2h1M250.5 247.5h1M224.2 243.2h1M233.5 237.1h1M246.6 239.9h1M247.0 248.3h1M234.2 236.7h1M240.6 242.8h1M236.8 243.3h1M248.3 252.7h1M238.2 234.4h1M225.6 252.4h1M244.6 252.9h1M238.5 246.1h1M229.6 251.0h1M227.7 246.5h1M252.2 242.7h1M247.5 253.2h1M230.4 246.0h1M228.9 237.9h1M238.5 234.1h1M232.7 236.5h1M225.2 244.8h1M239.9 243.5h1M245.3 251.3h1M240.2 244.2h1M226.4 238.8h1M239.5 238.7h1M223.9 249.9h1M245.4 244.3h1M230.6 236.9h1M230.6 237.9h1M230.9 240.6h1M224.0 244.5h1M234.1 237.1h1M245.0 252.3h1M232.6 237.6h1M232.7 234.8h1M220.6 235.0h1M234.5 234.9h1M229.7 229.2h1M251.9 244.4h1M246.4 244.8h1M230.4 245.8h1M217.1 241.3h1M225.0 229.7h1M222.0 238.5h1M231.9 236.2h1M236.0 243.4h1M220.0 240.3h1M243.8 247.8h1M228.9 249.2h1M248.9 243.3h1M246.6 243.2h1M229.0 235.0h1M232.1 247.9h1M231.5 235.2h1M229.6 231.0h1M227.2 232.7h1M245.2 236.7h1M239.3 236.4h1M242.5 249.9h1M224.3 242.1h1M247.7 253.7h1M256.0 280.8h1M230.3 251.1h1M229.8 249.3h1" stroke="rgb(91, 96, 190)" stroke-width="1" fill="none" opacity="0.75"/>
<path d="M249.3 258.9h1M251.1 278.8h1M261.7 277.4h1M264.8 267.9h1M262.7 270.5h1M263.4 258.1h1M262.1 257.2h1M262.9 267.0h1M258.4 243.7h1M263.2 264.7h1M249.4 265.4h1M261.5 279.2h1M262.7 267.5h1M262.9 271.4h1M251.5 273.3h1M261.5 261.5h1M250.8 243.6h1M260.8 284.1h1M257.2 252.2h1M263.1 283.7h1M263.0 260.1h1M263.0 285.1h1M259.6 254.6h1M257.4 278.7h1M261.4 278.5h1M260.8 273.3h1M258.2 276.8h1M261.6 264.2h1M262.0 283.7h1M252.1 289.9h1M251.7 278.3h1M261.3 291.1h1M250.8 275.4h1M256.3 303.0h1M262.0 282.5h1M260.5 279.3h1M249.5 266.2h1M250.8 286.2h1M250.1 280.1h1M248.8 261.3h1M252.0 295.9h1M249.2 269.4h1M250.6 272.6h1M260.0 276.9h1M260.7 296.2h1M249.3 271.5h1M253.3 257.0h1M247.1 264.1h1M261.8 256.2h1M254.8 282.0h1M260.0 281.7h1M254.1 301.2h1M250.7 276.9h1M253.5 282.1h1M248.8 266.0h1M255.1 276.3h1M247.5 270.9h1M253.2 280.5h1M247.9 261.4h1M250.7 285.0h1M249.6 276.0h1M263.4 285.2h1M262.1 265.3h1M257.0 287.2h1M253.0 295.6h1M260.6 298.2h1M247.5 258.3h1M250.1 262.8h1M248.0 271.8h1M254.6 279.4h1M254.2 299.2h1M248.4 259.8h1M251.7 280.1h1M251.7 292.9h1M261.6 272.9h1M261.5 278.2h1M252.7 294.6h1M262.9 287.6h1M249.3 268.9h1M260.1 273.4h1M252.3 283.4h1M260.4 276.8h1M252.9 290.4h1M251.3 265.6h1M258.9 244.4h1M252.1 277.4h1M250.6 281.8h1M249.7 266.4h1M249.5 284.6h1M253.9 300.3h1M262.0 292.7h1M251.1 274.8h1M262.4 257.8h1M260.8 296.8h1M260.4 282.4h1M258.3 301.5h1M260.0 292.7h1M258.2 281.9h1M259.6 285.3h1M261.0 297.1h1M263.9 288.3h1M263.3 287.4h1M263.3 298.1h1M260.7 295.5h1M260.6 300.0h1M253.2 286.8h1M263.2 294.3h1M257.5 302.4h1M256.2 282.0h1M257.9 286.6h1M263.2 293.3h1M260.5 292.8h1M258.5 279.4h1M261.5 291.1h1M261.9 287.4h1M253.7 288.8h1M263.2 295.8h1M258.8 300.5h1M258.1 273.5h1M261.5 288.7h1M256.4 279.9h1M261.2 286.2h1M254.2 300.6h1M260.0 278.9h1M260.7 276.7h1M262.7 292.9h1M255.2 284.0h1M257.0 278.8h1M259.2 282.5h1M259.8 300.9h1M251.2 286.4h1M262.1 299.8h1M258.2 302.0h1M261.1 296.3h1M255.7 294.3h1M255.4 289.4h1M251.1 286.2h1M260.6 297.4h1M257.0 300.0h1M261.8 294.3h1M263.6 287.5h1M259.1 301.0h1M255.5 296.4h1M253.9 285.8h1M258.2 303.7h1M257.3 301.3h1M259.1 281.0h1M251.4 256.6h1M257.2 254.9h1M246.9 238.9h1M258.0 254.5h1M256.0 246.2h1M262.3 258.9h1M250.1 264.2h1M248.1 258.2h1M244.4 255.5h1M257.8 254.9h1M253.6 244.3h1M248.4 239.4h1M257.3 247.5h1M261.5 257.3h1M250.3 239.6h1M247.4 259.8h1M245.0 249.8h1M248.9 245.2h1M251.1 245.9h1M247.3 257.8h1M253.1 247.0h1M253.5 246.0h1M254.9 240.2h1M258.4 251.7h1M257.1 250.9h1M256.2 240.2h1M256.8 245.8h1M256.9 251.8h1M251.7 257.7h1M237.8 251.4h1M254.4 259.0h1M247.9 242.9h1M254.0 247.3h1M252.1 246.3h1M241.9 249.6h1M256.6 251.6h1M255.3 237.0h1M249.0 249.4h1M250.2 254.0h1M250.3 250.0h1M247.1 252.0h1M252.2 245.1h1M252.8 246.6h1M251.6 249.4h1M255.7 247.2h1M249.2 258.2h1M243.0 242.5h1M247.1 245.1h1M249.2 253.7h1M245.5 239.3h1M253.5 255.8h1M253.4 247.6h1M255.1 246.8h1M257.9 244.4h1M249.1 252.1h1M248.7 254.0h1M258.2 251.2h1M256.3 246.1h1M250.6 255.4h1M246.3 235.9h1M252.4 245.2h1M242.8 243.8h1M241.7 243.8h1M251.8 250.6h1M244.4 235.4h1M246.3 244.1h1M239.6 236.6h1M244.6 236.7h1M242.4 242.7h1M241.4 238.4h1M249.1 250.3h1M248.8 245.5h1M252.4 241.4h1M242.3 238.2h1M256.0 243.8h1M251.7 242.9h1M249.5 245.5h1M250.0 251.4h1M241.7 238.8h1M255.0 246.0h1M250.7 241.4h1M246.8 247.4h1M249.6 241.6h1M242.8 243.8h1M253.4 250.0h1M247.7 243.2h1M244.2 252.0h1M251.7 247.0h1M237.1 241.9h1M242.0 237.1h1M237.9 238.9h1M245.3 250.8h1M253.2 244.0h1M242.8 237.9h1M244.0 246.3h1M252.3 249.6h1M242.1 239.6h1M241.1 237.7h1M244.3 239.0h1M250.3 246.3h1M249.1 242.2h1M242.8 235.7h1M242.4 237.4h1M249.7 252.0h1M233.8 239.4h1M240.2 238.8h1M242.1 236.6h1M236.6 243.2h1M243.9 246.1h1M254.1 252.4h1M250.2 269.2h1M227.6 250.8h1M242.9 241.6h1M230.8 236.6h1M233.2 240.3h1M240.3 239.5h1M236.9 237.4h1M232.9 240.3h1M232.3 235.8h1M234.7 234.3h1M245.3 252.7h1M247.1 251.1h1M233.0 239.9h1M224.7 231.8h1M222.0 242.6h1M221.5 245.9h1M235.0 234.3h1M237.1 239.5h1M259.7 259.6h1M254.6 278.7h1M258.0 298.4h1M256.3 281.3h1M246.6 250.1h1M248.4 245.2h1M253.9 283.7h1" stroke="rgb(71, 102, 185)" stroke-width="1" fill="none" opacity="0.75"/>
<path d="M258.7 259.2h1M255.2 278.2h1M254.6 254.0h1M256.5 257.7h1M251.6 265.8h1M249.7 272.5h1M261.8 276.5h1M260.8 279.2h1M259.6 258.3h1M253.7 255.6h1M261.0 265.1h1M253.2 258.3h1M260.5 266.3h1M258.2 260.4h1M261.8 270.4h1M261.3 278.8h1M242.6 250.4h1M260.6 283.7h1M249.8 271.7h1M251.9 280.9h1M256.9 282.5h1M250.4 272.8h1M262.0 278.5h1M260.9 286.0h1M250.1 272.0h1M251.6 275.6h1M254.0 295.6h1M254.1 274.0h1M251.0 259.1h1M255.1 290.8h1M248.8 272.7h1M260.3 282.5h1M252.0 285.2h1M253.4 276.3h1M262.2 267.0h1M259.2 278.4h1M255.0 276.6h1M250.0 274.7h1M261.7 259.2h1M252.2 276.3h1M249.7 253.8h1M258.6 277.8h1M261.4 270.3h1M258.2 288.0h1M261.7 260.8h1M263.8 275.4h1M260.4 263.7h1M254.0 296.2h1M248.9 278.6h1M261.4 289.0h1M262.2 276.5h1M257.4 287.9h1M259.3 264.8h1M256.6 280.4h1M248.9 259.2h1M252.4 282.6h1M258.6 290.4h1M260.2 278.8h1M249.3 271.2h1M255.8 297.7h1M260.9 276.9h1M255.4 279.1h1M262.6 264.7h1M249.4 272.1h1M249.0 258.4h1M250.1 262.6h1M254.1 288.5h1M251.3 270.6h1M252.9 277.2h1M250.8 265.3h1M262.1 269.8h1M252.7 287.5h1M260.8 282.5h1M258.8 300.2h1M257.2 256.4h1M256.8 279.0h1M247.4 262.3h1M252.4 286.0h1M263.1 274.1h1M261.4 258.1h1M250.3 270.7h1M250.6 290.0h1M261.1 300.5h1M251.4 289.0h1M254.0 283.3h1M263.1 285.3h1M262.6 259.1h1M261.4 283.9h1M251.0 276.2h1M251.6 285.9h1M256.3 284.9h1M258.1 271.2h1M254.2 260.2h1M255.8 282.5h1M260.5 294.8h1M260.8 301.3h1M252.0 290.3h1M255.9 285.2h1M259.3 289.7h1M256.8 300.3h1M260.7 292.0h1M253.7 294.7h1M259.9 295.5h1M258.2 301.9h1M254.8 283.7h1M259.1 302.7h1M256.5 280.0h1M260.9 300.1h1M262.8 291.5h1M253.1 289.4h1M261.3 287.8h1M252.8 287.2h1M261.1 290.3h1M261.5 294.8h1M253.3 277.1h1M257.0 287.0h1M260.8 286.4h1M253.0 291.6h1M261.8 295.7h1M258.5 299.7h1M257.9 291.1h1M253.9 293.2h1M259.6 294.2h1M256.2 286.2h1M260.8 286.7h1M259.1 292.1h1M254.8 281.4h1M260.4 291.1h1M255.8 289.9h1M258.2 289.3h1M258.9 299.7h1M258.3 298.0h1M260.2 297.3h1M262.6 286.3h1M252.7 293.0h1M258.6 284.8h1M258.9 290.8h1M256.8 296.1h1M254.6 300.0h1M258.7 298.7h1M256.2 282.7h1M261.0 299.2h1M255.2 292.0h1M257.7 290.2h1M260.5 295.3h1M254.8 290.3h1M255.6 299.7h1M256.8 293.9h1M256.8 298.4h1M257.4 299.3h1M254.1 298.2h1M249.9 255.7h1M253.1 252.0h1M246.6 248.8h1M250.7 250.3h1M254.6 252.3h1M250.6 246.2h1M255.7 246.2h1M246.0 259.3h1M251.0 260.6h1M249.7 254.8h1M256.3 250.6h1M246.5 241.1h1M254.1 248.3h1M249.8 250.4h1M251.2 240.1h1M248.5 249.5h1M259.8 256.7h1M252.4 258.3h1M248.7 245.7h1M252.3 254.9h1M250.6 249.2h1M256.4 236.9h1M246.6 250.5h1M249.1 251.4h1M255.1 251.1h1M254.5 253.1h1M250.5 275.0h1M248.6 256.4h1M253.7 238.7h1M246.3 239.3h1M253.6 248.5h1M255.3 245.7h1M246.6 253.8h1M249.1 254.2h1M256.0 255.6h1M256.0 248.3h1M252.3 240.9h1M253.3 254.7h1M250.0 253.1h1M248.1 253.9h1M250.9 245.4h1M257.4 250.2h1M246.3 261.1h1M239.9 253.3h1M248.1 253.2h1M253.0 246.0h1M252.8 245.2h1M250.1 260.5h1M248.4 245.4h1M262.1 263.7h1M256.6 245.0h1M254.2 252.7h1M254.4 254.7h1M256.4 248.3h1M254.5 253.6h1M249.0 263.2h1M246.8 248.2h1M249.1 247.1h1M250.6 259.6h1M251.6 249.5h1M255.1 249.6h1M255.6 249.2h1M255.2 247.4h1M248.7 250.9h1M248.0 244.6h1M242.3 237.2h1M243.7 237.7h1M242.7 239.2h1M252.8 253.7h1M253.7 255.1h1M253.1 249.0h1M248.8 245.2h1M239.8 234.4h1M250.6 249.3h1M241.9 239.1h1M250.7 249.4h1M235.6 239.9h1M255.8 258.7h1M254.1 248.5h1M224.9 240.3h1M232.5 238.5h1M241.6 240.6h1M256.6 291.7h1" stroke="rgb(58, 136, 189)" stroke-width="1" fill="none" opacity="0.95"/>
<path d="M251.0 258.7h1M260.8 264.8h1M261.7 262.7h1M261.2 265.2h1M259.2 270.2h1M256.6 271.3h1M255.0 256.6h1M262.3 266.0h1M259.7 256.6h1M260.8 259.9h1M249.5 272.4h1M254.7 247.1h1M246.4 254.0h1M254.2 269.7h1M251.1 277.0h1M256.4 252.6h1M248.8 275.6h1M255.3 254.4h1M262.7 271.7h1M256.9 274.1h1M258.8 278.2h1M260.0 288.8h1M256.0 273.2h1M260.4 282.9h1M256.2 277.2h1M256.4 282.7h1M261.7 287.9h1M253.5 290.7h1M252.7 281.7h1M261.7 269.4h1M261.8 268.4h1M263.1 268.7h1M259.5 296.6h1M256.1 296.3h1M255.8 292.7h1M260.8 290.1h1M256.4 298.6h1M258.6 282.9h1M255.6 279.1h1M262.3 284.6h1M258.1 281.5h1M259.3 272.8h1M260.7 291.6h1M251.3 260.1h1M251.4 275.5h1M250.2 273.5h1M261.7 283.5h1M254.8 286.4h1M252.1 263.5h1M261.5 283.4h1M255.8 298.4h1M258.6 263.9h1M250.2 270.7h1M249.7 252.1h1M261.0 291.3h1M253.0 277.6h1M262.5 289.8h1M253.2 277.7h1M250.8 272.5h1M255.3 276.8h1M260.3 277.8h1M259.6 260.7h1M262.5 265.4h1M261.4 262.9h1M258.6 281.3h1M249.5 261.0h1M252.4 270.2h1M259.0 296.3h1M252.3 273.2h1M254.4 293.0h1M251.7 275.0h1M251.8 276.9h1M256.4 288.9h1M256.7 278.4h1M255.3 292.1h1M262.8 290.5h1M254.4 274.9h1M258.1 283.9h1M255.9 279.2h1M252.2 283.5h1M256.2 295.3h1M252.0 267.5h1M253.5 278.0h1M251.2 256.4h1M262.4 297.1h1M263.1 269.3h1M254.9 292.5h1M253.3 275.3h1M261.1 270.7h1M259.5 267.4h1M253.5 284.2h1M256.1 283.4h1M252.0 262.7h1M260.6 284.4h1M257.5 274.6h1M254.9 295.5h1M256.5 258.2h1M256.2 288.7h1M254.3 297.7h1M259.0 291.4h1M254.6 293.3h1M257.2 294.2h1M260.6 287.4h1M254.2 289.5h1M257.6 297.1h1M261.7 287.4h1M260.5 297.9h1M260.2 292.7h1M255.4 296.5h1M257.3 298.5h1M257.7 291.2h1M261.4 289.9h1M259.3 295.6h1M253.6 292.6h1M261.5 300.4h1M256.0 298.4h1M259.9 282.1h1M255.7 283.0h1M260.4 294.7h1M255.6 297.9h1M256.2 287.1h1M260.7 285.3h1M254.1 274.8h1M260.2 295.2h1M260.1 281.6h1M257.6 287.3h1M257.1 286.8h1M261.3 295.5h1M261.3 299.1h1M259.4 299.7h1M259.8 293.9h1M253.8 290.5h1M259.2 297.9h1M259.4 287.8h1M253.5 289.6h1M261.2 292.1h1M256.7 296.9h1M261.3 294.2h1M253.9 293.3h1M252.8 287.7h1M260.5 292.5h1M256.5 297.6h1M263.1 290.9h1M252.2 253.0h1M249.4 250.2h1M248.8 245.8h1M245.9 251.8h1M251.5 252.8h1M251.3 263.7h1M252.0 266.3h1M251.1 250.6h1M248.4 264.5h1M257.4 252.9h1M249.4 252.5h1M251.4 244.4h1M254.4 247.6h1M250.2 256.3h1M255.1 250.9h1M248.2 261.0h1M256.1 256.0h1M258.0 255.4h1M246.2 251.7h1M249.6 245.5h1M251.1 270.2h1M252.7 251.3h1M251.8 247.9h1M247.4 253.2h1M254.0 247.3h1M253.5 251.2h1M256.2 255.5h1M257.8 255.7h1M256.4 252.2h1M249.9 261.9h1M255.0 244.5h1M253.4 255.7h1M249.6 252.7h1M252.5 247.1h1M252.6 255.6h1M253.1 262.7h1M251.9 256.2h1M247.6 249.7h1M251.5 252.4h1M249.7 252.2h1M250.2 250.2h1M250.9 254.2h1M251.5 254.8h1M242.7 247.9h1M248.0 250.9h1M251.6 247.8h1M246.0 250.1h1M251.0 247.5h1M251.7 264.8h1M255.6 248.8h1M254.4 252.1h1M257.0 255.2h1M253.3 251.0h1M249.7 246.6h1M249.8 247.8h1M250.5 249.3h1M252.4 253.1h1M241.2 238.3h1M243.9 244.9h1M250.9 248.3h1M250.3 254.4h1M256.0 295.7h1" stroke="rgb(69, 161, 167)" stroke-width="1" fill="none" opacity="0.95"/>
<path d="M257.8 272.6h1M260.5 269.0h1M258.8 267.8h1M250.7 272.8h1M257.1 257.9h1M258.3 258.9h1M261.9 265.5h1M256.3 265.4h1M255.4 250.6h1M259.8 270.6h1M252.2 262.1h1M253.1 269.0h1M254.9 262.1h1M261.3 261.3h1M260.4 274.3h1M252.5 265.5h1M257.1 274.4h1M247.8 264.9h1M259.6 260.5h1M253.7 266.2h1M253.1 268.0h1M249.9 263.0h1M253.9 255.1h1M250.7 260.7h1M252.9 273.8h1M257.2 266.3h1M253.6 277.2h1M251.4 267.6h1M259.8 263.8h1M262.5 261.6h1M262.3 261.6h1M259.8 260.3h1M261.4 261.0h1M257.5 261.2h1M254.3 257.3h1M251.4 254.7h1M257.6 272.9h1M258.7 269.1h1M260.9 268.0h1M257.8 255.9h1M261.0 262.3h1M252.4 271.1h1M259.0 266.0h1M261.1 273.0h1M261.7 262.6h1M259.4 261.1h1M263.2 266.9h1M261.6 270.6h1M260.9 271.4h1M258.2 258.7h1M262.9 264.5h1M258.2 271.4h1M258.0 277.5h1M258.4 266.9h1M255.0 258.0h1M258.0 258.8h1M257.6 276.6h1M258.7 299.6h1M258.4 284.6h1M261.3 263.3h1M259.3 284.3h1M252.6 274.8h1M255.7 301.5h1M255.9 283.2h1M256.4 275.8h1M260.1 288.8h1M259.2 292.7h1M255.0 267.6h1M262.0 269.9h1M258.2 273.7h1M256.7 261.5h1M260.4 272.6h1M253.9 276.8h1M253.6 275.5h1M258.6 288.7h1M255.9 259.5h1M259.1 290.9h1M256.9 283.8h1M253.2 275.8h1M257.6 275.0h1M255.0 262.9h1M259.0 273.2h1M258.6 282.0h1M252.7 264.5h1M254.2 263.1h1M255.4 286.0h1M258.0 277.4h1M255.4 271.9h1M254.4 293.6h1M255.3 287.2h1M252.7 276.7h1M257.2 257.2h1M260.4 279.6h1M251.4 270.6h1M254.8 284.2h1M252.6 296.5h1M252.9 263.3h1M253.3 281.9h1M256.0 276.6h1M253.8 294.5h1M255.9 279.7h1M260.7 269.9h1M254.6 294.2h1M253.4 258.7h1M252.9 258.1h1M256.4 273.3h1M256.6 256.6h1M252.7 271.2h1M259.2 287.4h1M260.7 268.4h1M255.5 284.9h1M259.4 268.5h1M254.6 295.3h1M253.5 288.1h1M249.7 269.1h1M255.0 293.9h1M249.2 258.8h1M253.9 285.8h1M254.6 280.1h1M249.6 269.7h1M257.2 285.0h1M257.4 260.3h1M254.0 286.6h1M259.0 260.2h1M255.0 288.1h1M252.2 271.8h1M254.3 263.0h1M254.6 274.6h1M262.1 271.7h1M253.8 276.0h1M257.2 294.2h1M255.9 279.6h1M256.8 275.7h1M256.7 268.0h1M251.4 276.8h1M257.8 294.6h1M258.6 289.0h1M257.4 289.4h1M255.4 292.2h1M256.8 284.3h1M258.5 285.6h1M256.8 294.1h1M256.5 297.8h1M259.9 294.8h1M257.9 293.0h1M256.2 283.8h1M256.1 290.6h1M256.4 296.3h1M256.2 289.0h1M258.6 295.9h1M254.9 294.1h1M256.6 283.4h1M254.0 292.3h1M254.1 296.5h1M256.8 290.6h1M260.0 298.3h1M257.3 287.8h1M257.9 288.8h1M256.0 297.1h1M255.7 298.1h1M256.6 298.5h1M258.7 290.2h1M257.3 294.4h1M255.6 293.0h1M255.7 287.2h1M257.0 296.7h1M254.9 281.0h1M260.9 289.1h1M258.1 281.0h1M259.7 291.9h1M254.9 294.0h1M258.6 297.4h1M257.7 284.4h1M257.2 297.6h1M258.6 300.5h1M258.3 294.1h1M262.2 285.3h1M255.3 259.1h1M253.6 252.7h1M250.8 251.4h1M255.7 252.3h1M255.3 257.3h1M251.2 255.8h1M250.7 259.9h1M257.8 260.2h1M252.5 252.2h1M250.7 251.4h1M255.9 244.6h1M246.8 249.1h1M245.8 247.1h1M255.5 258.4h1M253.0 254.6h1M250.5 247.5h1M248.8 247.6h1M254.7 260.0h1M258.8 255.1h1M253.4 254.3h1M260.0 255.3h1M248.4 254.4h1M258.1 257.3h1M252.4 267.6h1M250.6 264.6h1M256.0 245.9h1M251.6 253.4h1M255.0 254.4h1M258.8 256.9h1M246.8 254.4h1M251.2 256.7h1M253.7 252.3h1M251.7 242.8h1M247.8 245.8h1M260.5 259.7h1M256.1 258.7h1M251.6 251.5h1M248.4 243.6h1M249.8 250.4h1M259.3 258.2h1M251.4 259.1h1M251.1 268.1h1M250.1 266.0h1M255.9 258.4h1M247.5 249.7h1M251.7 249.2h1M249.5 253.3h1M255.0 264.9h1M255.4 259.4h1M248.1 253.2h1" stroke="rgb(86, 182, 140)" stroke-width="1" fill="none" opacity="0.95"/>
<path d="M256.6 271.0h1M253.0 261.0h1M260.5 269.6h1M260.3 265.9h1M259.4 269.9h1M253.5 267.5h1M251.1 271.7h1M252.3 253.7h1M257.7 269.1h1M255.0 253.8h1M254.3 258.9h1M252.5 260.5h1M262.3 261.7h1M255.3 266.9h1M251.7 272.5h1M254.4 262.9h1M258.6 260.5h1M250.6 270.2h1M257.2 260.2h1M255.0 262.5h1M258.0 259.9h1M253.0 273.6h1M259.3 277.2h1M252.0 256.4h1M255.6 273.7h1M258.3 260.6h1M254.8 258.0h1M256.2 260.2h1M258.8 260.8h1M256.3 262.7h1M251.2 267.0h1M256.6 266.3h1M252.9 261.3h1M256.7 273.7h1M254.4 272.3h1M254.6 260.3h1M259.3 261.5h1M254.2 255.1h1M254.7 269.8h1M256.4 270.6h1M255.2 253.8h1M257.7 259.0h1M258.3 260.5h1M256.3 273.0h1M255.1 260.0h1M253.4 274.3h1M257.6 256.4h1M254.4 274.0h1M253.4 262.5h1M260.9 268.6h1M252.9 256.2h1M253.1 263.2h1M254.7 286.0h1M258.8 284.3h1M253.3 261.4h1M256.7 276.8h1M253.8 269.4h1M259.1 266.1h1M254.4 264.6h1M254.8 284.1h1M252.7 270.7h1M260.0 259.9h1M261.7 268.9h1M257.7 275.6h1M250.5 263.0h1M252.4 273.8h1M261.9 287.5h1M255.5 298.9h1M255.5 275.5h1M256.1 287.9h1M261.8 287.2h1M254.3 292.3h1M254.0 271.6h1M258.9 263.4h1M261.3 262.6h1M258.7 266.7h1M250.9 268.6h1M254.2 276.8h1M258.0 276.8h1M257.6 296.3h1M253.3 257.1h1M258.6 286.6h1M260.1 261.8h1M254.3 272.9h1M260.7 291.5h1M257.5 285.2h1M256.2 299.2h1M256.8 279.3h1M256.9 273.8h1M256.4 286.9h1M256.7 293.5h1M255.5 274.2h1M254.6 259.4h1M258.3 297.2h1M253.5 289.7h1M254.9 288.4h1M255.2 283.5h1M256.8 287.0h1M259.0 269.6h1M255.3 267.5h1M251.4 272.1h1M253.2 272.4h1M250.0 257.9h1M256.6 268.3h1M255.7 294.4h1M258.4 287.8h1M257.6 266.0h1M256.3 284.9h1M256.5 289.7h1M256.6 274.5h1M254.2 289.1h1M256.0 292.3h1M258.2 275.1h1M253.5 295.5h1M250.8 264.8h1M254.2 285.9h1M257.1 273.1h1M257.5 290.1h1M257.5 291.9h1M254.5 296.2h1M254.9 299.7h1M260.2 292.5h1M254.4 291.2h1M257.6 289.2h1M258.2 291.1h1M257.2 294.7h1M258.0 277.2h1M258.5 286.8h1M258.2 292.3h1M258.3 285.2h1M254.9 286.1h1M256.7 296.7h1M256.1 292.5h1M254.8 289.7h1M255.3 289.8h1M257.4 287.2h1M258.3 295.6h1M259.2 298.5h1M257.5 298.4h1M259.4 288.4h1M257.0 294.6h1M259.6 283.7h1M256.7 278.8h1M254.5 273.3h1M259.3 297.4h1M258.8 285.0h1M256.4 289.1h1M255.2 288.0h1M253.6 288.2h1M253.7 293.0h1M258.4 285.4h1M254.6 290.4h1M257.9 294.3h1M257.2 258.6h1M258.0 259.7h1M256.4 263.7h1M254.4 273.0h1M252.1 265.7h1M253.3 263.9h1M248.2 242.0h1M249.3 265.1h1M252.2 262.2h1M254.5 258.0h1M253.0 262.9h1M250.6 251.7h1M254.0 259.8h1M255.5 252.6h1M252.4 253.7h1M250.4 253.8h1M253.5 262.6h1M258.4 266.5h1" stroke="rgb(118, 193, 104)" stroke-width="1" fill="none" opacity="0.95"/>
<path d="M254.6 261.0h1M259.6 271.8h1M251.6 259.0h1M254.2 271.2h1M253.4 262.6h1M256.1 257.5h1M256.6 259.9h1M257.6 267.9h1M260.6 261.9h1M256.6 268.0h1M257.9 270.1h1M253.5 269.1h1M258.0 262.6h1M260.1 260.7h1M255.1 265.6h1M254.3 268.5h1M251.4 267.3h1M253.6 271.8h1M257.6 258.9h1M257.1 262.5h1M259.3 266.3h1M259.3 271.2h1M261.9 268.7h1M257.2 273.8h1M254.5 272.4h1M253.0 273.9h1M258.1 275.6h1M260.7 260.8h1M258.2 271.5h1M252.8 266.8h1M255.0 265.0h1M254.1 269.4h1M261.6 268.2h1M259.4 260.2h1M257.3 264.8h1M259.4 266.3h1M255.3 263.1h1M253.6 271.0h1M259.4 268.9h1M257.4 259.9h1M257.7 257.4h1M256.6 266.7h1M257.6 278.2h1M253.0 260.6h1M253.8 264.8h1M260.4 268.8h1M259.1 269.5h1M254.8 278.4h1M260.4 269.1h1M257.9 255.3h1M259.3 263.6h1M259.2 271.1h1M260.3 262.4h1M258.8 258.2h1M252.8 266.8h1M259.2 262.1h1M255.6 268.2h1M252.1 270.0h1M252.8 274.0h1M261.7 287.0h1M258.0 266.1h1M256.1 272.4h1M252.5 270.9h1M255.0 275.1h1M258.8 287.6h1M256.8 276.3h1M256.3 264.0h1M257.4 291.1h1M255.0 291.8h1M253.9 292.1h1M261.3 264.4h1M257.9 260.3h1M256.9 291.7h1M250.9 273.9h1M254.5 260.6h1M254.3 275.5h1M256.3 284.9h1M256.0 274.8h1M255.5 268.8h1M257.3 290.5h1M255.3 269.7h1M257.1 274.6h1M260.2 284.0h1M255.3 272.6h1M258.0 277.3h1M259.1 272.6h1M256.8 274.9h1M260.9 291.3h1M255.5 285.0h1M258.3 278.7h1M253.8 272.5h1M252.6 286.5h1M251.7 270.5h1M255.5 282.4h1M258.0 284.1h1M258.9 286.7h1M257.3 293.6h1M257.3 288.4h1M252.6 285.1h1M257.2 291.0h1M254.8 294.0h1M257.5 296.4h1M258.5 293.8h1M261.3 288.1h1M256.9 291.7h1M255.8 283.6h1M257.0 296.9h1M258.2 293.3h1M256.9 288.3h1M259.0 289.9h1M255.9 297.4h1M258.1 285.8h1M253.9 258.7h1M254.3 251.2h1M250.0 257.9h1M258.0 257.7h1M251.6 260.1h1M247.5 251.3h1M256.2 255.7h1M247.7 253.2h1M250.2 256.0h1M257.6 258.7h1M255.0 261.2h1" stroke="rgb(155, 200, 75)" stroke-width="1" fill="none" opacity="0.95"/>
<path d="M258.1 262.1h1M260.0 264.9h1M257.2 270.1h1M256.7 265.6h1M257.8 276.5h1M254.9 273.6h1M251.1 258.6h1M256.3 263.5h1M258.2 270.5h1M252.6 265.4h1M252.8 267.3h1M254.7 259.6h1M258.2 270.8h1M259.0 266.9h1M255.6 265.0h1M252.5 274.0h1M251.5 268.0h1M254.2 273.3h1M259.1 267.9h1M258.2 263.5h1M253.9 259.2h1M257.1 275.9h1M256.8 263.2h1M254.7 259.6h1M254.6 261.4h1M260.1 266.3h1M256.5 266.6h1M258.1 273.9h1M256.7 278.1h1M258.6 267.4h1M256.4 263.5h1M254.5 269.2h1M259.7 268.6h1M254.7 285.4h1M256.6 264.1h1M257.9 265.0h1M256.7 290.1h1M255.2 288.8h1M254.3 270.4h1M255.3 273.0h1M257.3 267.9h1M261.1 286.0h1M255.6 276.0h1M254.8 267.0h1M261.2 267.1h1M254.2 263.4h1M254.1 294.0h1M256.8 289.1h1M255.3 274.2h1M256.1 293.3h1M258.0 287.7h1M256.3 290.7h1M259.0 286.4h1M258.6 290.6h1M256.6 298.5h1M253.7 268.3h1M255.6 258.9h1M256.1 265.0h1M251.9 267.9h1" stroke="rgb(199, 200, 64)" stroke-width="1" fill="none" opacity="0.95"/>
<path d="M256.9 269.1h1M257.8 267.4h1M255.7 262.8h1M257.3 270.1h1M254.5 266.0h1M255.4 262.6h1M257.5 260.6h1M258.6 274.3h1M254.8 275.9h1M259.9 264.1h1M258.5 268.0h1M260.1 265.3h1M253.2 270.2h1M254.9 271.4h1M254.2 263.9h1M258.2 274.9h1M252.8 267.9h1M254.1 262.5h1M258.4 269.7h1M253.8 267.5h1M252.4 274.3h1M256.4 271.6h1M254.4 265.4h1M255.4 267.4h1M254.5 258.9h1M255.0 261.4h1M253.7 261.4h1M257.9 262.0h1M254.7 265.2h1M256.2 270.9h1M259.1 292.9h1M253.2 274.7h1M255.0 268.3h1M258.1 290.2h1M254.4 265.0h1M260.0 267.4h1M254.2 275.6h1M257.3 265.0h1M260.5 264.2h1M257.7 290.5h1M256.6 284.7h1M254.4 261.8h1M257.1 293.2h1M254.5 270.5h1M252.2 262.8h1M254.8 271.4h1M256.0 257.4h1M254.3 270.2h1M259.3 269.4h1M261.1 291.5h1M257.0 285.7h1M257.6 288.6h1M255.2 291.3h1M257.2 259.9h1M257.1 270.4h1M257.5 268.0h1" stroke="rgb(225, 175, 55)" stroke-width="1" fill="none" opacity="0.95"/>
<path d="M258.7 266.5h1M257.0 264.0h1M254.9 266.4h1M252.7 268.5h1M256.6 274.9h1M253.8 270.1h1M257.5 271.2h1M258.8 263.6h1M254.7 265.1h1M253.5 266.4h1M255.0 259.3h1M255.8 264.0h1M258.9 266.6h1M257.8 273.4h1M253.0 259.0h1M256.8 267.2h1M254.5 264.7h1M258.9 265.0h1M252.9 267.9h1M258.8 266.3h1M255.0 260.7h1M255.6 265.0h1M254.6 272.4h1M253.6 266.9h1M251.9 268.7h1M257.1 268.0h1M256.7 269.4h1M256.1 266.5h1M254.8 265.9h1M256.1 268.3h1M257.9 259.8h1M257.4 267.0h1M253.3 271.2h1M257.2 271.2h1M259.6 268.1h1M259.1 259.2h1M254.7 263.9h1M256.0 266.2h1M256.6 267.1h1M257.7 270.8h1M255.8 264.6h1M253.5 266.5h1M256.9 261.7h1M255.7 264.7h1M258.0 267.9h1M255.2 263.7h1M258.8 265.0h1M252.7 274.5h1M252.8 271.9h1M258.3 262.6h1M253.7 266.1h1M255.1 259.2h1M253.5 270.8h1M256.1 267.7h1M255.4 271.8h1M255.2 270.9h1M255.3 263.1h1M259.4 267.9h1M255.2 273.3h1M251.6 271.7h1M257.2 268.3h1M257.8 268.0h1M256.4 269.9h1M255.6 267.1h1M254.8 264.3h1M257.5 259.2h1M254.9 267.4h1M256.9 269.4h1M256.4 272.9h1M259.7 268.6h1M258.8 265.8h1M257.7 268.8h1M257.5 264.0h1M261.4 268.9h1M259.6 263.2h1M255.6 264.5h1M259.2 259.4h1M260.4 267.1h1M256.7 269.4h1M258.4 271.4h1M258.8 268.4h1M256.4 274.9h1M259.7 265.4h1M257.8 266.0h1M255.0 265.2h1M254.8 267.8h1M255.0 262.9h1M255.0 271.6h1M257.1 262.9h1M253.1 273.5h1M257.9 265.5h1M256.3 268.4h1M258.2 289.4h1M257.1 271.5h1M255.5 262.9h1M259.2 268.9h1M257.5 267.3h1M254.5 273.8h1M256.1 293.9h1M258.1 294.4h1M257.3 290.3h1M257.5 291.6h1M258.9 294.6h1M259.6 265.1h1M254.6 266.6h1M259.2 266.0h1M258.5 264.3h1" stroke="rgb(230, 121, 45)" stroke-width="1" fill="none" opacity="0.95"/>
<rect x="187.5" y="215" width="103.1" height="102.1" fill="none" stroke="#231f20" stroke-width="1.3"/>
<rect x="192" y="217.8" width="49.9" height="59.4" fill="none" stroke="#555" stroke-width="0.9"/>
<rect x="243.8" y="217.8" width="36.8" height="99.3" fill="none" stroke="#555" stroke-width="0.9"/>
<text x="210.8" y="210.1" font-size="8" fill="#231f20" stroke="#231f20" stroke-width="0.1" textLength="56.4" lengthAdjust="spacingAndGlyphs">miR-144/451 KO</text>
<text x="197.5" y="229" font-size="8.6" fill="#231f20" stroke="#231f20" stroke-width="0.1" textLength="14.92" lengthAdjust="spacingAndGlyphs">11%</text>
<text x="258.3" y="229" font-size="8.6" fill="#231f20" stroke="#231f20" stroke-width="0.1" textLength="15.49" lengthAdjust="spacingAndGlyphs">80%</text>
<path d="M184.1 317.1h3.4M185.5 313.19h2M185.5 309.28h2M185.5 305.37h2M185.5 301.46h2M184.1 297.55h3.4M185.5 293.64h2M185.5 289.73h2M185.5 285.82h2M185.5 281.91h2M184.1 278h3.4M185.5 274.09h2M185.5 270.18h2M185.5 266.27h2M185.5 262.36h2M184.1 258.45h3.4M185.5 254.54h2M185.5 250.63h2M185.5 246.72h2M185.5 242.81h2M184.1 238.9h3.4M185.5 234.99h2M185.5 231.08h2M185.5 227.17h2M185.5 223.26h2M184.1 219.35h3.4" fill="none" stroke="#231f20" stroke-width="0.9"/>
<text x="180.5" y="320.1" font-size="8.4" text-anchor="end" fill="#231f20" stroke="#231f20" stroke-width="0.1" textLength="4.11" lengthAdjust="spacingAndGlyphs">0</text>
<text x="180.5" y="300.55" font-size="8.4" text-anchor="end" fill="#231f20" stroke="#231f20" stroke-width="0.1" textLength="13.15" lengthAdjust="spacingAndGlyphs">50K</text>
<text x="180.5" y="281" font-size="8.4" text-anchor="end" fill="#231f20" stroke="#231f20" stroke-width="0.1" textLength="17.26" lengthAdjust="spacingAndGlyphs">100K</text>
<text x="180.5" y="261.45" font-size="8.4" text-anchor="end" fill="#231f20" stroke="#231f20" stroke-width="0.1" textLength="17.26" lengthAdjust="spacingAndGlyphs">150K</text>
<text x="180.5" y="241.9" font-size="8.4" text-anchor="end" fill="#231f20" stroke="#231f20" stroke-width="0.1" textLength="17.26" lengthAdjust="spacingAndGlyphs">200K</text>
<text x="180.5" y="222.35" font-size="8.4" text-anchor="end" fill="#231f20" stroke="#231f20" stroke-width="0.1" textLength="17.26" lengthAdjust="spacingAndGlyphs">250K</text>
<path d="M189.98 317.1v1.8M191.98 317.1v1.8M193.62 317.1v1.8M195 317.1v1.8M196.2 317.1v1.8M197.26 317.1v1.8M198.2 317.1v3.2M204.42 317.1v1.8M208.05 317.1v1.8M210.63 317.1v1.8M212.63 317.1v1.8M214.27 317.1v1.8M215.65 317.1v1.8M216.85 317.1v1.8M217.91 317.1v1.8M218.85 317.1v3.2M225.07 317.1v1.8M228.7 317.1v1.8M231.28 317.1v1.8M233.28 317.1v1.8M234.92 317.1v1.8M236.3 317.1v1.8M237.5 317.1v1.8M238.56 317.1v1.8M239.5 317.1v3.2M245.72 317.1v1.8M249.35 317.1v1.8M251.93 317.1v1.8M253.93 317.1v1.8M255.57 317.1v1.8M256.95 317.1v1.8M258.15 317.1v1.8M259.21 317.1v1.8M260.15 317.1v3.2M266.37 317.1v1.8M270 317.1v1.8M272.58 317.1v1.8M274.58 317.1v1.8M276.22 317.1v1.8M277.6 317.1v1.8M278.8 317.1v1.8M279.86 317.1v1.8M280.8 317.1v3.2M287.02 317.1v1.8" fill="none" stroke="#231f20" stroke-width="0.9"/>
<text x="193.73" y="334.9" font-size="8.2" fill="#231f20" stroke="#231f20" stroke-width="0.1" textLength="7.48" lengthAdjust="spacingAndGlyphs">10</text>
<text x="201.5" y="331.5" font-size="4.8" fill="#231f20" stroke="#231f20" stroke-width="0.1">1</text>
<text x="214.38" y="334.9" font-size="8.2" fill="#231f20" stroke="#231f20" stroke-width="0.1" textLength="7.48" lengthAdjust="spacingAndGlyphs">10</text>
<text x="222.15" y="331.5" font-size="4.8" fill="#231f20" stroke="#231f20" stroke-width="0.1">2</text>
<text x="235.03" y="334.9" font-size="8.2" fill="#231f20" stroke="#231f20" stroke-width="0.1" textLength="7.48" lengthAdjust="spacingAndGlyphs">10</text>
<text x="242.8" y="331.5" font-size="4.8" fill="#231f20" stroke="#231f20" stroke-width="0.1">3</text>
<text x="255.68" y="334.9" font-size="8.2" fill="#231f20" stroke="#231f20" stroke-width="0.1" textLength="7.48" lengthAdjust="spacingAndGlyphs">10</text>
<text x="263.45" y="331.5" font-size="4.8" fill="#231f20" stroke="#231f20" stroke-width="0.1">4</text>
<text x="276.33" y="334.9" font-size="8.2" fill="#231f20" stroke="#231f20" stroke-width="0.1" textLength="7.48" lengthAdjust="spacingAndGlyphs">10</text>
<text x="284.1" y="331.5" font-size="4.8" fill="#231f20" stroke="#231f20" stroke-width="0.1">5</text>
<text transform="translate(16.2 275.8) rotate(-90)" font-size="10" text-anchor="middle" fill="#231f20" stroke="#231f20" stroke-width="0.1" textLength="65" lengthAdjust="spacingAndGlyphs">Forward scatter</text>
<text x="101.3" y="348.6" font-size="9.9" text-anchor="middle" fill="#231f20" stroke="#231f20" stroke-width="0.1" textLength="28" lengthAdjust="spacingAndGlyphs">Ter119</text>
<text x="239.2" y="348.6" font-size="9.9" text-anchor="middle" fill="#231f20" stroke="#231f20" stroke-width="0.1" textLength="28" lengthAdjust="spacingAndGlyphs">Ter119</text>
<rect x="357.3" y="228.09" width="20.5" height="86.11" fill="#4e6280"/>
<rect x="388" y="234.83" width="21.1" height="79.37" fill="#a23746"/>
<line x1="367.5" y1="223.8" x2="367.5" y2="232.2" stroke="#231f20" stroke-width="1"/>
<line x1="365.1" y1="223.8" x2="369.9" y2="223.8" stroke="#231f20" stroke-width="1"/>
<line x1="365.1" y1="232.2" x2="369.9" y2="232.2" stroke="#231f20" stroke-width="1"/>
<line x1="398.5" y1="226.8" x2="398.5" y2="243.7" stroke="#231f20" stroke-width="1"/>
<line x1="396.1" y1="226.8" x2="400.9" y2="226.8" stroke="#231f20" stroke-width="1"/>
<line x1="396.1" y1="243.7" x2="400.9" y2="243.7" stroke="#231f20" stroke-width="1"/>
<line x1="351.5" y1="207.5" x2="351.5" y2="315" stroke="#231f20" stroke-width="1.2"/>
<line x1="350.9" y1="314.4" x2="415.2" y2="314.4" stroke="#231f20" stroke-width="1.3"/>
<line x1="348.2" y1="314.2" x2="351.5" y2="314.2" stroke="#231f20" stroke-width="0.9"/>
<text x="345.8" y="317" font-size="8.2" text-anchor="end" fill="#231f20" stroke="#231f20" stroke-width="0.1" textLength="4.1" lengthAdjust="spacingAndGlyphs">0</text>
<line x1="348.2" y1="293.45" x2="351.5" y2="293.45" stroke="#231f20" stroke-width="0.9"/>
<text x="345.8" y="296.25" font-size="8.2" text-anchor="end" fill="#231f20" stroke="#231f20" stroke-width="0.1" textLength="8.21" lengthAdjust="spacingAndGlyphs">20</text>
<line x1="348.2" y1="272.7" x2="351.5" y2="272.7" stroke="#231f20" stroke-width="0.9"/>
<text x="345.8" y="275.5" font-size="8.2" text-anchor="end" fill="#231f20" stroke="#231f20" stroke-width="0.1" textLength="8.21" lengthAdjust="spacingAndGlyphs">40</text>
<line x1="348.2" y1="251.95" x2="351.5" y2="251.95" stroke="#231f20" stroke-width="0.9"/>
<text x="345.8" y="254.75" font-size="8.2" text-anchor="end" fill="#231f20" stroke="#231f20" stroke-width="0.1" textLength="8.21" lengthAdjust="spacingAndGlyphs">60</text>
<line x1="348.2" y1="231.2" x2="351.5" y2="231.2" stroke="#231f20" stroke-width="0.9"/>
<text x="345.8" y="234" font-size="8.2" text-anchor="end" fill="#231f20" stroke="#231f20" stroke-width="0.1" textLength="8.21" lengthAdjust="spacingAndGlyphs">80</text>
<line x1="348.2" y1="210.45" x2="351.5" y2="210.45" stroke="#231f20" stroke-width="0.9"/>
<text x="345.8" y="213.25" font-size="8.2" text-anchor="end" fill="#231f20" stroke="#231f20" stroke-width="0.1" textLength="12.31" lengthAdjust="spacingAndGlyphs">100</text>
<line x1="367.5" y1="314.2" x2="367.5" y2="317.4" stroke="#231f20" stroke-width="0.9"/>
<line x1="398.5" y1="314.2" x2="398.5" y2="317.4" stroke="#231f20" stroke-width="0.9"/>
<text x="356.4" y="218.8" font-size="9.4" fill="#231f20" stroke="#231f20" stroke-width="0.1" textLength="26" lengthAdjust="spacingAndGlyphs">n = 10</text>
<text x="396.4" y="223.2" font-size="8.6" fill="#231f20" stroke="#231f20" stroke-width="0.1">*</text>
<text transform="translate(372.4 324.4) rotate(-45)" font-size="8.6" text-anchor="end" fill="#231f20" stroke="#231f20" stroke-width="0.1" textLength="11.5" lengthAdjust="spacingAndGlyphs">WT</text>
<text transform="translate(403.3 324.8) rotate(-45)" font-size="8.6" text-anchor="end" fill="#231f20" stroke="#231f20" stroke-width="0.1" textLength="10.8" lengthAdjust="spacingAndGlyphs">KO</text>
<text transform="translate(325.7 258) rotate(-90)" font-size="9.6" text-anchor="middle" fill="#231f20" stroke="#231f20" stroke-width="0.1" textLength="112" lengthAdjust="spacingAndGlyphs">Fetal liver Ter119+ cells (%)</text>
<text x="8" y="359.3" font-size="12" fill="#231f20" stroke="#231f20" stroke-width="0.1" textLength="7.8" lengthAdjust="spacingAndGlyphs">D</text>
<path d="M65.1 429.0h1M54.5 425.9h1M47.1 421.8h1M59.3 405.6h1M59.0 423.8h1M46.5 411.2h1M58.6 428.8h1M54.2 405.4h1M87.8 401.9h1M54.5 404.4h1M51.9 402.1h1M50.2 407.2h1M44.0 409.5h1M73.7 403.0h1M56.6 403.4h1M55.0 423.9h1M47.4 417.6h1M64.9 400.0h1M76.5 427.8h1M90.5 401.4h1M86.8 403.6h1M95.0 404.2h1M101.8 429.2h1M90.4 401.3h1M97.7 403.0h1M101.0 429.9h1M92.4 402.8h1M82.1 402.6h1M95.2 400.5h1M101.4 424.2h1M106.7 425.0h1M99.3 427.0h1M95.1 403.4h1M79.4 428.6h1M92.2 429.9h1M95.9 402.5h1M100.0 424.9h1M44.6 418.3h1M43.3 411.9h1M67.6 403.1h1M57.2 426.1h1M49.4 403.9h1M57.9 404.5h1M98.5 427.8h1M81.9 401.8h1M65.5 427.1h1M43.5 410.5h1M68.9 403.4h1M47.0 417.1h1M100.9 398.7h1M46.4 417.3h1M115.9 405.5h1M82.8 400.9h1M99.0 402.1h1M117.8 399.7h1M114.4 427.1h1M118.1 404.3h1M146.4 413.1h1M146.5 419.9h1M146.7 416.5h1M137.4 424.7h1M145.3 409.2h1M138.4 419.4h1M117.7 426.6h1M132.5 427.6h1M109.7 424.9h1M138.6 423.5h1M116.3 425.3h1M139.6 423.1h1M112.6 425.4h1M121.2 427.2h1M137.6 423.0h1M130.5 425.7h1M125.0 423.0h1M115.0 425.1h1M114.1 401.2h1M131.3 423.2h1M115.1 427.2h1M122.2 403.1h1M125.3 425.7h1M140.2 421.5h1M124.5 402.6h1M120.0 405.1h1M137.0 426.8h1M148.5 420.0h1M142.5 423.6h1M146.3 418.3h1M141.5 406.2h1M140.3 428.7h1M122.2 394.9h1M148.7 401.6h1M125.3 404.2h1M145.6 418.3h1M132.6 403.7h1M146.5 424.3h1M138.6 404.4h1M128.9 400.8h1M143.3 406.2h1M135.1 405.1h1M136.9 396.7h1M142.7 404.7h1M142.4 404.4h1M143.7 421.5h1M138.2 403.9h1M146.4 412.7h1M142.1 422.0h1M138.1 405.6h1M71.5 441.7h1M65.3 430.0h1M67.5 434.7h1M71.8 433.5h1M76.4 449.3h1M93.5 451.7h1M67.5 450.1h1M72.5 442.4h1M71.5 455.0h1M55.4 433.4h1M71.0 435.1h1M55.3 434.7h1M75.5 462.8h1M71.4 450.8h1M71.8 446.2h1M70.5 429.8h1M68.7 439.8h1M72.1 431.7h1M55.2 455.6h1M62.3 455.7h1M60.9 458.0h1M67.7 454.9h1M88.6 451.7h1M78.5 466.7h1M66.1 432.4h1M72.4 433.8h1M70.8 429.2h1M58.2 447.1h1M69.7 433.5h1M63.0 455.5h1M69.9 454.4h1M57.1 422.5h1M64.9 434.3h1M62.4 456.5h1M74.9 438.8h1M66.9 457.3h1M55.8 443.9h1M83.7 446.8h1M62.8 429.8h1M58.2 439.4h1M73.7 433.7h1M59.3 448.7h1M59.9 453.3h1M71.3 453.6h1M78.5 440.6h1M77.9 445.9h1M74.6 446.1h1M75.6 455.1h1M71.2 460.1h1M75.7 460.8h1M68.4 456.9h1M69.4 451.4h1M73.2 453.7h1M58.2 429.1h1M73.8 443.1h1M58.1 440.4h1M78.7 432.6h1M81.1 459.1h1M79.6 448.1h1M53.1 447.3h1M86.1 458.0h1M61.1 428.6h1M75.9 447.2h1M76.0 430.2h1M74.1 448.8h1M75.1 451.3h1M67.6 446.8h1M64.8 461.1h1M62.9 455.0h1M72.6 455.3h1M78.1 440.2h1M67.8 450.2h1M62.7 446.5h1M72.8 443.8h1M80.9 435.5h1M60.0 429.3h1M74.5 430.7h1M78.0 439.0h1M57.0 444.5h1M71.2 458.5h1M68.8 429.0h1M57.1 434.8h1M62.8 442.1h1M67.4 448.3h1M64.3 451.5h1M84.9 447.3h1M75.2 447.0h1M53.5 431.7h1M58.5 465.2h1M75.7 460.6h1M77.4 460.6h1M63.9 449.4h1M58.8 447.6h1M71.2 456.9h1M71.5 437.8h1M81.2 447.0h1M54.3 454.5h1M57.2 438.2h1M80.5 438.5h1M60.4 431.6h1M84.5 442.9h1M54.2 435.9h1M58.5 452.0h1M57.0 445.5h1M66.9 459.1h1M61.6 463.0h1M75.7 459.1h1M50.7 442.5h1M63.5 458.5h1M73.5 438.4h1M69.6 446.7h1M62.2 453.3h1M77.8 470.9h1M68.1 438.1h1M72.6 455.1h1M56.9 454.8h1M52.9 462.4h1M74.8 447.8h1M59.1 434.2h1M78.2 462.0h1M65.1 457.6h1M75.6 440.4h1M82.2 440.5h1M70.0 435.9h1M63.3 436.1h1M54.0 438.9h1M63.8 433.1h1M65.6 459.7h1M61.8 432.9h1M54.7 442.3h1M58.8 445.2h1M75.1 433.0h1M58.2 450.6h1M64.7 449.9h1M79.3 451.6h1M56.7 458.8h1M61.1 442.5h1M66.3 462.0h1M79.2 452.0h1M61.1 455.1h1M72.8 443.5h1M68.0 436.6h1M56.5 450.7h1M62.2 450.5h1M47.0 442.7h1M57.8 453.6h1M56.7 445.5h1M78.0 462.1h1M83.4 454.0h1M62.0 461.2h1M60.1 449.0h1M79.0 452.0h1M63.6 431.4h1M66.3 438.6h1M66.4 434.3h1M58.2 457.6h1M68.3 454.8h1M59.1 461.1h1M67.9 456.0h1M61.4 460.4h1M62.2 427.8h1M76.6 462.5h1M56.9 451.9h1M60.3 458.2h1M52.9 425.6h1M55.1 450.3h1M72.3 457.2h1M56.8 443.0h1M64.2 451.8h1M63.7 472.9h1M63.3 449.9h1M67.5 462.3h1M50.0 446.6h1M60.9 456.1h1M69.9 443.6h1M62.1 448.8h1M73.7 447.5h1M51.8 455.5h1M66.2 454.1h1M59.8 434.9h1M57.6 432.3h1M57.1 456.9h1M70.1 458.3h1M61.5 439.7h1M53.8 451.4h1M68.8 427.4h1M56.7 437.3h1M58.2 439.9h1M68.5 454.1h1M82.7 455.0h1M56.5 441.0h1M54.3 457.8h1M51.1 454.9h1M59.9 438.6h1M58.2 440.5h1M83.3 439.2h1M57.1 427.1h1M103.8 454.1h1M104.9 449.6h1M90.8 444.8h1M138.1 458.8h1M127.7 440.7h1M87.5 450.8h1M113.7 449.6h1M98.2 436.5h1M103.4 466.5h1M112.8 455.1h1M130.1 450.7h1M81.2 444.8h1M104.7 443.4h1M100.2 455.6h1M105.1 461.6h1M103.4 451.1h1M129.7 451.9h1M74.8 473.1h1M54.3 433.0h1M115.5 445.9h1M111.6 458.8h1M63.2 475.2h1M136.1 442.4h1M112.9 468.0h1M79.5 454.2h1M92.1 426.9h1M95.6 456.2h1M84.9 445.4h1M50.8 434.7h1M127.8 453.1h1M91.5 444.3h1M122.7 432.5h1M68.7 457.1h1M110.8 457.9h1M90.8 451.1h1M90.6 441.7h1M75.8 437.7h1M64.8 435.8h1M90.1 438.6h1M92.0 457.0h1M104.5 454.1h1M79.7 435.0h1M87.6 441.8h1M117.6 484.3h1M136.7 437.2h1M121.6 452.4h1M87.2 444.7h1M99.3 435.8h1M103.8 461.2h1M62.9 437.3h1M87.0 455.4h1M132.4 472.0h1M86.7 435.2h1M113.0 448.7h1M85.3 453.0h1M115.9 453.5h1M112.2 467.4h1M74.5 451.4h1M82.1 448.7h1M114.6 425.3h1M124.2 442.2h1M90.0 448.9h1M103.6 445.6h1M94.5 453.5h1M93.0 484.3h1M118.4 436.0h1M106.9 451.5h1M127.7 457.7h1M91.3 434.9h1M82.8 453.3h1M56.3 445.7h1M110.8 428.1h1M96.5 466.5h1M134.1 448.1h1M84.7 452.5h1M146.7 452.4h1M61.4 458.9h1M110.1 456.3h1M94.1 471.7h1M124.5 465.5h1M60.0 444.2h1M74.4 461.3h1M81.1 436.2h1M95.0 426.1h1M131.5 436.1h1M123.9 452.7h1M98.9 437.1h1M86.8 439.9h1M78.9 466.7h1M89.1 449.2h1M118.8 453.4h1M86.2 434.3h1M128.1 447.1h1M115.8 451.1h1M93.4 452.7h1M114.7 440.6h1M77.5 479.6h1M76.7 447.6h1M64.9 455.4h1M86.2 436.3h1M118.6 474.3h1M97.0 451.3h1M118.7 436.0h1M106.2 438.2h1M147.6 426.1h1M74.4 436.5h1M112.0 446.3h1M85.9 402.4h1M50.2 449.7h1M80.5 441.6h1M49.6 457.4h1M131.8 460.7h1M110.6 462.6h1M65.0 483.6h1M74.9 434.9h1M60.7 450.9h1M111.1 436.0h1M49.0 445.1h1M120.6 420.9h1M134.3 473.3h1M120.5 453.4h1M62.0 438.4h1M55.6 446.1h1M106.4 441.5h1M94.7 455.5h1M110.1 465.6h1M107.4 405.4h1M86.0 452.5h1M146.0 403.1h1M71.9 463.5h1M78.6 404.2h1M130.8 464.6h1M100.0 467.1h1M94.8 434.0h1M116.8 465.9h1M73.8 428.3h1M146.1 482.1h1M98.5 405.2h1M137.1 448.4h1M47.3 413.2h1M54.5 449.4h1M109.4 429.9h1M57.4 432.2h1M89.2 484.5h1M106.7 441.0h1M51.2 480.3h1M104.4 466.5h1" stroke="rgb(146, 146, 214)" stroke-width="1" fill="none" opacity="0.75"/>
<path d="M62.6 423.5h1M69.0 405.5h1M63.5 405.7h1M49.0 411.2h1M65.0 424.8h1M66.3 408.3h1M59.9 426.5h1M59.4 423.4h1M47.1 412.9h1M69.0 426.1h1M60.5 406.2h1M58.5 422.9h1M54.3 406.8h1M53.8 421.4h1M53.8 407.0h1M50.5 408.5h1M48.4 414.5h1M74.7 404.3h1M63.3 403.1h1M51.4 409.0h1M78.7 406.0h1M71.6 426.7h1M62.2 425.6h1M58.1 422.8h1M46.5 412.3h1M46.8 413.8h1M62.9 423.6h1M72.7 424.3h1M60.6 403.5h1M55.8 425.2h1M67.4 423.9h1M55.1 422.5h1M79.4 424.9h1M58.2 422.3h1M50.4 410.1h1M88.9 424.7h1M88.6 426.6h1M104.7 405.2h1M105.4 426.5h1M88.2 426.9h1M83.0 406.4h1M79.8 425.9h1M100.5 406.2h1M76.9 423.8h1M103.4 422.4h1M107.3 421.9h1M105.6 425.3h1M88.5 405.6h1M108.4 424.0h1M110.2 406.1h1M86.9 426.5h1M89.2 424.1h1M94.8 427.1h1M103.5 405.6h1M84.9 423.7h1M79.4 426.3h1M101.8 423.8h1M106.2 421.9h1M82.8 423.5h1M89.9 426.4h1M95.8 424.7h1M96.3 426.4h1M90.6 428.3h1M77.9 423.3h1M93.8 424.9h1M103.0 423.5h1M110.8 407.1h1M82.8 425.6h1M91.7 427.1h1M106.3 407.1h1M72.0 406.6h1M75.7 425.9h1M72.6 426.2h1M83.1 427.3h1M74.6 422.7h1M68.6 425.5h1M55.7 408.9h1M69.0 422.9h1M75.6 405.9h1M79.8 405.4h1M76.9 426.1h1M79.7 425.4h1M86.3 426.9h1M69.2 423.8h1M81.2 426.8h1M79.9 403.0h1M55.9 409.8h1M81.5 402.7h1M51.3 418.2h1M50.5 415.2h1M47.0 414.7h1M62.2 407.2h1M57.5 425.1h1M85.3 428.5h1M62.0 428.0h1M60.9 428.2h1M77.0 403.9h1M75.0 426.0h1M114.4 406.8h1M102.3 420.9h1M51.0 407.2h1M79.6 404.1h1M89.0 426.0h1M83.5 425.4h1M70.9 426.1h1M76.6 427.3h1M81.2 421.0h1M135.7 422.0h1M129.3 408.3h1M127.1 404.6h1M107.4 404.4h1M133.1 409.6h1M109.8 424.2h1M142.8 417.4h1M120.4 421.9h1M126.6 405.6h1M131.0 421.2h1M129.3 424.2h1M130.4 405.0h1M124.5 407.0h1M121.9 420.7h1M124.3 406.4h1M133.0 420.5h1M119.0 409.4h1M128.6 421.9h1M111.1 424.0h1M114.6 423.0h1M120.4 406.7h1M106.4 406.4h1M140.6 407.4h1M134.6 407.0h1M132.1 405.4h1M117.6 406.4h1M94.4 405.6h1M121.1 420.8h1M102.8 406.2h1M119.1 424.3h1M122.1 422.2h1M115.8 407.6h1M106.3 424.2h1M127.7 406.4h1M139.6 416.0h1M120.1 409.3h1M113.8 405.9h1M106.7 407.5h1M110.0 421.8h1M122.5 423.2h1M119.4 423.5h1M102.0 409.3h1M101.7 406.2h1M119.3 406.1h1M121.9 423.8h1M125.8 422.7h1M124.4 405.3h1M139.2 409.6h1M124.5 422.5h1M106.8 405.3h1M103.2 425.6h1M128.6 409.3h1M112.9 420.9h1M142.9 416.9h1M124.9 422.0h1M125.4 404.8h1M130.9 421.6h1M129.6 421.6h1M125.7 409.8h1M110.1 422.2h1M109.6 422.8h1M128.8 420.4h1M141.1 406.6h1M119.3 406.7h1M129.2 420.3h1M146.1 414.6h1M120.3 420.3h1M118.5 406.6h1M131.6 404.8h1M124.1 405.3h1M146.7 413.8h1M142.6 410.9h1M135.5 422.4h1M139.6 407.8h1M146.6 413.6h1M136.3 419.4h1M143.8 408.4h1M139.7 416.7h1M138.9 406.7h1M139.2 409.8h1M144.6 414.1h1M139.4 415.4h1M140.9 416.0h1M137.3 416.9h1M130.4 404.7h1M128.0 405.8h1M142.8 415.3h1M137.1 407.3h1M145.8 414.2h1M143.7 413.0h1M132.8 405.8h1M140.1 418.3h1M141.5 418.2h1M131.6 421.4h1M142.2 412.0h1M147.5 412.0h1M125.6 406.7h1M137.1 423.4h1M141.6 410.1h1M143.0 412.7h1M143.5 416.0h1M133.4 405.6h1M130.2 423.0h1M74.4 442.9h1M64.9 439.1h1M64.3 440.7h1M71.3 440.5h1M61.7 446.5h1M69.6 449.5h1M70.0 439.4h1M65.5 436.4h1M67.9 441.3h1M68.7 439.4h1M82.6 427.0h1M64.9 438.0h1M70.8 447.7h1M74.0 446.7h1M64.4 437.0h1M62.8 442.0h1M66.7 447.5h1M64.3 445.7h1M66.0 440.8h1M60.0 455.0h1M66.1 447.9h1M65.0 442.7h1M72.4 425.7h1M70.5 445.7h1M67.5 441.5h1M63.2 443.3h1M55.7 445.5h1M71.8 422.2h1M69.9 444.4h1M75.0 442.1h1M65.6 446.7h1M71.8 453.1h1M68.5 443.7h1M66.1 441.7h1M66.9 447.3h1M57.2 448.2h1M65.4 443.0h1M63.9 442.3h1M65.2 438.2h1M63.9 444.9h1M73.2 446.0h1M69.9 455.1h1M68.6 445.5h1M69.8 449.8h1M62.2 442.2h1M76.2 437.6h1M74.7 441.4h1M69.8 449.2h1M69.6 452.6h1M58.9 441.8h1M64.0 442.5h1M65.5 436.9h1M66.1 444.1h1M63.6 443.8h1M67.1 442.9h1M75.3 437.0h1M71.3 447.1h1M67.9 441.4h1M68.6 439.5h1M68.9 441.7h1M64.6 444.2h1M75.0 440.5h1M74.9 436.0h1M70.5 449.9h1M70.8 443.2h1M69.2 448.1h1M76.0 422.4h1M68.6 450.4h1M66.9 451.4h1M66.0 443.6h1M69.5 452.1h1M72.6 442.2h1M67.9 440.8h1M63.1 441.9h1M65.8 439.4h1M63.6 443.9h1M63.7 455.2h1M71.7 448.4h1M71.5 441.5h1M73.1 423.7h1M125.8 410.6h1M122.7 419.3h1M121.4 422.5h1M123.6 409.9h1" stroke="rgb(118, 118, 203)" stroke-width="1" fill="none" opacity="0.75"/>
<path d="M71.3 424.4h1M52.9 421.6h1M49.3 414.2h1M75.9 405.9h1M52.8 416.5h1M51.6 411.3h1M53.6 419.9h1M79.1 419.8h1M66.0 406.6h1M56.6 408.9h1M56.2 407.3h1M55.4 409.8h1M55.0 413.1h1M53.0 412.3h1M57.3 407.4h1M48.7 413.5h1M57.4 409.1h1M54.6 420.4h1M49.4 415.6h1M56.1 411.1h1M70.1 423.6h1M67.0 404.9h1M59.6 406.9h1M68.9 406.5h1M52.6 411.3h1M57.5 408.1h1M64.5 407.5h1M50.8 416.2h1M58.9 411.0h1M61.9 406.6h1M66.1 423.1h1M63.2 422.3h1M57.4 407.7h1M64.2 406.6h1M50.2 414.1h1M49.6 412.6h1M70.9 406.4h1M53.2 416.0h1M51.6 419.3h1M50.6 411.7h1M62.6 421.2h1M81.2 423.5h1M85.3 408.5h1M96.7 424.4h1M80.9 406.7h1M89.7 423.3h1M102.9 407.7h1M108.0 420.9h1M108.2 421.9h1M89.0 406.5h1M80.2 407.3h1M88.1 424.7h1M87.6 406.8h1M87.3 425.4h1M93.1 425.1h1M90.3 424.0h1M90.3 406.0h1M83.2 423.0h1M97.1 423.9h1M83.9 424.0h1M79.7 404.0h1M89.1 407.1h1M113.9 408.4h1M93.3 406.9h1M79.2 420.6h1M107.6 406.1h1M61.7 416.0h1M91.9 423.6h1M99.9 407.0h1M51.5 413.3h1M50.9 420.1h1M80.9 407.7h1M103.0 405.3h1M77.6 406.7h1M69.0 408.7h1M87.7 424.4h1M104.8 410.5h1M90.7 424.7h1M72.7 408.6h1M81.5 407.2h1M66.5 421.9h1M59.9 407.4h1M64.4 423.1h1M79.6 424.2h1M62.3 405.7h1M53.4 417.6h1M50.4 411.1h1M50.0 413.2h1M69.6 405.8h1M87.1 407.3h1M75.9 406.7h1M73.8 423.8h1M78.5 404.0h1M83.4 425.9h1M72.7 407.3h1M88.2 406.5h1M81.7 422.2h1M65.1 404.2h1M54.7 418.9h1M55.8 421.3h1M73.7 422.5h1M73.0 425.0h1M82.4 424.0h1M72.1 423.9h1M82.9 407.6h1M75.7 407.7h1M100.4 406.1h1M108.3 421.5h1M51.0 410.7h1M72.6 423.2h1M75.4 406.9h1M113.5 415.4h1M113.6 406.4h1M114.0 420.1h1M140.2 408.9h1M124.9 405.8h1M121.1 420.8h1M120.4 420.9h1M124.9 415.3h1M114.3 406.8h1M122.0 415.8h1M109.5 406.5h1M132.6 419.8h1M138.6 417.0h1M134.7 415.7h1M113.7 409.6h1M131.5 417.2h1M127.8 408.4h1M119.0 417.7h1M119.3 411.7h1M128.8 420.4h1M115.2 419.8h1M127.0 416.6h1M110.0 417.7h1M128.6 420.5h1M110.6 421.3h1M118.6 420.3h1M132.1 416.7h1M133.4 417.7h1M123.6 409.2h1M111.2 417.1h1M124.8 408.7h1M122.5 421.3h1M138.2 410.6h1M109.2 414.8h1M132.8 412.3h1M107.2 406.5h1M129.4 408.4h1M124.8 421.5h1M126.6 415.9h1M136.1 417.4h1M114.6 418.2h1M120.9 420.0h1M113.5 420.6h1M115.2 416.6h1M108.5 408.4h1M133.9 412.7h1M126.2 414.9h1M129.7 416.3h1M109.1 409.5h1M122.6 417.1h1M114.9 408.1h1M112.7 411.4h1M131.9 408.4h1M123.4 423.4h1M114.5 408.4h1M116.0 419.8h1M127.2 414.0h1M124.1 419.8h1M125.4 418.4h1M123.4 413.3h1M114.9 421.5h1M133.1 411.4h1M122.8 417.9h1M116.1 417.3h1M121.6 411.5h1M125.3 416.8h1M110.7 408.2h1M124.2 408.1h1M109.1 407.6h1M129.9 420.5h1M136.3 408.7h1M127.9 412.4h1M128.0 411.3h1M132.8 411.2h1M142.6 412.6h1M134.0 409.9h1M134.1 418.0h1M134.0 418.6h1M142.9 414.0h1M131.6 409.2h1M140.8 411.7h1M139.3 414.4h1M130.4 408.6h1M130.5 413.7h1M134.9 408.6h1M136.9 411.0h1M140.9 416.5h1M141.8 411.2h1M135.5 417.4h1M128.4 419.8h1M129.4 412.4h1M121.1 408.9h1M139.9 413.6h1M132.2 412.2h1M133.9 411.6h1M141.0 408.7h1M128.7 409.8h1M143.2 411.1h1M134.4 411.3h1M135.0 418.8h1M126.3 419.1h1M142.3 411.9h1M132.8 409.0h1M136.4 409.2h1M134.9 406.9h1M61.6 421.8h1M64.9 444.2h1M67.0 444.1h1M66.9 441.7h1M67.3 439.9h1M65.3 445.3h1M106.5 413.5h1M112.9 412.6h1M104.4 419.4h1M64.8 419.3h1" stroke="rgb(91, 96, 190)" stroke-width="1" fill="none" opacity="0.75"/>
<path d="M51.2 410.1h1M60.8 416.2h1M71.0 423.2h1M62.1 422.7h1M65.3 420.1h1M50.9 410.4h1M60.0 417.2h1M53.3 420.5h1M55.7 413.1h1M53.4 419.1h1M60.2 419.2h1M63.8 421.7h1M71.6 427.6h1M76.6 407.4h1M76.7 410.3h1M75.1 406.5h1M49.7 413.6h1M60.2 410.4h1M63.3 418.9h1M65.2 409.9h1M52.2 416.2h1M50.6 413.8h1M70.8 407.9h1M62.7 406.2h1M52.6 412.7h1M62.3 407.4h1M57.8 419.8h1M55.1 418.5h1M60.1 410.1h1M51.5 415.3h1M57.3 414.0h1M68.2 407.4h1M69.7 421.1h1M56.8 417.0h1M57.3 419.7h1M70.1 420.6h1M73.0 419.9h1M51.1 414.6h1M54.3 418.0h1M54.0 417.8h1M71.4 406.1h1M57.8 408.0h1M51.5 414.9h1M105.1 421.8h1M98.6 422.8h1M72.7 424.7h1M72.2 418.6h1M105.3 418.0h1M104.0 417.3h1M85.6 407.0h1M81.9 424.4h1M78.6 405.5h1M102.0 412.9h1M74.8 421.3h1M84.4 423.2h1M103.0 421.9h1M111.0 411.3h1M80.9 408.7h1M77.4 407.5h1M107.6 417.4h1M84.6 424.0h1M112.3 417.7h1M80.7 417.9h1M101.7 409.6h1M84.2 409.3h1M78.0 409.0h1M87.7 408.0h1M105.8 407.1h1M93.0 408.3h1M110.5 415.2h1M112.4 408.9h1M99.5 408.4h1M81.0 423.9h1M91.7 407.7h1M97.9 409.1h1M99.4 407.6h1M113.5 418.2h1M80.0 406.9h1M89.7 420.8h1M94.9 408.3h1M83.0 422.0h1M107.0 420.4h1M114.1 418.8h1M70.4 407.7h1M78.8 420.4h1M110.2 417.4h1M92.7 423.1h1M93.1 420.0h1M86.1 421.4h1M91.2 406.8h1M73.6 422.7h1M109.2 419.4h1M92.0 422.2h1M56.2 410.1h1M72.1 420.6h1M77.5 410.2h1M74.9 422.4h1M58.3 420.3h1M80.2 407.2h1M65.4 423.9h1M80.4 419.8h1M62.9 407.7h1M130.5 410.4h1M55.1 413.3h1M76.9 410.8h1M89.1 424.0h1M83.0 421.3h1M73.8 408.8h1M74.9 420.4h1M64.6 409.6h1M76.9 407.2h1M97.4 421.3h1M75.1 417.9h1M87.9 425.0h1M105.9 407.8h1M71.8 407.2h1M81.6 408.7h1M76.4 418.5h1M77.3 419.2h1M77.9 418.7h1M84.5 420.7h1M63.2 414.6h1M70.8 407.8h1M70.6 413.3h1M70.6 414.5h1M51.0 412.0h1M82.3 426.5h1M69.6 408.3h1M60.6 410.9h1M59.2 422.1h1M66.2 406.2h1M79.1 419.1h1M68.2 407.3h1M72.0 417.5h1M97.0 406.8h1M83.5 406.2h1M79.5 408.6h1M77.3 418.7h1M74.0 418.4h1M121.9 412.2h1M109.4 411.8h1M133.4 417.8h1M132.4 416.2h1M115.7 419.7h1M118.1 420.1h1M131.3 415.3h1M128.4 415.9h1M118.3 418.3h1M134.5 413.5h1M115.3 409.1h1M110.8 421.3h1M114.2 410.9h1M133.3 412.7h1M135.1 414.6h1M140.5 411.9h1M123.9 410.8h1M124.7 414.8h1M108.5 407.8h1M113.1 419.4h1M120.3 412.8h1M125.9 418.9h1M119.9 415.0h1M121.4 409.1h1M117.4 410.3h1M117.7 420.6h1M120.0 409.9h1M126.2 415.9h1M112.4 409.5h1M112.8 409.2h1M112.1 411.9h1M112.6 419.5h1M106.1 420.3h1M120.6 414.9h1M119.9 412.2h1M128.6 417.3h1M116.4 413.4h1M115.8 417.6h1M124.7 407.8h1M111.1 411.8h1M120.9 414.2h1M115.0 413.4h1M117.2 409.6h1M121.2 417.6h1M132.2 413.9h1M108.3 412.1h1M108.6 408.2h1M109.1 408.0h1M130.9 412.8h1M122.4 416.3h1M122.5 412.0h1M107.0 421.3h1M108.3 415.9h1M109.1 411.3h1M127.8 413.7h1M134.2 415.1h1M134.7 410.2h1M114.3 409.0h1M120.2 412.3h1M115.6 420.0h1M123.6 420.2h1M126.3 413.1h1M113.9 416.9h1M124.3 408.7h1M121.9 409.5h1M110.2 417.0h1M136.5 414.0h1M114.7 413.6h1M121.4 417.4h1M137.4 410.8h1M114.7 420.0h1M128.6 411.3h1M107.3 421.6h1M118.7 414.9h1M115.5 420.5h1M124.5 409.4h1M116.4 410.2h1M118.0 415.9h1M120.4 410.9h1M111.8 412.3h1M123.4 408.1h1M127.5 413.2h1M103.5 408.6h1M106.7 409.1h1M109.1 409.4h1M137.5 412.8h1M132.8 416.7h1M138.0 414.5h1M138.2 409.5h1M129.5 416.7h1M132.4 408.1h1M135.7 415.1h1M135.9 412.7h1M136.8 416.8h1M136.6 414.3h1M121.1 417.0h1M133.4 415.8h1M132.6 408.9h1M133.0 414.2h1M127.9 415.3h1M137.4 413.5h1M140.3 413.0h1M127.1 414.1h1M134.7 413.2h1M130.6 417.7h1M134.9 413.5h1M138.8 409.1h1M63.5 419.3h1M97.5 421.5h1M78.0 417.2h1M93.3 421.0h1M128.2 411.8h1" stroke="rgb(71, 102, 185)" stroke-width="1" fill="none" opacity="0.75"/>
<path d="M62.1 414.3h1M58.1 417.4h1M64.3 415.8h1M55.1 417.3h1M51.9 412.3h1M64.8 419.3h1M60.7 419.4h1M54.7 414.7h1M53.4 419.3h1M62.0 411.7h1M53.5 413.5h1M70.6 413.4h1M58.5 413.2h1M56.6 410.5h1M70.7 421.7h1M53.9 413.5h1M62.0 412.3h1M63.7 406.7h1M70.7 411.5h1M66.1 419.2h1M56.7 410.3h1M60.2 410.0h1M56.6 411.8h1M55.8 418.4h1M61.0 414.4h1M57.6 416.4h1M60.1 407.8h1M64.9 408.1h1M61.7 406.4h1M53.8 412.2h1M60.7 411.6h1M73.4 418.0h1M68.6 407.0h1M71.8 409.8h1M64.3 408.4h1M68.0 407.1h1M63.7 417.0h1M75.7 411.4h1M60.2 411.8h1M61.8 408.8h1M53.8 417.7h1M54.8 413.4h1M77.1 409.5h1M54.8 416.2h1M63.6 407.4h1M66.0 421.1h1M77.9 413.1h1M61.3 411.3h1M57.9 419.1h1M75.3 410.9h1M73.2 411.1h1M73.8 417.3h1M57.4 409.1h1M59.9 417.8h1M55.0 414.6h1M67.3 409.8h1M60.8 408.7h1M107.4 412.9h1M81.5 407.3h1M106.2 410.8h1M85.3 408.1h1M93.2 421.9h1M102.4 407.8h1M87.0 416.9h1M86.3 422.8h1M83.7 420.9h1M100.0 421.9h1M82.6 424.5h1M77.6 415.2h1M80.7 410.6h1M98.8 408.9h1M93.3 410.3h1M103.6 413.9h1M107.6 413.5h1M93.2 423.5h1M99.3 421.0h1M111.5 415.1h1M108.8 417.2h1M104.8 419.4h1M101.2 412.2h1M110.1 410.3h1M95.8 407.0h1M92.3 409.4h1M85.4 422.4h1M95.7 421.7h1M85.3 408.6h1M94.9 421.5h1M95.5 409.5h1M96.9 407.0h1M89.1 415.7h1M83.8 413.7h1M73.8 420.5h1M89.4 421.0h1M84.3 420.7h1M106.7 410.1h1M105.6 413.9h1M79.7 409.3h1M87.1 421.0h1M90.2 418.7h1M102.6 419.8h1M87.0 422.1h1M89.1 422.1h1M102.9 409.2h1M84.3 420.9h1M91.9 422.7h1M103.7 419.0h1M92.3 423.4h1M87.1 409.2h1M105.9 418.0h1M104.3 421.6h1M80.5 414.0h1M101.3 415.9h1M73.6 409.4h1M85.0 408.3h1M69.7 421.2h1M72.4 417.6h1M73.1 417.1h1M70.0 408.2h1M64.8 420.6h1M75.8 410.7h1M93.2 423.3h1M107.2 414.0h1M79.1 414.3h1M56.2 413.3h1M75.5 413.3h1M78.9 419.1h1M59.5 418.8h1M79.7 408.1h1M69.4 422.5h1M74.2 410.6h1M108.0 415.3h1M74.8 410.0h1M83.7 419.3h1M79.2 412.2h1M58.5 419.5h1M52.8 417.2h1M78.2 412.6h1M67.7 410.1h1M105.8 413.8h1M70.2 414.6h1M73.2 415.5h1M80.7 417.2h1M73.6 409.7h1M60.5 418.6h1M72.1 416.8h1M77.6 407.9h1M78.9 416.8h1M76.4 421.6h1M73.8 419.2h1M78.6 412.0h1M71.4 419.9h1M70.8 421.0h1M80.0 412.2h1M63.1 419.2h1M81.8 414.7h1M75.0 413.0h1M76.7 409.9h1M74.2 409.8h1M77.5 412.9h1M104.1 419.4h1M119.6 412.8h1M115.7 411.4h1M109.3 408.5h1M135.6 413.6h1M124.7 416.4h1M114.9 418.6h1M112.9 412.1h1M115.1 415.8h1M109.9 415.5h1M124.9 416.9h1M126.6 409.8h1M113.9 410.7h1M120.0 409.4h1M122.7 417.5h1M116.3 414.2h1M117.9 418.1h1M128.6 412.0h1M113.8 416.2h1M110.0 411.0h1M107.3 421.5h1M102.6 410.2h1M123.0 413.3h1M106.4 414.0h1M116.7 416.9h1M117.1 410.2h1M121.6 411.0h1M102.7 410.4h1M135.6 414.9h1M108.8 418.4h1M136.7 412.8h1M119.6 415.4h1M129.7 415.2h1M113.0 415.7h1M121.4 413.1h1M105.3 418.8h1M125.0 413.6h1M133.6 417.3h1M125.2 414.9h1M107.7 411.3h1M133.5 414.6h1M126.2 409.7h1M116.6 410.1h1M100.5 419.1h1M119.0 420.5h1M109.8 416.5h1M127.9 412.8h1M135.1 415.0h1M109.1 409.4h1M118.1 412.9h1M115.4 410.2h1M112.4 414.5h1M124.1 409.9h1M124.2 415.4h1M126.1 412.8h1M116.3 415.5h1M120.4 413.0h1M107.3 417.5h1M106.9 414.9h1M113.3 413.2h1M101.6 412.1h1M127.3 415.9h1M109.7 416.7h1M111.7 412.6h1M124.2 413.4h1M105.2 409.8h1M112.3 410.3h1M130.9 415.3h1M107.0 410.3h1M115.7 420.6h1M107.1 418.8h1M120.1 416.7h1M103.4 418.1h1M136.2 411.2h1M127.2 417.0h1M107.7 414.7h1M125.2 414.6h1M115.5 413.7h1M117.5 413.3h1M104.3 409.8h1M121.1 416.9h1M103.6 410.0h1M123.4 414.3h1M105.2 420.2h1M132.6 415.4h1M136.2 411.1h1M133.8 416.5h1M136.2 411.1h1M134.2 410.8h1M129.3 410.4h1M126.2 418.7h1M131.2 411.3h1M137.4 411.5h1M128.7 413.7h1M119.2 420.2h1M128.6 413.8h1M137.3 407.7h1M126.5 414.3h1M136.7 415.3h1M127.0 419.0h1M130.8 416.1h1M88.0 414.6h1M68.8 415.9h1M107.3 414.0h1M103.5 411.1h1M64.3 416.2h1" stroke="rgb(58, 136, 189)" stroke-width="1" fill="none" opacity="0.95"/>
<path d="M62.9 416.5h1M59.4 418.7h1M59.3 420.6h1M66.2 416.6h1M70.6 408.4h1M64.8 408.9h1M69.0 418.0h1M73.6 411.0h1M59.7 419.3h1M72.4 412.6h1M51.8 416.2h1M71.3 415.6h1M68.6 408.8h1M69.1 418.4h1M54.6 420.0h1M64.7 408.4h1M83.8 409.7h1M55.6 417.5h1M68.5 409.8h1M69.0 412.5h1M55.0 413.9h1M60.2 415.3h1M63.3 408.2h1M67.6 411.8h1M68.1 420.4h1M62.1 415.7h1M66.8 414.6h1M59.9 410.2h1M70.5 411.2h1M65.9 411.5h1M58.2 414.9h1M83.6 417.9h1M65.7 418.9h1M76.8 411.7h1M58.0 414.9h1M75.5 418.0h1M55.8 416.1h1M61.3 414.8h1M57.1 416.4h1M57.3 417.4h1M60.7 419.5h1M70.2 418.2h1M71.1 412.0h1M69.7 408.0h1M71.1 413.9h1M56.0 415.9h1M55.6 415.6h1M75.7 414.7h1M60.3 415.6h1M57.7 414.7h1M53.5 416.1h1M68.3 421.1h1M59.1 417.3h1M71.0 419.3h1M56.5 411.4h1M58.1 417.0h1M62.4 414.1h1M66.7 416.0h1M55.8 414.9h1M69.8 419.3h1M61.5 412.9h1M59.5 420.2h1M60.2 421.3h1M69.2 418.2h1M87.9 420.6h1M110.2 415.7h1M78.9 417.0h1M103.0 411.1h1M95.5 408.6h1M105.0 411.9h1M105.0 420.6h1M58.3 418.8h1M80.5 415.5h1M97.1 409.7h1M98.5 420.5h1M70.2 410.1h1M101.5 418.0h1M87.6 417.0h1M106.6 411.0h1M83.6 417.9h1M97.3 419.6h1M87.8 409.2h1M100.6 419.5h1M78.2 409.9h1M106.9 418.0h1M82.0 412.7h1M102.3 414.5h1M74.7 413.0h1M92.8 420.1h1M94.7 408.5h1M101.5 414.9h1M79.2 415.9h1M106.1 411.7h1M91.8 408.5h1M97.5 419.7h1M83.6 419.0h1M77.0 411.6h1M95.4 422.2h1M98.4 409.4h1M107.3 411.6h1M106.9 415.0h1M88.4 418.2h1M89.6 423.2h1M98.3 418.8h1M86.1 409.2h1M93.6 423.5h1M93.1 419.9h1M70.7 419.8h1M94.5 409.6h1M75.6 410.2h1M87.8 420.9h1M107.2 415.2h1M101.7 411.7h1M77.6 411.3h1M67.9 418.7h1M82.5 408.4h1M85.6 420.2h1M102.6 408.7h1M79.3 420.0h1M96.2 408.4h1M110.3 409.7h1M105.6 410.9h1M118.7 413.8h1M97.5 408.0h1M78.9 410.6h1M86.1 420.7h1M75.5 418.6h1M104.5 415.8h1M72.3 417.9h1M106.2 416.9h1M92.0 422.2h1M78.0 412.1h1M94.4 408.7h1M94.0 407.5h1M97.6 420.0h1M99.8 420.1h1M107.3 415.5h1M86.3 409.8h1M53.9 415.0h1M81.9 420.3h1M67.3 410.8h1M76.4 416.8h1M81.8 415.5h1M106.4 418.4h1M82.6 420.0h1M72.3 421.9h1M74.9 415.0h1M68.9 416.7h1M83.1 419.7h1M60.4 421.0h1M81.1 413.3h1M66.3 409.6h1M90.7 408.8h1M80.5 416.5h1M73.9 409.1h1M61.6 409.2h1M69.9 419.8h1M61.7 419.2h1M104.4 411.4h1M80.7 418.9h1M69.8 417.2h1M54.8 418.0h1M67.0 417.4h1M68.2 415.0h1M68.7 418.4h1M81.8 424.0h1M86.8 409.8h1M72.0 416.0h1M66.5 418.0h1M77.2 416.6h1M81.4 417.2h1M74.7 421.1h1M85.0 409.3h1M70.5 422.0h1M65.6 415.9h1M56.4 416.9h1M77.4 417.3h1M85.7 418.3h1M77.6 417.8h1M87.4 412.4h1M76.5 415.4h1M73.7 412.6h1M101.6 418.4h1M81.3 413.9h1M76.7 417.4h1M81.2 417.7h1M75.3 419.6h1M84.7 419.3h1M85.3 419.6h1M87.2 419.2h1M102.0 420.0h1M96.4 415.5h1M66.7 408.6h1M54.8 413.4h1M110.6 412.2h1M117.8 416.9h1M125.9 409.5h1M113.7 415.5h1M102.3 409.9h1M100.0 421.0h1M122.3 413.9h1M116.9 411.3h1M119.6 412.8h1M117.4 420.4h1M116.3 413.1h1M121.1 414.4h1M127.4 412.9h1M113.9 413.4h1M104.1 417.2h1M97.3 418.4h1M117.9 411.4h1M104.9 413.1h1M130.3 418.5h1M110.5 414.0h1M101.6 419.7h1M125.0 416.6h1M118.8 415.9h1M116.9 413.3h1M126.6 412.1h1M101.9 413.5h1M115.2 414.6h1M119.9 413.9h1M103.4 410.8h1M116.8 414.6h1M101.1 409.3h1M105.8 410.9h1M114.4 414.8h1M117.8 410.6h1M116.1 416.8h1M117.6 414.8h1M113.7 410.0h1M114.3 410.8h1M113.7 416.9h1M111.4 411.5h1M108.3 416.3h1M114.1 412.5h1M110.7 410.0h1M126.1 415.0h1M112.2 417.6h1M121.9 412.3h1M117.0 418.8h1M120.3 411.5h1M134.4 415.3h1M133.4 413.9h1M138.2 408.3h1M125.7 413.3h1M125.9 413.2h1M134.4 410.0h1M130.6 415.9h1M124.3 413.1h1M87.3 418.4h1" stroke="rgb(69, 161, 167)" stroke-width="1" fill="none" opacity="0.95"/>
<path d="M61.1 413.5h1M72.0 420.0h1M74.0 413.6h1M57.5 416.5h1M68.5 409.4h1M64.9 409.7h1M68.2 418.8h1M69.8 409.4h1M68.6 411.3h1M72.4 417.9h1M65.4 420.0h1M59.6 410.8h1M77.8 414.3h1M70.4 412.1h1M58.5 417.9h1M67.5 413.7h1M69.0 412.3h1M59.9 411.8h1M60.9 409.1h1M66.4 412.8h1M65.8 410.2h1M78.2 415.2h1M57.0 411.7h1M71.8 415.2h1M62.8 417.4h1M76.3 413.1h1M62.0 418.5h1M64.3 411.3h1M70.7 415.7h1M66.3 411.9h1M71.1 417.3h1M65.0 419.3h1M67.8 413.9h1M63.7 410.5h1M65.9 409.8h1M58.3 417.4h1M63.4 418.3h1M63.8 413.6h1M57.0 411.1h1M62.4 409.1h1M61.8 416.7h1M67.5 419.6h1M70.8 419.4h1M67.4 415.5h1M77.9 415.7h1M73.8 414.3h1M66.3 409.9h1M64.3 415.4h1M64.3 413.2h1M66.5 416.1h1M75.2 413.0h1M63.3 413.9h1M70.5 413.0h1M62.0 411.6h1M94.7 410.1h1M102.7 418.0h1M105.4 419.0h1M83.6 420.5h1M101.7 411.7h1M81.0 415.0h1M95.4 420.3h1M108.4 409.9h1M88.8 416.9h1M88.4 413.6h1M105.5 416.9h1M85.6 412.7h1M90.7 421.3h1M93.6 409.2h1M87.5 418.4h1M93.6 408.0h1M89.2 415.6h1M93.4 418.2h1M87.9 421.6h1M98.2 414.0h1M93.8 417.9h1M87.9 415.7h1M89.5 415.1h1M75.1 415.2h1M98.5 420.3h1M81.7 419.9h1M83.2 410.7h1M95.1 419.1h1M82.3 412.9h1M86.5 421.3h1M85.5 419.9h1M106.2 412.5h1M100.1 419.4h1M78.6 417.9h1M102.4 415.0h1M87.2 408.3h1M73.5 413.5h1M84.5 417.9h1M98.6 420.1h1M92.1 417.6h1M85.4 420.8h1M109.2 416.2h1M86.3 416.4h1M90.9 419.6h1M94.0 413.9h1M95.0 416.9h1M77.6 409.2h1M106.9 415.9h1M109.2 412.4h1M98.0 411.6h1M88.9 419.5h1M90.5 415.6h1M94.5 417.2h1M90.7 413.1h1M108.3 407.8h1M86.5 408.7h1M86.2 410.1h1M98.7 410.5h1M99.6 410.0h1M75.8 415.2h1M77.3 419.4h1M85.0 419.1h1M101.0 412.2h1M97.2 410.3h1M105.5 416.6h1M103.5 413.2h1M88.6 420.1h1M90.9 416.7h1M96.2 421.4h1M102.4 416.1h1M102.7 411.5h1M108.2 410.1h1M99.7 411.4h1M104.2 411.6h1M92.5 417.7h1M82.5 410.8h1M98.1 418.9h1M101.9 417.5h1M90.5 409.8h1M90.8 408.8h1M86.7 416.5h1M70.4 414.3h1M107.9 411.7h1M73.5 420.5h1M94.6 418.4h1M77.9 413.7h1M93.6 410.2h1M91.4 420.5h1M86.4 418.2h1M79.3 414.4h1M65.6 408.5h1M87.8 408.9h1M94.6 416.1h1M78.3 414.4h1M65.6 414.0h1M97.8 418.3h1M75.1 417.5h1M80.7 414.7h1M83.7 411.2h1M85.9 416.3h1M74.8 409.4h1M63.9 416.0h1M89.0 418.4h1M69.5 418.2h1M90.9 421.3h1M71.0 414.4h1M83.5 417.4h1M79.1 414.0h1M65.4 411.9h1M70.2 413.1h1M83.8 416.9h1M86.8 413.1h1M88.5 419.9h1M61.5 410.7h1M66.1 414.1h1M59.4 415.1h1M82.1 412.9h1M105.2 413.8h1M91.9 410.9h1M64.4 410.9h1M73.8 419.6h1M60.7 411.9h1M70.4 416.3h1M76.0 416.9h1M83.5 412.6h1M59.5 414.3h1M62.2 415.2h1M98.2 409.8h1M67.1 418.2h1M86.3 410.3h1M74.0 418.0h1M100.6 419.8h1M69.1 411.9h1M60.6 419.6h1M71.6 411.9h1M92.7 420.1h1M68.6 412.6h1M78.3 414.6h1M81.4 413.5h1M112.4 411.9h1M110.2 416.7h1M94.7 410.2h1M118.6 415.8h1M116.0 415.4h1M94.3 409.3h1M101.3 418.0h1M102.1 415.4h1M117.6 415.5h1M115.7 414.0h1M113.1 410.7h1M107.2 412.9h1M127.6 414.9h1M107.2 414.5h1M109.7 416.4h1M116.7 418.3h1M102.9 412.2h1M97.3 409.0h1M105.3 413.9h1M116.2 418.3h1M98.9 408.2h1M121.3 415.7h1M125.5 413.3h1M119.3 415.4h1M109.0 416.1h1M117.4 415.5h1M136.0 411.1h1M129.8 415.6h1" stroke="rgb(86, 182, 140)" stroke-width="1" fill="none" opacity="0.95"/>
<path d="M61.4 417.2h1M73.0 415.2h1M62.8 418.4h1M67.6 409.9h1M69.1 410.2h1M61.9 412.2h1M85.0 414.8h1M71.5 414.5h1M57.4 415.6h1M54.8 414.3h1M71.5 413.5h1M65.1 412.2h1M60.6 413.7h1M67.1 418.1h1M61.2 413.2h1M67.9 410.9h1M66.3 411.3h1M66.3 412.9h1M61.3 414.6h1M60.2 413.4h1M64.1 417.2h1M74.7 416.4h1M66.6 414.1h1M57.7 416.1h1M60.7 412.9h1M61.8 410.3h1M81.4 415.9h1M73.0 411.3h1M57.9 415.4h1M63.7 418.9h1M66.0 417.3h1M61.0 410.2h1M64.7 416.5h1M63.4 412.0h1M68.1 417.0h1M92.0 420.0h1M99.8 419.3h1M93.3 411.7h1M92.2 409.1h1M96.4 410.2h1M92.6 419.4h1M97.3 410.5h1M99.9 411.8h1M85.7 411.1h1M89.3 415.7h1M99.7 410.5h1M90.8 414.1h1M99.5 415.6h1M86.3 412.2h1M94.5 420.6h1M85.4 412.9h1M102.2 414.8h1M97.4 416.7h1M100.8 414.7h1M94.0 420.5h1M87.2 420.4h1M90.7 411.9h1M78.0 414.7h1M93.0 418.6h1M115.9 414.5h1M84.0 415.3h1M90.9 420.9h1M83.9 415.0h1M82.7 418.3h1M89.0 410.3h1M87.7 414.1h1M99.5 417.4h1M101.3 412.2h1M98.6 414.0h1M86.3 410.8h1M94.6 413.9h1M90.1 413.8h1M87.6 418.1h1M102.7 411.8h1M90.1 413.5h1M93.7 418.6h1M92.7 418.6h1M99.0 415.4h1M94.5 413.9h1M99.2 416.6h1M100.2 414.7h1M83.4 413.4h1M83.0 417.9h1M98.8 416.3h1M93.4 410.8h1M92.6 415.2h1M89.7 410.0h1M82.8 413.7h1M102.7 417.0h1M92.6 419.4h1M89.9 409.6h1M82.0 413.6h1M96.7 410.3h1M90.9 418.4h1M98.8 413.5h1M103.2 414.7h1M77.0 416.6h1M87.4 412.6h1M86.4 415.0h1M89.1 413.8h1M95.8 412.1h1M97.7 412.6h1M71.1 416.5h1M85.0 413.1h1M90.8 417.5h1M83.2 414.4h1M99.8 420.7h1M88.4 416.6h1M100.5 410.2h1M93.3 409.6h1M91.3 420.2h1M82.4 422.0h1M85.9 413.0h1M94.0 420.5h1M90.5 411.1h1M81.0 415.9h1M101.1 415.1h1M83.4 415.1h1M93.4 419.4h1M85.2 415.4h1M86.8 409.2h1M88.1 408.8h1M100.2 411.0h1M108.1 413.7h1M92.5 414.5h1M82.5 415.3h1M93.7 412.8h1M93.3 412.0h1M83.0 408.9h1M78.1 418.8h1M68.9 414.7h1M72.5 416.9h1M81.4 413.8h1M106.6 413.2h1M81.9 412.3h1M61.2 415.9h1M56.1 419.2h1M68.7 411.6h1M63.8 415.0h1M87.9 411.9h1M80.6 418.2h1M84.2 410.0h1M74.8 415.0h1M88.2 418.2h1M67.3 412.2h1M73.5 418.7h1M86.4 410.0h1M73.9 412.8h1M82.2 420.4h1M66.3 417.8h1M85.9 411.0h1M77.3 415.5h1M85.2 417.3h1M92.7 412.0h1M75.4 415.2h1M69.8 412.1h1M64.4 414.6h1M61.3 415.8h1M98.3 413.4h1M99.1 420.2h1M93.4 409.2h1M83.9 417.1h1M80.6 411.9h1M64.7 413.6h1M90.3 420.4h1M70.1 419.0h1M78.9 412.8h1M80.7 419.6h1M92.5 411.6h1M88.5 410.6h1M101.1 415.5h1M119.3 415.8h1M100.6 411.8h1M110.3 414.3h1M73.7 412.3h1M102.4 420.4h1M102.3 413.6h1M109.0 414.6h1M101.3 415.6h1M91.4 409.9h1M101.7 417.2h1M102.9 417.8h1M108.8 414.5h1M110.1 412.6h1M107.5 415.3h1M115.2 413.8h1M94.7 419.8h1M106.9 412.4h1M92.0 419.7h1M117.7 414.8h1M133.7 413.8h1" stroke="rgb(118, 193, 104)" stroke-width="1" fill="none" opacity="0.95"/>
<path d="M75.5 413.6h1M60.3 418.3h1M76.4 414.5h1M58.8 415.0h1M75.4 412.3h1M67.1 415.1h1M68.5 410.8h1M64.8 414.4h1M65.1 411.1h1M69.6 411.2h1M67.7 417.4h1M60.5 416.2h1M73.8 412.6h1M55.6 415.8h1M72.8 414.3h1M67.4 412.3h1M62.2 416.3h1M73.9 414.6h1M66.4 411.3h1M66.2 414.6h1M96.9 420.0h1M88.8 416.6h1M96.5 416.8h1M85.5 410.4h1M88.9 417.8h1M94.7 416.6h1M96.5 414.6h1M94.3 415.1h1M85.1 415.6h1M96.8 417.8h1M96.9 418.7h1M93.4 410.8h1M109.2 415.8h1M88.7 410.9h1M79.8 415.3h1M87.5 416.5h1M87.7 411.6h1M85.6 411.3h1M90.2 411.9h1M89.2 413.4h1M97.7 420.3h1M94.8 416.4h1M99.7 416.5h1M88.2 420.5h1M95.8 411.5h1M89.6 411.8h1M100.2 414.4h1M96.6 419.4h1M100.1 417.2h1M98.2 416.0h1M102.4 416.2h1M97.6 415.0h1M90.4 415.8h1M99.3 418.8h1M103.9 417.8h1M94.2 421.1h1M85.1 415.9h1M79.0 417.2h1M99.2 419.2h1M85.5 417.7h1M98.1 413.0h1M83.1 415.4h1M83.8 415.6h1M93.3 419.4h1M100.3 417.1h1M95.0 413.6h1M89.8 416.6h1M97.9 414.3h1M98.4 416.0h1M102.7 413.4h1M96.7 421.6h1M94.5 420.7h1M86.1 416.8h1M96.6 417.2h1M93.5 419.5h1M96.8 417.9h1M64.8 416.4h1M74.8 415.9h1M86.6 414.3h1M69.8 419.0h1M78.3 415.7h1M83.7 413.3h1M96.5 408.7h1M64.6 410.9h1M81.4 415.3h1M89.1 411.3h1M74.5 412.4h1M84.9 413.4h1M80.2 410.8h1M66.7 416.7h1M59.3 411.8h1M85.7 418.9h1M64.6 415.1h1M85.9 413.4h1M62.8 416.8h1M95.9 412.7h1M80.7 415.2h1M100.7 419.8h1M56.4 418.6h1M81.3 416.1h1M69.9 414.0h1M80.1 415.5h1M62.9 410.7h1M90.2 409.4h1M66.9 411.2h1M99.4 413.1h1M103.4 415.4h1M82.4 416.8h1M115.4 413.0h1M88.8 414.6h1M96.1 412.2h1M115.8 414.5h1M108.8 413.7h1" stroke="rgb(155, 200, 75)" stroke-width="1" fill="none" opacity="0.95"/>
<path d="M67.1 413.1h1M66.5 417.6h1M68.6 410.7h1M66.9 416.9h1M66.8 413.1h1M73.6 419.6h1M67.1 412.6h1M59.5 412.9h1M64.2 415.9h1M99.1 417.9h1M94.8 412.2h1M67.5 415.9h1M94.0 412.0h1M92.2 413.8h1M92.8 414.3h1M95.2 419.2h1M95.7 415.6h1M92.8 413.0h1M100.3 413.5h1M99.0 417.2h1M97.9 412.3h1M89.3 412.3h1M89.7 413.7h1M93.8 410.2h1M94.1 413.5h1M98.3 413.6h1M93.1 416.7h1M91.0 411.2h1M97.9 415.3h1M95.4 415.3h1M90.9 412.0h1M99.1 412.7h1M99.4 411.7h1M83.5 412.5h1M86.4 410.8h1M100.7 417.0h1M98.5 415.4h1M93.0 413.7h1M96.8 417.7h1M86.9 418.2h1M94.5 413.0h1M91.0 412.6h1M96.0 410.0h1M80.3 413.4h1M89.6 412.0h1M96.5 419.1h1M82.9 416.6h1M84.5 414.8h1M83.1 414.4h1M94.9 416.9h1M95.6 413.8h1M92.0 414.9h1M90.2 416.4h1M98.9 415.7h1M89.3 419.8h1M89.3 412.4h1M89.9 417.3h1M96.3 413.6h1M87.1 417.2h1M84.5 412.1h1M88.2 411.7h1M85.0 414.9h1M69.0 416.9h1M95.6 413.0h1M92.0 408.8h1M96.5 413.8h1M82.5 412.4h1M95.0 417.1h1M88.6 419.3h1M65.5 414.3h1M67.9 415.2h1M87.7 412.1h1M82.0 416.8h1M80.8 412.3h1M86.9 410.2h1M86.5 410.0h1M77.9 413.0h1M82.8 413.1h1M77.1 412.9h1M90.0 417.8h1M84.2 413.1h1M92.3 418.9h1M87.0 415.9h1M93.2 418.6h1M99.7 412.9h1M106.6 417.1h1M101.6 417.4h1M101.9 415.5h1M95.2 413.4h1" stroke="rgb(199, 200, 64)" stroke-width="1" fill="none" opacity="0.95"/>
<path d="M66.8 415.8h1M83.2 413.9h1M65.4 418.5h1M67.3 413.6h1M65.6 420.0h1M71.9 416.7h1M58.5 411.3h1M64.3 409.8h1M68.1 417.3h1M67.9 412.7h1M65.0 417.3h1M83.3 415.8h1M82.4 415.5h1M96.6 417.8h1M86.6 413.4h1M99.5 410.7h1M97.0 415.4h1M93.5 418.1h1M95.6 412.5h1M98.3 418.8h1M94.6 417.7h1M89.4 413.5h1M98.5 418.5h1M99.3 417.7h1M81.7 417.5h1M88.5 412.3h1M87.7 413.5h1M95.7 413.5h1M92.2 409.5h1M97.2 411.8h1M105.2 419.2h1M97.3 416.9h1M100.8 414.2h1M95.0 412.3h1M88.1 413.9h1M95.5 418.6h1M97.4 417.0h1M85.5 417.7h1M95.6 409.0h1M87.2 414.5h1M86.0 415.5h1M97.6 417.2h1M89.8 416.8h1M94.3 418.6h1M97.3 417.5h1M84.8 416.2h1M96.4 415.4h1M76.0 412.0h1M75.5 414.5h1M75.3 418.7h1M97.1 410.2h1M74.7 410.7h1M82.3 418.3h1M91.9 414.2h1" stroke="rgb(225, 175, 55)" stroke-width="1" fill="none" opacity="0.95"/>
<path d="M67.6 412.0h1M65.6 414.1h1M67.5 414.2h1M63.4 414.7h1M66.5 414.6h1M66.7 410.9h1M61.6 415.0h1M65.8 412.7h1M63.6 417.0h1M67.5 413.7h1M92.6 416.6h1M93.1 414.3h1M92.7 417.4h1M94.2 413.5h1M97.2 413.8h1M88.6 411.8h1M94.3 413.1h1M90.9 413.8h1M92.7 417.5h1M92.6 414.3h1M89.0 413.5h1M97.8 415.2h1M99.6 412.3h1M99.2 418.0h1M97.4 410.8h1M96.2 417.8h1M93.1 411.4h1M99.5 416.4h1M89.2 413.4h1M86.3 416.6h1M93.5 421.0h1M84.4 414.1h1M87.4 412.6h1M87.0 413.1h1M93.9 417.9h1M76.7 417.5h1M94.9 418.6h1M95.8 415.9h1M92.8 412.5h1M98.2 415.6h1M95.4 419.6h1M99.1 413.9h1M88.9 411.1h1M92.0 411.9h1M93.9 416.6h1M89.5 414.4h1M73.8 413.6h1M97.9 420.9h1M98.4 414.3h1M98.6 411.5h1M88.9 412.3h1M93.3 414.4h1M100.9 416.8h1M91.3 413.0h1M99.1 413.3h1M94.4 410.8h1M94.9 411.2h1M83.6 413.8h1M99.1 419.6h1M88.3 412.3h1M96.0 411.7h1M100.4 418.6h1M97.3 416.4h1M84.6 417.2h1M89.0 412.6h1M87.9 412.3h1M94.7 416.1h1M88.7 411.6h1M95.4 412.7h1M93.7 417.7h1M87.5 412.0h1M89.6 413.6h1M92.5 419.4h1M96.5 414.9h1M100.8 413.2h1M86.3 415.9h1M98.4 411.6h1M97.8 413.6h1M89.8 412.0h1M96.0 415.4h1M89.5 413.3h1M93.0 411.8h1M86.5 419.7h1M96.7 419.5h1M89.5 413.5h1M100.3 415.7h1M87.7 414.4h1M94.8 412.8h1M97.9 415.9h1M66.2 413.2h1M76.3 415.5h1M64.5 411.7h1M91.7 411.8h1M82.5 418.3h1M92.1 415.7h1M87.1 415.4h1M93.6 412.8h1M68.3 415.6h1M92.4 414.6h1M81.9 415.4h1M84.3 413.2h1M87.1 413.2h1M91.1 412.0h1M89.8 410.8h1M94.2 414.3h1M71.8 413.9h1M90.0 413.9h1M82.4 415.5h1M63.6 415.7h1M82.4 414.4h1M75.7 414.8h1M92.2 412.3h1M95.9 415.6h1M92.8 416.2h1M107.1 414.9h1M101.6 417.8h1M94.5 417.1h1M98.3 412.4h1M93.9 413.7h1M99.4 414.4h1" stroke="rgb(230, 121, 45)" stroke-width="1" fill="none" opacity="0.95"/>
<rect x="42.4" y="377.7" width="107.5" height="108.3" fill="none" stroke="#231f20" stroke-width="1.3"/>
<rect x="50.6" y="401.9" width="31.4" height="27" fill="none" stroke="#505050" stroke-width="0.9"/>
<rect x="83" y="401.9" width="21.4" height="27" fill="none" stroke="#505050" stroke-width="0.9"/>
<rect x="104.4" y="401.9" width="44.5" height="27" fill="none" stroke="#505050" stroke-width="0.9"/>
<rect x="50.6" y="428.9" width="31.4" height="47" fill="none" stroke="#505050" stroke-width="0.9"/>
<text x="90.8" y="372.9" font-size="7.8" fill="#231f20" stroke="#231f20" stroke-width="0.1">WT</text>
<text x="66.2" y="398" font-size="7.9" fill="#231f20" stroke="#231f20" stroke-width="0.1">29%</text>
<text x="91.2" y="398" font-size="7.9" fill="#231f20" stroke="#231f20" stroke-width="0.1">45%</text>
<text x="122" y="398" font-size="7.9" fill="#231f20" stroke="#231f20" stroke-width="0.1">19%</text>
<text x="61.3" y="471" font-size="7.9" fill="#231f20" stroke="#231f20" stroke-width="0.1">4%</text>
<text x="45" y="398" font-size="7.9" fill="#231f20" stroke="#231f20" stroke-width="0.1">P4</text>
<text x="96.2" y="440" font-size="7.9" fill="#231f20" stroke="#231f20" stroke-width="0.1">P3</text>
<text x="134.5" y="440" font-size="7.9" fill="#231f20" stroke="#231f20" stroke-width="0.1">P2</text>
<text x="87" y="467.5" font-size="7.9" fill="#231f20" stroke="#231f20" stroke-width="0.1">P5</text>
<path d="M39 388.8h3.4M39 415.5h3.4M39 443.6h3.4M39 461h3.4M39 479h3.4M40.6 407.46h1.8M40.6 402.76h1.8M40.6 399.42h1.8M40.6 396.84h1.8M40.6 394.72h1.8M40.6 392.94h1.8M40.6 391.39h1.8M40.6 390.02h1.8M40.6 435.14h1.8M40.6 430.19h1.8M40.6 426.68h1.8M40.6 423.96h1.8M40.6 421.73h1.8M40.6 419.85h1.8M40.6 418.22h1.8M40.6 416.79h1.8M40.6 445.53h1.8M40.6 447.47h1.8M40.6 449.4h1.8M40.6 451.33h1.8M40.6 453.27h1.8M40.6 455.2h1.8M40.6 457.13h1.8M40.6 459.07h1.8M40.6 464h1.8M40.6 467h1.8M40.6 470h1.8M40.6 473h1.8M40.6 476h1.8" fill="none" stroke="#231f20" stroke-width="0.8"/>
<rect x="39.4" y="458.3" width="2.6" height="4.8" fill="#333"/>
<text x="33.5" y="391.3" font-size="7.4" text-anchor="end" fill="#231f20" stroke="#231f20" stroke-width="0.1">10</text>
<text x="33.8" y="388.2" font-size="4.8" fill="#231f20" stroke="#231f20" stroke-width="0.1">5</text>
<text x="33.5" y="418" font-size="7.4" text-anchor="end" fill="#231f20" stroke="#231f20" stroke-width="0.1">10</text>
<text x="33.8" y="414.9" font-size="4.8" fill="#231f20" stroke="#231f20" stroke-width="0.1">4</text>
<text x="33.5" y="446.1" font-size="7.4" text-anchor="end" fill="#231f20" stroke="#231f20" stroke-width="0.1">10</text>
<text x="33.8" y="443" font-size="4.8" fill="#231f20" stroke="#231f20" stroke-width="0.1">3</text>
<text x="36.8" y="463.5" font-size="7.4" text-anchor="end" fill="#231f20" stroke="#231f20" stroke-width="0.1">0</text>
<text x="33.5" y="481.5" font-size="7.4" text-anchor="end" fill="#231f20" stroke="#231f20" stroke-width="0.1">-10</text>
<text x="33.8" y="478.4" font-size="4.8" fill="#231f20" stroke="#231f20" stroke-width="0.1">3</text>
<path d="M42.9 486v3.2M46.98 486v1.8M51.06 486v1.8M55.14 486v1.8M59.22 486v1.8M63.3 486v3.2M67.38 486v1.8M71.46 486v1.8M75.54 486v1.8M79.62 486v1.8M83.7 486v3.2M87.78 486v1.8M91.86 486v1.8M95.94 486v1.8M100.02 486v1.8M104.1 486v3.2M108.18 486v1.8M112.26 486v1.8M116.34 486v1.8M120.42 486v1.8M124.5 486v3.2M128.58 486v1.8M132.66 486v1.8M136.74 486v1.8M140.82 486v1.8M144.9 486v3.2" fill="none" stroke="#231f20" stroke-width="0.7"/>
<text transform="translate(46.1 494) rotate(-45)" font-size="7.9" text-anchor="end" fill="#231f20" stroke="#231f20" stroke-width="0.1" textLength="4.09" lengthAdjust="spacingAndGlyphs">0</text>
<text transform="translate(66.5 494) rotate(-45)" font-size="7.9" text-anchor="end" fill="#231f20" stroke="#231f20" stroke-width="0.1" textLength="13.07" lengthAdjust="spacingAndGlyphs">50K</text>
<text transform="translate(86.9 494) rotate(-45)" font-size="7.9" text-anchor="end" fill="#231f20" stroke="#231f20" stroke-width="0.1" textLength="17.16" lengthAdjust="spacingAndGlyphs">100K</text>
<text transform="translate(107.3 494) rotate(-45)" font-size="7.9" text-anchor="end" fill="#231f20" stroke="#231f20" stroke-width="0.1" textLength="17.16" lengthAdjust="spacingAndGlyphs">150K</text>
<text transform="translate(127.7 494) rotate(-45)" font-size="7.9" text-anchor="end" fill="#231f20" stroke="#231f20" stroke-width="0.1" textLength="17.16" lengthAdjust="spacingAndGlyphs">200K</text>
<text transform="translate(148.1 494) rotate(-45)" font-size="7.9" text-anchor="end" fill="#231f20" stroke="#231f20" stroke-width="0.1" textLength="17.16" lengthAdjust="spacingAndGlyphs">250K</text>
<path d="M215.0 408.7h1M211.7 408.0h1M189.1 417.2h1M215.0 402.9h1M192.7 423.5h1M198.0 410.7h1M207.7 406.5h1M204.6 431.5h1M186.8 421.0h1M203.8 410.9h1M224.0 411.5h1M194.0 423.5h1M192.0 422.2h1M205.2 407.5h1M219.0 407.6h1M220.9 410.3h1M209.3 408.5h1M216.2 431.0h1M196.2 411.6h1M192.1 415.1h1M190.2 418.6h1M223.1 408.0h1M191.5 424.4h1M187.9 419.2h1M207.3 408.3h1M204.8 409.1h1M191.3 415.5h1M191.6 419.7h1M202.2 432.6h1M213.1 408.8h1M207.6 428.5h1M207.8 408.5h1M198.0 425.2h1M189.1 418.2h1M218.9 428.6h1M201.3 426.0h1M197.2 425.0h1M204.8 407.9h1M235.1 408.4h1M229.8 434.3h1M248.8 433.9h1M238.4 431.9h1M235.6 408.3h1M243.9 408.1h1M240.9 436.0h1M238.5 434.6h1M247.3 430.5h1M240.2 409.6h1M240.1 435.2h1M235.0 407.3h1M246.2 409.8h1M233.9 431.7h1M257.0 429.1h1M221.7 428.8h1M226.5 409.0h1M211.1 404.7h1M245.9 407.6h1M231.1 431.8h1M244.6 434.6h1M188.7 422.6h1M186.9 415.0h1M247.0 431.4h1M208.9 431.0h1M193.2 414.8h1M215.7 408.8h1M194.0 429.8h1M221.4 433.0h1M219.7 428.1h1M225.1 428.9h1M190.8 425.2h1M226.7 430.5h1M206.6 430.4h1M224.4 407.9h1M268.9 408.2h1M246.1 408.5h1M244.3 430.5h1M266.2 430.3h1M283.2 423.3h1M253.4 407.2h1M247.9 408.2h1M272.0 435.4h1M260.0 426.9h1M272.3 426.5h1M236.3 407.9h1M265.6 429.2h1M274.1 401.2h1M260.3 408.6h1M264.2 406.5h1M249.7 408.9h1M269.9 430.4h1M271.3 411.2h1M257.0 407.5h1M288.4 422.6h1M256.0 429.1h1M289.2 433.6h1M289.2 420.4h1M277.0 428.8h1M266.0 405.1h1M287.2 425.8h1M253.9 409.6h1M282.1 425.5h1M254.9 406.4h1M285.4 420.3h1M258.0 410.1h1M267.9 407.7h1M281.0 429.2h1M287.8 418.9h1M285.4 429.1h1M283.8 406.6h1M264.6 408.5h1M278.5 422.6h1M289.0 418.4h1M288.3 416.1h1M285.3 419.9h1M276.9 406.2h1M287.4 414.7h1M278.3 407.5h1M287.3 407.7h1M271.5 407.9h1M283.1 422.3h1M267.1 411.4h1M287.1 422.3h1M285.4 412.0h1M268.5 408.2h1M265.3 408.6h1M287.9 409.1h1M283.8 410.3h1M279.0 407.3h1M273.2 409.7h1M281.3 424.8h1M282.2 404.5h1M276.4 408.2h1M286.7 407.6h1M285.3 410.6h1M280.5 405.9h1M278.7 403.2h1M280.5 423.0h1M289.7 419.0h1M284.6 405.7h1M216.3 449.8h1M190.1 445.7h1M224.5 449.3h1M204.1 452.2h1M206.6 443.5h1M211.9 463.3h1M197.9 455.8h1M197.8 444.2h1M199.4 441.0h1M198.1 445.6h1M212.2 447.7h1M192.1 436.4h1M205.9 431.0h1M208.9 440.9h1M195.2 442.9h1M207.6 440.2h1M201.5 450.0h1M187.6 438.7h1M192.2 443.7h1M195.6 438.7h1M218.7 466.7h1M211.2 446.3h1M204.3 451.0h1M199.8 436.2h1M212.3 451.3h1M197.3 434.8h1M202.1 461.3h1M200.8 453.1h1M205.5 455.6h1M203.2 432.1h1M213.1 441.9h1M190.3 452.2h1M201.7 448.4h1M209.0 444.7h1M206.3 458.6h1M197.1 435.4h1M199.4 445.8h1M216.0 448.4h1M209.0 445.6h1M200.9 463.8h1M201.3 434.3h1M203.9 451.2h1M212.8 451.3h1M203.2 474.9h1M219.1 433.2h1M211.9 449.6h1M215.2 452.1h1M206.4 446.1h1M205.4 450.9h1M205.3 463.1h1M205.1 469.4h1M189.7 450.0h1M202.5 438.3h1M195.2 457.4h1M209.8 457.4h1M212.3 431.5h1M212.2 444.3h1M216.1 455.4h1M216.5 452.0h1M196.1 442.5h1M211.0 437.6h1M204.2 438.8h1M196.2 462.4h1M211.7 446.1h1M188.4 457.5h1M198.8 445.8h1M206.4 468.4h1M203.6 440.3h1M197.3 443.7h1M192.5 439.5h1M207.8 434.2h1M202.9 445.3h1M185.7 463.9h1M204.1 440.4h1M192.9 437.4h1M214.8 448.7h1M201.8 443.0h1M209.9 436.5h1M195.5 451.6h1M202.6 443.8h1M193.0 438.1h1M216.8 454.2h1M204.5 452.3h1M206.3 442.8h1M211.7 447.8h1M188.6 443.6h1M212.4 438.3h1M205.5 433.9h1M199.7 437.2h1M194.7 451.5h1M215.4 437.4h1M210.1 453.9h1M213.0 454.2h1M214.3 433.8h1M212.7 439.9h1M198.9 431.4h1M214.6 438.1h1M205.7 446.0h1M191.5 445.7h1M206.6 433.1h1M208.2 447.3h1M216.8 449.8h1M213.3 458.6h1M195.0 428.2h1M206.7 464.3h1M221.6 443.1h1M205.3 445.1h1M208.9 431.9h1M203.4 437.4h1M215.7 431.8h1M206.2 443.6h1M218.0 435.5h1M198.6 443.4h1M231.9 430.9h1M208.7 459.3h1M202.0 461.6h1M191.8 418.3h1M198.7 426.8h1M196.2 442.4h1M210.2 459.9h1M215.2 452.7h1M209.5 450.5h1M201.9 446.1h1M215.1 437.7h1M195.6 411.0h1M204.2 438.4h1M218.2 472.0h1M215.3 443.6h1M223.2 432.4h1M194.9 464.0h1M215.5 432.8h1M211.4 439.4h1M204.3 446.2h1M203.2 434.6h1M210.2 434.8h1M201.7 439.8h1M222.1 450.2h1M216.8 446.5h1M199.6 452.0h1M199.0 433.0h1M205.8 460.0h1M207.6 461.3h1M196.1 464.3h1M212.5 432.5h1M199.6 453.0h1M204.0 442.0h1M208.9 441.6h1M201.0 448.1h1M214.2 441.4h1M203.9 439.8h1M217.2 450.9h1M207.6 437.8h1M213.0 429.8h1M196.3 439.9h1M193.3 453.4h1M213.3 453.1h1M188.4 454.6h1M200.8 461.1h1M214.6 446.1h1M210.2 440.3h1M213.3 449.4h1M213.3 452.2h1M207.0 429.1h1M206.5 435.7h1M206.9 434.2h1M191.9 445.6h1M223.7 457.3h1M190.9 439.3h1M222.0 451.7h1M200.7 438.1h1M199.0 454.1h1M194.5 463.1h1M197.0 439.6h1M199.1 438.2h1M219.3 445.2h1M198.3 466.2h1M197.7 450.0h1M212.4 429.7h1M211.7 451.3h1M211.6 436.6h1M200.5 468.6h1M214.3 452.4h1M188.3 439.9h1M192.3 453.2h1M203.6 441.0h1M190.3 454.3h1M197.5 466.2h1M207.9 464.6h1M194.4 443.6h1M200.0 429.8h1M215.4 451.1h1M203.5 439.3h1M194.0 443.7h1M204.2 439.6h1M219.6 448.3h1M203.2 438.2h1M211.6 452.6h1M195.4 443.7h1M213.5 431.3h1M193.9 443.6h1M206.6 463.9h1M200.4 449.8h1M214.6 439.0h1M223.0 441.7h1M204.0 470.0h1M201.2 445.6h1M220.7 456.5h1M200.3 453.9h1M200.1 445.5h1M195.3 417.1h1M214.7 442.6h1M206.5 444.2h1M207.4 436.1h1M188.3 441.1h1M198.0 455.8h1M200.2 450.2h1M201.2 437.9h1M201.2 433.0h1M197.2 453.4h1M197.7 446.5h1M207.2 448.9h1M217.4 446.1h1M202.6 450.8h1M200.8 449.4h1M209.2 455.7h1M213.3 447.3h1M204.1 446.2h1M197.0 460.0h1M203.5 466.8h1M193.8 436.2h1M215.5 471.2h1M218.1 465.8h1M199.2 460.0h1M214.3 429.9h1M201.5 456.2h1M204.2 457.9h1M208.6 455.7h1M198.3 456.5h1M206.4 457.8h1M207.7 457.8h1M202.3 460.9h1M207.0 458.8h1M206.8 454.3h1M202.2 457.2h1M208.3 458.0h1M204.1 457.1h1M201.7 457.0h1M209.0 458.8h1M207.3 456.6h1M207.8 457.7h1M263.7 433.1h1M287.5 433.5h1M231.5 449.9h1M235.9 434.7h1M240.5 440.8h1M242.7 431.6h1M250.9 432.3h1M259.9 438.2h1M259.6 468.2h1M227.6 434.0h1M223.2 429.4h1M274.6 435.4h1M236.3 449.7h1M258.8 446.0h1M255.1 439.1h1M263.7 433.3h1M269.5 447.3h1M248.5 442.0h1M261.6 437.1h1M237.7 448.9h1M265.0 443.1h1M263.3 432.2h1M245.7 437.1h1M232.1 445.9h1M280.4 423.9h1M232.0 436.6h1M246.2 447.7h1M250.1 442.7h1M233.5 458.2h1M235.7 438.5h1M237.0 452.0h1M238.1 431.8h1M254.3 430.1h1M223.1 438.8h1M256.7 446.2h1M263.8 440.0h1M235.7 446.2h1M268.6 444.2h1M230.3 443.6h1M206.8 440.4h1M254.8 430.3h1M250.0 439.9h1M240.9 449.3h1M257.1 434.8h1M223.4 445.3h1M274.6 429.8h1M258.8 440.6h1M218.6 428.1h1M236.0 440.8h1M259.4 447.2h1M228.0 435.9h1M260.0 455.9h1M246.2 441.6h1M237.3 451.0h1M251.7 440.8h1M234.8 438.1h1M265.5 433.0h1M253.6 445.7h1M239.6 442.1h1M231.3 443.4h1M246.7 434.8h1M267.6 428.2h1M250.7 429.8h1M256.0 431.9h1M258.7 441.3h1M224.7 445.2h1M233.6 445.9h1M258.4 434.2h1M229.8 434.8h1M267.6 455.6h1M252.5 444.6h1M239.6 446.7h1M237.1 451.8h1M274.4 447.1h1M258.8 446.0h1M244.1 440.1h1M245.1 434.7h1M224.3 439.8h1M256.1 453.4h1M239.1 445.7h1M273.9 445.0h1M265.4 428.3h1M239.5 439.5h1M265.6 431.6h1M265.4 445.1h1M281.5 428.6h1M244.2 447.7h1M257.9 438.5h1M275.0 440.5h1M268.7 430.2h1M257.1 441.2h1M233.9 442.7h1M241.0 459.0h1M249.9 434.4h1M256.1 435.0h1M260.1 440.7h1M253.3 442.5h1M248.8 457.9h1M251.6 429.2h1M223.0 437.1h1M252.1 453.3h1M235.9 440.7h1M233.6 437.7h1M258.4 435.3h1M219.7 440.0h1M260.3 437.3h1M227.4 431.1h1M213.3 445.6h1M259.7 451.1h1M252.7 440.5h1M225.8 431.0h1M252.3 427.0h1M242.5 450.2h1M216.7 433.3h1M250.4 434.3h1M218.2 441.9h1M250.7 445.9h1M263.7 437.3h1M218.8 445.7h1M238.1 436.4h1M233.8 440.7h1M264.1 434.0h1M229.0 443.7h1M229.5 444.7h1M245.0 444.8h1M223.3 445.3h1M253.5 429.6h1M240.0 433.5h1M249.3 442.4h1M262.3 429.8h1M247.4 435.6h1M221.8 438.6h1M225.2 460.9h1M270.1 434.8h1M263.5 443.4h1M243.5 445.1h1M267.9 434.3h1M232.1 447.0h1M245.5 445.5h1M264.2 440.8h1M263.3 429.2h1M260.7 455.5h1M233.4 448.0h1M245.8 440.0h1M283.2 452.0h1M223.5 433.6h1M258.0 434.6h1M261.4 429.8h1M237.7 459.1h1M255.1 434.6h1M236.9 449.2h1M252.1 437.3h1M280.6 423.5h1M250.6 440.2h1M261.3 442.1h1M256.3 438.5h1M263.7 442.3h1M258.9 429.3h1M288.1 477.9h1M257.6 471.8h1M220.3 408.1h1M213.6 476.2h1M195.8 441.9h1M219.0 442.7h1M248.0 472.7h1M261.4 439.8h1M277.7 467.3h1M217.9 443.4h1M276.5 454.6h1M234.8 475.4h1M289.9 442.4h1M252.0 483.6h1M225.4 464.6h1M209.8 474.8h1M200.1 436.0h1M194.1 406.4h1M271.1 464.3h1M191.8 462.4h1M208.4 475.7h1M187.1 431.1h1M286.2 413.4h1M280.0 408.6h1M283.6 403.1h1M286.4 452.1h1M229.7 481.0h1M220.6 451.1h1M237.3 449.0h1M262.2 429.4h1M244.2 477.4h1M285.2 479.6h1M234.1 476.1h1M246.0 477.1h1M228.9 436.3h1M207.6 449.0h1M266.1 445.4h1M256.8 459.8h1M194.7 452.3h1M257.5 443.7h1M286.3 477.8h1M203.1 402.7h1M255.8 449.7h1M278.4 431.7h1M268.8 446.3h1M216.2 454.8h1M254.2 460.2h1M189.5 482.4h1M267.8 433.7h1M260.5 466.6h1M235.7 449.0h1M201.7 457.1h1M202.3 449.7h1M194.6 461.4h1M249.8 405.6h1M185.5 455.7h1M285.5 465.6h1M208.0 455.3h1M209.3 483.2h1M267.3 456.4h1M265.6 452.5h1M232.1 402.5h1M206.4 453.4h1M198.5 413.8h1M217.8 459.3h1M286.7 409.0h1" stroke="rgb(146, 146, 214)" stroke-width="1" fill="none" opacity="0.75"/>
<path d="M197.3 420.7h1M205.1 425.1h1M201.0 426.1h1M200.2 413.6h1M221.2 410.3h1M197.1 414.9h1M196.2 415.7h1M200.3 426.1h1M203.9 413.0h1M193.6 424.1h1M213.4 428.2h1M212.5 429.7h1M200.6 421.7h1M217.1 423.9h1M201.9 413.3h1M200.9 422.7h1M196.7 416.6h1M209.3 409.8h1M219.1 411.4h1M208.6 427.0h1M202.2 425.3h1M212.4 412.3h1M207.3 414.5h1M219.9 411.3h1M219.1 428.8h1M200.4 426.4h1M213.8 411.9h1M199.1 425.2h1M196.7 418.9h1M196.9 420.7h1M196.2 412.9h1M216.5 411.5h1M199.1 425.4h1M197.9 415.1h1M195.8 417.9h1M195.3 413.9h1M201.0 413.8h1M199.0 413.0h1M196.3 422.2h1M222.2 411.9h1M197.7 416.1h1M195.2 422.8h1M212.8 409.8h1M207.3 411.6h1M209.7 428.6h1M195.8 413.6h1M204.9 411.2h1M214.3 426.3h1M203.1 427.5h1M199.3 411.9h1M212.5 411.3h1M213.0 414.4h1M209.5 410.2h1M217.8 414.9h1M221.0 414.1h1M204.5 426.2h1M207.2 425.3h1M216.7 410.3h1M212.5 412.7h1M220.5 428.2h1M197.3 418.2h1M195.1 423.9h1M247.5 432.8h1M238.0 429.9h1M230.5 412.3h1M240.0 430.3h1M245.7 429.5h1M233.1 411.5h1M243.1 409.5h1M218.6 427.3h1M214.6 429.1h1M247.1 411.3h1M259.2 429.3h1M240.6 429.7h1M241.9 429.5h1M228.8 427.1h1M220.8 427.9h1M238.1 411.9h1M239.2 412.1h1M230.1 409.9h1M231.9 430.0h1M237.1 411.2h1M257.1 424.0h1M234.5 429.1h1M230.9 409.8h1M236.3 412.0h1M250.6 426.1h1M231.9 410.6h1M230.4 430.7h1M217.5 427.6h1M251.5 412.0h1M228.2 429.0h1M238.5 411.5h1M238.6 428.7h1M248.6 429.5h1M243.2 429.4h1M232.2 410.3h1M227.2 410.7h1M255.5 425.7h1M247.4 429.3h1M249.6 429.8h1M223.9 428.4h1M193.7 419.4h1M224.4 410.1h1M230.8 428.1h1M229.5 428.0h1M219.7 430.7h1M242.2 410.5h1M220.4 410.5h1M221.0 408.4h1M209.8 412.3h1M235.3 408.0h1M195.5 421.7h1M219.7 410.1h1M213.8 411.2h1M255.4 408.8h1M252.2 428.1h1M217.8 410.4h1M203.3 423.7h1M232.2 410.5h1M214.5 427.5h1M200.9 427.6h1M194.8 423.8h1M207.5 432.2h1M199.3 412.6h1M248.9 430.3h1M196.0 426.3h1M213.9 429.1h1M235.4 411.5h1M229.1 409.3h1M213.5 426.2h1M222.0 413.1h1M220.2 426.9h1M194.7 425.7h1M252.0 411.2h1M250.2 428.6h1M239.3 431.6h1M209.9 428.9h1M198.1 414.5h1M225.2 412.0h1M239.4 412.3h1M250.7 411.4h1M288.6 416.1h1M260.3 413.7h1M267.9 409.5h1M254.6 426.0h1M257.4 426.1h1M269.9 422.8h1M257.8 424.0h1M245.1 429.8h1M261.7 409.9h1M264.5 410.6h1M263.9 424.4h1M279.5 412.5h1M259.0 427.4h1M273.6 425.3h1M250.3 411.3h1M283.5 421.1h1M283.2 412.6h1M255.1 410.7h1M269.1 410.5h1M268.0 411.4h1M265.2 424.2h1M272.7 424.3h1M277.2 423.2h1M254.3 412.7h1M264.6 410.8h1M257.4 424.9h1M276.9 422.0h1M276.3 414.1h1M282.6 420.0h1M241.4 410.9h1M262.8 424.0h1M256.7 424.1h1M263.5 426.2h1M262.6 428.6h1M242.6 410.3h1M243.2 411.3h1M261.8 424.6h1M272.1 423.0h1M268.2 412.0h1M261.2 411.1h1M275.6 424.1h1M272.3 421.8h1M245.6 431.0h1M279.8 423.4h1M270.0 409.8h1M283.4 416.2h1M256.8 410.9h1M258.3 410.5h1M275.3 423.0h1M263.0 412.0h1M262.6 424.0h1M268.1 424.2h1M268.1 410.7h1M257.6 417.3h1M276.0 423.1h1M279.4 420.8h1M277.5 421.2h1M238.2 410.7h1M277.8 409.1h1M255.1 426.9h1M261.9 413.6h1M260.2 410.3h1M269.8 425.5h1M260.5 408.8h1M259.3 413.5h1M277.6 424.2h1M264.2 426.9h1M269.7 425.7h1M274.8 410.4h1M255.4 426.9h1M279.4 417.8h1M281.1 410.6h1M262.9 426.1h1M264.5 411.1h1M271.9 410.6h1M256.0 413.0h1M286.9 413.3h1M273.5 424.4h1M272.0 423.5h1M279.1 420.2h1M279.1 408.6h1M282.1 408.9h1M280.4 413.3h1M277.8 410.4h1M279.5 406.8h1M286.9 415.0h1M277.7 409.6h1M283.6 409.3h1M285.3 413.1h1M285.7 414.3h1M275.6 421.9h1M281.4 408.7h1M276.5 417.9h1M275.6 420.3h1M280.9 417.4h1M268.2 414.4h1M281.8 419.2h1M273.1 411.5h1M280.7 411.0h1M273.0 413.3h1M282.5 420.4h1M280.4 417.0h1M282.1 412.2h1M277.7 411.2h1M281.4 411.1h1M276.9 413.3h1M281.9 409.1h1M276.7 414.5h1M282.2 419.5h1M273.8 409.5h1M284.1 412.3h1M276.8 408.0h1M284.1 419.1h1M277.2 409.1h1M286.9 417.5h1M281.3 417.7h1M280.8 413.6h1M283.7 413.9h1M279.5 408.7h1M280.4 409.5h1M282.9 411.2h1M287.9 415.9h1M276.3 411.1h1M280.9 408.3h1M284.9 417.9h1M283.8 417.1h1M285.9 414.7h1M276.9 410.3h1M273.8 411.2h1M282.5 409.5h1M220.3 426.5h1M200.0 457.1h1M201.2 444.8h1M201.2 444.1h1M204.7 444.0h1M205.6 455.3h1M202.4 449.4h1M213.9 448.8h1M211.2 453.2h1M206.9 444.1h1M205.0 441.9h1M201.4 451.5h1M197.7 422.0h1M199.7 455.7h1M207.7 443.6h1M203.3 426.3h1M202.3 441.0h1M201.7 456.3h1M201.0 454.4h1M203.9 456.3h1M207.1 456.1h1M203.1 455.6h1M207.5 457.2h1M209.3 455.8h1M201.1 454.6h1M200.9 457.6h1M198.9 455.9h1M204.7 453.8h1M201.5 456.3h1M204.4 456.4h1M204.1 456.3h1M201.7 455.6h1M201.8 456.1h1M205.4 457.6h1M202.9 456.2h1M201.9 455.9h1M201.4 455.1h1M199.0 455.6h1M201.4 458.1h1M242.8 428.7h1M232.4 429.7h1M228.4 427.6h1M247.9 426.3h1M266.9 424.7h1M214.1 425.2h1M213.9 425.9h1M205.9 455.9h1" stroke="rgb(118, 118, 203)" stroke-width="1" fill="none" opacity="0.75"/>
<path d="M208.3 427.3h1M215.0 425.9h1M204.5 415.5h1M203.1 422.9h1M196.7 420.1h1M199.1 421.8h1M206.5 416.8h1M206.8 411.0h1M199.6 422.3h1M199.0 413.8h1M213.4 414.3h1M199.2 417.3h1M207.3 423.8h1M213.8 425.9h1M210.7 427.0h1M205.6 425.2h1M209.0 423.5h1M213.1 412.1h1M207.1 415.2h1M204.6 419.2h1M207.0 424.0h1M198.9 418.3h1M213.1 426.9h1M215.3 414.4h1M200.3 414.1h1M207.9 412.1h1M204.3 425.4h1M206.8 414.3h1M222.1 414.6h1M198.5 423.4h1M201.6 420.3h1M209.1 414.7h1M207.0 413.1h1M208.5 422.0h1M225.4 412.6h1M220.5 423.6h1M202.7 413.9h1M228.0 424.6h1M202.4 418.9h1M214.6 414.0h1M204.1 412.2h1M197.2 417.5h1M207.6 410.8h1M226.4 413.4h1M196.7 417.0h1M199.2 423.1h1M203.6 425.4h1M202.0 422.6h1M204.4 414.2h1M221.5 422.4h1M203.3 414.0h1M215.3 412.9h1M220.9 422.8h1M206.9 415.5h1M204.6 413.3h1M205.5 422.0h1M197.8 419.3h1M207.6 426.5h1M215.0 425.5h1M210.4 413.0h1M204.6 425.8h1M201.3 422.8h1M204.0 426.1h1M208.9 411.7h1M209.8 412.1h1M206.2 413.9h1M214.1 424.8h1M200.2 421.3h1M205.0 413.7h1M205.6 425.5h1M207.7 412.5h1M218.7 419.6h1M200.4 421.9h1M244.1 411.9h1M261.2 424.5h1M253.6 424.9h1M238.9 412.9h1M247.2 424.9h1M246.5 427.6h1M245.6 412.6h1M254.9 411.6h1M245.5 427.6h1M248.7 426.9h1M224.4 425.8h1M246.0 426.3h1M247.4 416.6h1M245.2 412.2h1M235.2 429.1h1M246.0 427.1h1M227.9 427.6h1M227.6 426.5h1M261.5 416.8h1M253.7 422.9h1M235.4 413.5h1M227.2 412.7h1M242.7 411.2h1M239.9 414.4h1M227.6 426.5h1M256.5 421.1h1M225.6 412.1h1M237.4 430.0h1M246.7 423.7h1M253.3 413.5h1M231.5 428.2h1M256.8 424.2h1M224.5 426.3h1M220.8 425.7h1M250.9 429.1h1M251.1 425.3h1M231.6 426.5h1M242.3 414.4h1M249.8 429.4h1M241.2 430.6h1M243.7 413.6h1M199.4 416.4h1M234.3 411.8h1M220.1 415.1h1M256.7 411.8h1M211.0 413.1h1M249.6 427.8h1M214.6 421.8h1M249.6 415.5h1M198.2 420.0h1M198.1 417.0h1M215.8 423.0h1M246.9 412.0h1M228.1 427.5h1M232.3 428.5h1M200.1 415.2h1M218.6 412.3h1M206.8 427.4h1M207.1 425.1h1M221.7 424.0h1M216.2 425.8h1M235.2 411.4h1M214.7 411.7h1M210.2 425.0h1M208.3 427.7h1M215.6 426.6h1M253.7 414.4h1M250.2 429.6h1M225.4 425.2h1M226.0 413.7h1M203.0 425.5h1M204.2 417.9h1M222.4 426.1h1M227.4 410.9h1M198.6 422.7h1M264.2 422.5h1M271.6 421.4h1M281.2 414.1h1M238.9 414.7h1M250.8 414.0h1M255.9 418.8h1M261.0 416.9h1M265.7 412.4h1M257.3 421.5h1M258.9 415.6h1M249.9 414.5h1M251.9 426.8h1M252.8 411.0h1M253.0 416.3h1M246.8 414.6h1M269.1 414.0h1M275.9 415.3h1M263.9 421.4h1M269.9 416.2h1M256.7 423.4h1M254.8 424.9h1M271.0 421.1h1M259.0 414.4h1M260.5 416.3h1M270.8 419.8h1M272.0 409.8h1M264.6 416.5h1M270.0 418.6h1M258.0 424.7h1M286.1 418.1h1M257.4 412.7h1M267.4 412.0h1M254.8 413.7h1M250.4 412.8h1M254.4 425.5h1M259.5 413.5h1M257.9 419.0h1M264.6 412.6h1M248.4 415.6h1M284.4 417.4h1M261.1 414.9h1M267.8 424.2h1M264.9 416.1h1M273.6 419.2h1M260.3 411.2h1M272.6 420.1h1M276.6 413.5h1M254.5 421.3h1M262.5 412.7h1M254.7 417.0h1M281.2 418.5h1M277.0 420.5h1M268.5 421.0h1M261.9 414.9h1M272.5 418.5h1M253.1 415.3h1M275.4 417.9h1M265.3 411.7h1M267.6 421.9h1M268.7 422.6h1M270.0 420.2h1M261.9 425.4h1M279.2 420.4h1M270.7 417.8h1M259.2 423.0h1M268.2 417.5h1M254.4 413.7h1M245.1 411.6h1M245.7 413.1h1M271.7 414.5h1M261.8 412.9h1M284.4 415.7h1M276.5 415.2h1M262.7 414.6h1M284.8 415.2h1M270.0 424.2h1M269.4 414.5h1M274.2 411.6h1M261.0 411.7h1M276.0 413.3h1M257.6 424.5h1M260.7 421.4h1M259.5 416.0h1M260.4 422.2h1M262.9 411.1h1M236.6 414.0h1M249.0 414.1h1M260.8 418.5h1M253.2 415.7h1M265.2 413.6h1M262.0 419.0h1M274.6 417.7h1M262.7 413.6h1M268.2 419.5h1M253.6 410.7h1M277.8 418.7h1M253.8 412.8h1M255.4 413.3h1M262.0 416.5h1M266.6 417.0h1M253.7 421.8h1M258.7 418.3h1M257.2 415.8h1M258.2 415.9h1M265.4 422.3h1M270.3 412.9h1M274.2 419.6h1M252.6 412.3h1M252.0 424.8h1M265.9 413.4h1M274.7 415.2h1M260.8 411.7h1M278.4 416.6h1M272.3 415.9h1M278.8 408.9h1M280.3 411.7h1M283.1 415.3h1M272.7 413.0h1M273.1 417.1h1M284.4 413.8h1M280.8 413.4h1M281.4 416.5h1M265.1 413.2h1M275.0 412.5h1M284.0 415.3h1M278.2 417.9h1M277.6 413.1h1M270.6 412.4h1M278.5 420.8h1M273.8 414.5h1M280.0 411.2h1M273.5 413.6h1M276.7 417.4h1M279.3 416.7h1M273.3 414.7h1M279.6 418.0h1M279.2 418.4h1M271.5 421.7h1M282.9 413.6h1M285.5 415.9h1M277.3 414.1h1M279.2 415.8h1M278.8 418.2h1M280.5 416.8h1M270.7 415.3h1M278.8 412.0h1M273.2 418.2h1M282.0 415.7h1M282.8 411.0h1M283.3 419.9h1M275.4 413.3h1M284.1 414.7h1M279.6 415.6h1M265.9 415.7h1M214.7 424.2h1M210.9 424.9h1M208.5 424.3h1M200.4 452.9h1M204.5 417.3h1M200.6 457.7h1M200.9 457.6h1M267.7 420.5h1M246.8 427.5h1" stroke="rgb(91, 96, 190)" stroke-width="1" fill="none" opacity="0.75"/>
<path d="M204.5 421.8h1M200.5 417.0h1M200.3 415.2h1M209.2 421.7h1M201.9 422.5h1M213.8 424.0h1M200.1 420.2h1M200.6 417.9h1M201.5 418.7h1M216.6 420.5h1M215.1 423.6h1M205.6 424.3h1M218.0 416.6h1M202.4 418.4h1M204.5 415.1h1M202.2 421.1h1M215.8 415.5h1M206.4 422.7h1M219.8 413.8h1M210.1 424.8h1M207.7 416.3h1M197.9 416.0h1M219.0 422.3h1M203.0 421.1h1M198.0 415.9h1M202.4 419.1h1M206.5 416.5h1M205.5 422.7h1M202.0 415.8h1M203.4 419.2h1M216.8 416.2h1M211.6 424.0h1M199.1 422.4h1M199.3 417.1h1M198.3 417.4h1M218.7 414.5h1M211.2 412.3h1M214.5 421.7h1M218.6 420.1h1M204.7 419.1h1M200.9 418.2h1M215.4 423.5h1M203.6 422.7h1M202.4 414.9h1M200.0 417.9h1M204.0 420.2h1M210.2 415.4h1M206.8 420.5h1M215.6 422.3h1M221.6 421.5h1M208.7 414.2h1M217.4 421.1h1M217.5 420.8h1M207.8 413.8h1M208.1 425.4h1M207.0 423.0h1M205.5 414.1h1M221.4 416.8h1M250.9 425.4h1M228.5 413.8h1M222.2 422.2h1M227.7 427.5h1M245.6 415.2h1M242.6 424.8h1M231.7 415.8h1M244.0 424.8h1M237.3 416.5h1M231.6 413.1h1M226.2 412.3h1M250.2 424.5h1M222.1 422.1h1M237.5 429.3h1M224.7 426.6h1M246.7 424.8h1M222.7 424.9h1M233.7 428.5h1M242.7 428.6h1M223.3 419.3h1M227.3 414.7h1M231.6 427.0h1M242.1 413.5h1M263.8 424.2h1M241.7 427.2h1M241.0 426.3h1M253.7 414.2h1M232.6 414.5h1M242.1 414.7h1M262.7 420.6h1M235.3 413.8h1M241.6 426.0h1M262.8 420.6h1M244.4 420.7h1M250.1 416.8h1M246.4 423.9h1M250.9 425.1h1M240.4 412.8h1M224.8 426.6h1M255.3 415.5h1M244.9 426.6h1M257.5 419.2h1M245.3 421.0h1M229.0 414.3h1M234.9 414.5h1M225.1 423.6h1M247.1 427.5h1M229.6 413.5h1M239.2 428.1h1M245.1 425.8h1M230.5 426.8h1M219.7 421.9h1M249.1 414.9h1M245.6 412.5h1M239.9 428.7h1M230.3 413.3h1M239.5 413.4h1M242.0 414.8h1M226.0 413.1h1M249.2 425.6h1M218.5 421.4h1M242.0 414.7h1M232.3 413.1h1M254.8 424.8h1M237.3 414.1h1M246.1 427.4h1M218.6 411.1h1M243.2 412.8h1M264.2 421.3h1M210.1 424.3h1M230.3 424.0h1M197.8 417.0h1M218.8 413.6h1M208.5 422.7h1M197.6 420.3h1M219.7 414.8h1M212.1 411.8h1M219.4 421.1h1M205.0 419.7h1M236.7 426.8h1M236.2 412.4h1M222.7 418.2h1M215.6 423.5h1M211.0 425.1h1M231.6 413.1h1M230.9 427.8h1M231.4 426.7h1M224.1 424.0h1M226.9 424.4h1M257.7 421.4h1M224.0 416.9h1M231.1 412.0h1M219.8 423.8h1M220.5 423.1h1M221.0 414.2h1M199.8 417.0h1M200.1 423.5h1M221.8 424.0h1M226.5 424.7h1M223.0 424.5h1M227.6 415.7h1M226.4 412.3h1M254.4 418.8h1M236.8 413.5h1M212.7 420.6h1M216.2 421.9h1M233.7 414.4h1M200.7 416.0h1M232.1 413.0h1M218.8 418.7h1M202.1 418.3h1M217.3 423.5h1M223.6 414.3h1M217.4 420.0h1M204.0 424.5h1M206.3 414.3h1M201.2 419.3h1M251.9 419.3h1M267.5 415.1h1M270.1 416.6h1M252.1 418.3h1M259.1 412.9h1M252.3 418.4h1M273.6 420.1h1M260.6 415.9h1M256.0 422.0h1M264.8 414.1h1M264.0 415.6h1M253.4 422.2h1M254.6 415.1h1M281.5 417.4h1M269.7 415.8h1M250.5 422.5h1M247.9 421.9h1M263.6 421.1h1M275.3 412.7h1M268.2 420.7h1M269.3 419.7h1M261.9 422.5h1M270.6 418.9h1M262.2 423.2h1M283.1 415.3h1M258.8 421.9h1M274.9 412.8h1M276.0 413.6h1M274.5 420.2h1M254.0 420.5h1M261.8 422.5h1M279.6 415.9h1M266.1 414.4h1M270.3 420.3h1M282.7 415.8h1M260.4 422.9h1M279.2 417.4h1M258.7 417.2h1M272.4 416.8h1M267.6 415.6h1M250.7 413.5h1M271.9 418.4h1M265.8 412.7h1M253.3 412.0h1M268.4 415.8h1M261.6 419.1h1M272.1 419.2h1M268.4 418.7h1M262.0 420.0h1M271.0 416.6h1M277.6 420.6h1M257.4 422.6h1M271.2 415.5h1M259.1 421.0h1M260.6 417.2h1M256.9 414.5h1M252.3 417.3h1M255.2 425.3h1M248.4 422.2h1M265.8 418.5h1M273.0 415.3h1M256.8 419.6h1M259.8 420.4h1M278.7 417.1h1M255.4 414.6h1M277.8 414.8h1M273.9 414.0h1M257.6 413.0h1M256.9 419.2h1M269.3 414.7h1M254.1 424.7h1M255.8 414.4h1M266.2 412.9h1M267.7 417.3h1M266.2 420.3h1M267.6 415.9h1M265.4 422.8h1M265.5 418.7h1M281.5 418.1h1M254.3 423.8h1M250.7 423.5h1M261.3 417.5h1M248.5 417.0h1M257.7 420.4h1M266.2 421.9h1M263.1 421.4h1M254.5 422.4h1M256.6 420.1h1M263.8 424.9h1M255.8 415.8h1M269.1 416.6h1M257.6 416.1h1M280.0 419.5h1M268.6 415.5h1M275.2 411.7h1M276.4 417.0h1M262.3 422.0h1M283.3 414.8h1M263.3 413.9h1M283.7 417.1h1M260.6 422.7h1M264.1 422.9h1M271.6 420.0h1M259.9 415.6h1M250.7 413.5h1M268.4 422.4h1M272.1 418.9h1M262.5 415.1h1M279.0 415.0h1M275.4 414.6h1M273.2 414.1h1M276.1 421.3h1M277.6 416.2h1M277.1 413.8h1M271.2 414.0h1M273.5 414.7h1M280.3 415.8h1M274.8 413.2h1M280.1 415.0h1M274.2 413.5h1M276.8 414.3h1M278.9 409.0h1M267.3 417.3h1M280.6 414.4h1M232.3 426.6h1M249.9 422.0h1M233.2 419.1h1" stroke="rgb(71, 102, 185)" stroke-width="1" fill="none" opacity="0.75"/>
<path d="M217.7 416.1h1M207.1 418.3h1M213.7 420.2h1M203.8 417.9h1M211.9 418.5h1M207.1 423.2h1M208.2 425.2h1M207.9 413.4h1M209.8 417.0h1M205.2 416.8h1M212.2 413.8h1M209.1 420.1h1M215.3 415.3h1M211.6 421.9h1M214.0 414.5h1M205.1 418.4h1M206.2 416.6h1M214.5 423.2h1M221.0 420.7h1M205.3 417.9h1M217.6 416.0h1M208.5 419.8h1M218.5 418.6h1M209.0 418.8h1M220.1 418.8h1M204.3 420.2h1M212.6 422.0h1M222.6 419.2h1M205.8 423.0h1M214.9 417.7h1M217.2 415.1h1M216.4 419.9h1M206.8 424.5h1M217.3 413.7h1M223.3 417.3h1M220.5 420.2h1M217.1 414.0h1M205.9 419.8h1M212.7 423.5h1M213.0 416.9h1M210.2 421.2h1M224.0 415.5h1M225.7 413.5h1M213.4 421.9h1M203.4 421.1h1M211.6 422.8h1M211.8 423.1h1M207.7 417.1h1M220.8 418.3h1M209.4 416.6h1M208.6 421.5h1M210.3 415.6h1M217.4 420.1h1M207.9 414.8h1M207.5 420.1h1M209.6 415.0h1M214.4 413.7h1M204.2 416.6h1M215.5 413.8h1M202.7 416.7h1M222.5 420.7h1M203.5 415.9h1M205.2 419.1h1M206.7 424.1h1M205.3 421.6h1M224.6 415.8h1M215.9 422.8h1M205.8 422.0h1M213.9 418.3h1M223.0 416.2h1M213.0 418.3h1M209.0 417.9h1M214.3 422.6h1M208.9 418.9h1M222.6 421.9h1M248.7 415.6h1M238.5 425.1h1M251.4 423.7h1M248.3 424.5h1M256.7 419.3h1M250.6 415.6h1M233.1 413.1h1M225.0 415.9h1M223.0 424.8h1M235.7 422.9h1M251.1 423.0h1M234.6 426.1h1M226.2 415.6h1M246.5 414.2h1M235.5 417.6h1M231.8 416.3h1M224.0 422.9h1M230.3 413.3h1M224.2 414.8h1M251.4 421.8h1M242.7 424.3h1M231.2 415.1h1M225.9 413.7h1M224.3 424.4h1M238.0 414.6h1M234.4 427.4h1M252.8 418.3h1M233.7 427.2h1M237.2 427.5h1M244.6 425.2h1M230.1 413.3h1M253.8 418.8h1M234.6 414.7h1M246.6 423.1h1M231.0 418.5h1M231.6 426.4h1M243.4 424.2h1M246.4 424.0h1M244.8 415.4h1M226.0 426.6h1M228.6 425.0h1M241.8 426.5h1M237.5 426.2h1M243.5 419.6h1M242.5 426.8h1M244.1 413.4h1M215.5 412.8h1M237.3 414.5h1M227.5 414.8h1M256.3 422.7h1M225.2 424.2h1M232.8 425.0h1M223.5 413.0h1M236.2 417.0h1M232.9 426.2h1M250.7 425.0h1M244.8 415.3h1M253.5 418.0h1M222.6 423.5h1M235.8 415.8h1M231.6 424.1h1M238.4 424.9h1M236.7 415.6h1M242.5 422.8h1M238.4 427.0h1M237.7 428.6h1M201.8 417.8h1M223.5 419.2h1M234.9 413.5h1M211.6 422.7h1M221.8 424.7h1M245.9 424.9h1M231.7 417.3h1M206.6 417.9h1M215.3 416.3h1M225.0 426.3h1M222.7 423.1h1M204.1 422.4h1M203.8 417.9h1M243.8 428.6h1M234.3 415.3h1M234.4 417.2h1M237.5 426.8h1M235.7 415.5h1M238.6 427.4h1M241.8 412.8h1M208.0 422.3h1M247.4 423.9h1M222.1 422.6h1M225.9 415.9h1M211.1 421.1h1M244.6 414.3h1M223.4 414.7h1M214.2 424.0h1M249.4 419.6h1M205.8 417.4h1M216.1 415.1h1M231.4 413.1h1M222.1 421.6h1M221.0 421.2h1M220.9 414.2h1M227.8 411.8h1M233.3 416.4h1M248.9 418.3h1M226.5 414.8h1M215.8 419.8h1M205.7 423.0h1M227.1 423.2h1M235.7 427.6h1M202.8 417.0h1M226.7 415.2h1M223.6 425.1h1M211.0 422.8h1M207.2 413.8h1M240.4 416.4h1M263.5 419.3h1M214.9 418.8h1M222.7 413.7h1M220.1 419.3h1M252.3 412.9h1M269.3 417.2h1M254.2 415.9h1M266.4 420.9h1M264.8 418.8h1M267.2 418.4h1M267.5 412.8h1M264.6 420.5h1M249.0 417.2h1M270.2 421.7h1M254.5 420.1h1M267.5 417.0h1M262.0 420.5h1M265.6 415.3h1M256.5 417.4h1M250.5 419.5h1M272.3 416.4h1M243.8 415.0h1M266.8 416.1h1M265.9 421.5h1M262.0 416.6h1M263.2 413.8h1M263.0 413.8h1M250.7 422.0h1M270.8 420.0h1M263.7 422.2h1M264.1 418.0h1M254.4 422.1h1M264.9 414.1h1M272.0 414.0h1M261.6 422.3h1M268.4 422.3h1M254.0 412.9h1M269.7 421.1h1M240.7 419.7h1M250.8 420.0h1M253.6 414.3h1M260.1 420.8h1M261.5 417.5h1M258.9 419.8h1M250.1 415.7h1M255.2 418.9h1M269.0 414.4h1M268.5 419.9h1M261.3 415.0h1M267.0 421.1h1M255.5 421.5h1M275.4 415.6h1M273.7 418.6h1M264.1 421.1h1M264.8 416.4h1M265.7 421.0h1M261.4 420.2h1M282.2 415.9h1M266.4 418.6h1M267.8 418.4h1M263.5 419.5h1M272.3 419.0h1M261.0 417.2h1M241.2 426.1h1M253.2 424.1h1M248.7 424.9h1M253.7 421.7h1M256.6 414.5h1M255.1 420.2h1M252.9 415.7h1M270.9 419.0h1M249.6 417.8h1M265.7 420.0h1M266.7 418.0h1M264.9 421.4h1M264.0 420.9h1M265.6 415.2h1M268.3 418.1h1M264.3 420.9h1M250.5 424.1h1M259.0 416.8h1M272.0 414.3h1M253.2 416.7h1M243.5 411.8h1M258.8 421.9h1M257.2 419.8h1M262.2 419.1h1M266.2 420.1h1M267.5 414.7h1M264.1 419.2h1M252.1 421.0h1M254.1 423.9h1M275.2 414.3h1M271.4 416.5h1M269.4 418.2h1M270.3 420.3h1M273.3 417.3h1M274.8 414.5h1M273.0 414.8h1M213.5 419.0h1M205.4 420.2h1M207.8 419.2h1M225.2 420.5h1" stroke="rgb(58, 136, 189)" stroke-width="1" fill="none" opacity="0.95"/>
<path d="M216.4 418.4h1M207.2 420.2h1M223.9 418.9h1M217.4 416.6h1M213.4 420.4h1M207.0 416.3h1M208.4 419.0h1M203.4 416.5h1M211.8 417.4h1M213.3 420.7h1M218.3 421.2h1M216.8 417.7h1M209.1 422.5h1M209.8 420.9h1M211.5 421.3h1M212.1 419.0h1M212.5 416.7h1M219.6 417.5h1M214.6 420.3h1M209.7 420.9h1M211.8 416.0h1M204.8 416.3h1M201.3 416.2h1M225.9 413.4h1M213.4 419.3h1M212.9 415.2h1M206.5 414.3h1M206.3 420.0h1M214.7 418.0h1M210.3 423.2h1M207.4 416.6h1M215.6 422.7h1M205.7 420.2h1M222.2 416.5h1M209.1 417.8h1M230.2 422.2h1M204.9 414.8h1M203.0 417.7h1M208.7 415.0h1M222.6 420.2h1M214.1 421.4h1M217.0 415.1h1M222.6 416.2h1M204.0 420.6h1M210.9 416.4h1M221.1 415.7h1M211.2 424.0h1M214.8 418.9h1M214.4 414.0h1M218.8 416.8h1M200.9 416.6h1M254.0 422.1h1M244.6 417.4h1M243.8 427.1h1M214.5 416.7h1M231.8 415.3h1M264.1 416.5h1M218.8 417.8h1M239.0 417.6h1M234.3 417.2h1M249.9 418.7h1M236.3 417.1h1M229.1 427.6h1M249.9 426.1h1M234.3 426.9h1M240.9 413.8h1M220.9 417.6h1M232.9 421.0h1M224.9 415.9h1M247.0 418.1h1M222.8 416.6h1M222.0 422.6h1M222.9 422.3h1M249.2 420.3h1M233.0 416.6h1M243.0 415.9h1M246.9 419.8h1M234.4 425.2h1M233.1 417.5h1M249.5 421.8h1M228.9 414.3h1M239.7 417.8h1M250.3 423.8h1M244.4 420.5h1M245.3 421.9h1M251.3 414.0h1M243.8 422.0h1M236.5 414.0h1M260.4 417.5h1M238.7 415.1h1M228.5 417.9h1M248.0 422.8h1M248.9 423.7h1M252.7 422.9h1M241.7 414.7h1M253.8 415.1h1M223.8 423.3h1M229.8 425.0h1M240.7 413.9h1M225.8 415.1h1M233.4 426.7h1M243.6 423.0h1M247.8 417.8h1M228.4 421.1h1M241.9 420.1h1M229.3 423.8h1M236.7 413.9h1M229.7 417.9h1M236.8 426.9h1M246.4 419.0h1M250.8 420.8h1M215.0 418.2h1M245.5 418.5h1M251.3 419.5h1M238.1 419.7h1M226.1 420.7h1M242.0 415.3h1M214.7 420.0h1M242.1 415.4h1M227.3 422.8h1M228.0 415.9h1M241.0 424.3h1M222.4 417.0h1M235.5 414.9h1M245.9 424.1h1M226.8 420.4h1M233.3 417.6h1M231.2 426.5h1M244.8 424.4h1M243.9 415.6h1M243.8 419.7h1M235.1 415.5h1M251.5 418.9h1M220.4 418.0h1M232.0 415.9h1M239.2 418.1h1M224.3 418.1h1M231.3 420.4h1M243.2 425.6h1M224.9 416.8h1M215.4 418.1h1M226.8 413.9h1M239.5 427.1h1M224.5 423.6h1M225.3 419.7h1M200.7 420.2h1M207.0 420.1h1M232.3 425.2h1M229.8 421.7h1M246.5 419.0h1M218.5 417.8h1M214.8 414.8h1M225.0 422.8h1M200.1 417.3h1M230.3 417.6h1M214.0 418.0h1M223.3 418.0h1M211.2 423.1h1M253.0 424.3h1M219.3 417.7h1M223.1 414.9h1M209.9 417.3h1M237.6 427.8h1M240.5 419.9h1M211.8 423.9h1M221.7 419.3h1M218.5 415.3h1M232.5 416.5h1M246.1 421.6h1M208.2 421.2h1M243.7 415.1h1M209.0 420.5h1M227.6 419.1h1M210.6 422.4h1M220.4 416.2h1M227.6 422.5h1M230.0 421.7h1M224.5 423.1h1M218.6 420.7h1M243.4 421.0h1M227.0 415.9h1M243.5 428.6h1M221.5 420.7h1M245.4 414.8h1M264.7 414.7h1M247.5 414.1h1M259.3 419.8h1M256.0 416.8h1M258.9 418.9h1M246.8 421.5h1M252.1 421.2h1M272.2 418.5h1M252.4 423.1h1M254.9 422.7h1M252.9 415.2h1M253.7 415.7h1M247.6 422.3h1M274.2 415.7h1M241.5 422.2h1M248.1 416.4h1M245.7 415.1h1M257.3 421.8h1M253.7 419.5h1M243.6 421.6h1M255.1 420.9h1M250.7 418.2h1M247.8 419.4h1M263.1 417.4h1M261.7 419.7h1M253.9 417.6h1M262.2 415.1h1M254.7 418.3h1M250.4 425.2h1M273.2 415.7h1M265.1 421.6h1M268.2 420.3h1M256.1 421.6h1M272.8 415.4h1M249.8 416.1h1M253.7 417.5h1M268.8 414.6h1M265.7 420.6h1M268.8 417.6h1M260.2 416.6h1M267.4 416.5h1M268.2 421.4h1M244.5 419.0h1M248.1 414.9h1M250.5 414.7h1M252.4 413.7h1M269.4 421.1h1M249.9 422.9h1M265.9 417.7h1M257.6 415.0h1M227.6 416.6h1M246.5 422.1h1M248.6 416.6h1M260.0 420.1h1M272.2 416.2h1M274.4 414.3h1M262.8 420.1h1M236.6 422.6h1" stroke="rgb(69, 161, 167)" stroke-width="1" fill="none" opacity="0.95"/>
<path d="M214.0 416.0h1M209.2 418.8h1M217.5 417.8h1M225.8 419.8h1M207.9 414.1h1M213.3 421.5h1M215.9 416.2h1M210.0 419.2h1M206.8 417.5h1M233.6 415.5h1M215.7 421.1h1M207.1 421.3h1M211.6 416.7h1M225.6 416.5h1M211.8 420.6h1M209.7 419.4h1M228.7 417.0h1M210.6 416.9h1M213.4 417.5h1M216.1 416.7h1M216.4 416.9h1M211.2 417.9h1M209.7 417.7h1M212.4 416.0h1M210.2 417.1h1M203.9 421.6h1M209.6 417.9h1M216.1 418.9h1M215.6 422.5h1M214.3 423.9h1M211.0 423.9h1M213.1 415.0h1M240.1 418.4h1M241.8 420.8h1M243.1 420.6h1M228.8 422.4h1M247.0 417.1h1M250.7 421.8h1M250.4 418.4h1M250.8 420.0h1M234.8 417.1h1M241.7 418.5h1M230.2 417.8h1M255.4 417.1h1M247.8 416.0h1M244.4 421.7h1M248.3 419.9h1M222.3 422.3h1M251.9 419.9h1M236.4 416.3h1M228.5 424.5h1M221.9 417.6h1M240.6 419.2h1M234.1 419.1h1M240.0 426.1h1M248.5 421.1h1M232.6 424.2h1M248.3 421.4h1M243.8 415.0h1M232.9 426.3h1M228.9 420.4h1M227.4 421.6h1M235.6 428.0h1M229.1 418.7h1M239.8 426.3h1M240.0 419.2h1M239.5 417.6h1M244.3 415.0h1M238.8 418.5h1M237.2 417.6h1M232.4 423.9h1M226.5 415.8h1M261.8 418.1h1M244.8 420.5h1M243.2 416.1h1M240.8 425.5h1M232.8 415.0h1M234.9 419.1h1M237.0 424.9h1M242.7 424.2h1M224.2 423.7h1M243.8 416.9h1M232.8 424.6h1M240.4 426.5h1M247.0 423.7h1M245.9 419.4h1M250.4 417.8h1M232.6 423.6h1M242.1 421.4h1M241.8 421.2h1M245.0 416.8h1M229.1 424.6h1M230.7 418.3h1M239.5 423.4h1M243.7 423.3h1M233.8 425.0h1M224.9 422.2h1M231.5 421.5h1M229.5 423.8h1M255.3 417.9h1M236.8 417.6h1M225.3 418.3h1M239.2 419.7h1M236.7 427.0h1M242.6 421.5h1M249.0 417.3h1M232.0 416.5h1M240.7 419.0h1M241.3 425.0h1M231.6 422.6h1M217.6 418.2h1M226.2 423.1h1M224.0 418.5h1M245.2 424.0h1M238.6 426.4h1M230.4 423.8h1M235.3 424.9h1M239.6 417.5h1M230.6 415.9h1M243.1 415.3h1M217.0 415.0h1M227.5 414.3h1M214.0 422.5h1M204.8 417.2h1M224.5 420.4h1M224.2 422.8h1M220.8 415.2h1M249.0 419.7h1M209.5 416.2h1M248.3 419.2h1M219.5 415.7h1M227.1 421.7h1M228.4 421.6h1M227.1 423.3h1M225.2 421.0h1M212.4 424.0h1M215.6 417.5h1M231.5 419.1h1M245.0 420.8h1M260.3 415.8h1M238.3 426.7h1M235.6 426.3h1M207.4 420.9h1M242.2 424.4h1M227.0 417.2h1M210.2 422.4h1M220.5 422.0h1M224.8 414.8h1M251.2 420.4h1M249.1 418.3h1M221.8 418.8h1M233.3 424.9h1M214.1 419.9h1M224.4 422.0h1M253.2 414.7h1M210.6 420.9h1M235.4 426.1h1M213.0 423.2h1M227.4 416.9h1M225.7 420.9h1M214.8 418.0h1M230.2 421.8h1M226.1 420.9h1M207.3 417.6h1M223.0 419.0h1M231.8 426.1h1M216.1 418.1h1M222.9 423.7h1M205.5 422.2h1M231.6 424.3h1M240.7 420.6h1M243.4 425.1h1M254.9 416.5h1M247.6 422.1h1M251.4 420.3h1M254.8 418.4h1M250.8 421.5h1M244.7 418.6h1M243.5 418.0h1M246.1 421.7h1M251.2 416.9h1M265.2 418.0h1M250.9 421.8h1M248.2 419.1h1M263.1 417.9h1M252.6 418.9h1M234.9 419.4h1M252.3 422.5h1M266.4 418.3h1M263.0 419.0h1M268.8 416.2h1M247.7 421.6h1M246.2 421.4h1M244.9 415.0h1M252.0 422.5h1M234.3 417.0h1M269.8 416.1h1M251.1 418.8h1M247.0 421.8h1M237.6 424.5h1M275.4 416.6h1M235.3 424.9h1" stroke="rgb(86, 182, 140)" stroke-width="1" fill="none" opacity="0.95"/>
<path d="M217.4 418.0h1M229.0 415.9h1M213.3 419.2h1M212.9 416.3h1M229.1 420.6h1M211.2 418.6h1M226.6 414.8h1M209.9 421.0h1M224.0 420.9h1M213.8 418.8h1M213.7 422.5h1M212.8 421.7h1M212.2 416.7h1M229.7 414.6h1M210.6 420.3h1M211.8 417.1h1M209.1 417.8h1M216.7 417.0h1M222.6 417.2h1M225.4 419.6h1M212.8 417.1h1M239.1 420.8h1M261.1 418.2h1M226.3 418.7h1M225.9 417.8h1M243.2 416.8h1M243.7 420.4h1M242.5 423.4h1M229.3 423.2h1M227.5 417.9h1M241.0 420.8h1M227.8 421.0h1M238.2 421.7h1M238.1 418.4h1M237.5 425.3h1M236.6 425.6h1M249.2 417.2h1M233.9 418.6h1M242.5 418.4h1M228.1 417.3h1M242.6 420.3h1M240.9 416.9h1M246.8 419.0h1M241.3 417.1h1M243.0 416.0h1M230.0 418.9h1M240.9 423.4h1M247.7 420.5h1M231.1 418.2h1M250.4 418.2h1M228.2 417.9h1M230.7 417.8h1M241.6 422.5h1M234.3 419.1h1M243.0 418.3h1M238.0 421.1h1M233.9 425.6h1M240.1 415.6h1M237.9 423.8h1M243.8 417.6h1M243.4 424.0h1M232.6 421.8h1M234.8 425.9h1M237.3 422.1h1M223.7 418.3h1M224.0 415.3h1M239.8 424.5h1M241.1 418.3h1M237.4 420.2h1M228.4 423.6h1M237.5 419.6h1M236.6 423.3h1M233.8 421.0h1M246.9 420.4h1M235.9 424.6h1M251.6 418.9h1M233.1 418.6h1M235.2 422.4h1M225.4 422.4h1M224.9 421.6h1M241.7 418.6h1M245.2 415.7h1M223.8 416.9h1M231.4 422.4h1M233.3 423.5h1M244.1 424.5h1M238.6 424.8h1M237.2 422.5h1M239.3 422.8h1M244.4 416.0h1M230.5 425.3h1M246.9 420.4h1M234.0 424.4h1M236.2 420.6h1M244.3 420.1h1M241.4 424.1h1M230.7 416.6h1M241.4 422.3h1M229.6 422.3h1M246.1 417.0h1M228.2 419.2h1M249.0 424.5h1M243.9 418.1h1M236.8 425.0h1M234.0 420.7h1M241.5 416.3h1M241.8 424.0h1M244.9 420.2h1M246.8 419.9h1M243.4 415.4h1M231.9 419.6h1M235.4 421.4h1M217.3 417.3h1M244.7 422.8h1M223.1 417.7h1M218.8 418.5h1M224.2 416.5h1M222.7 419.3h1M237.2 417.7h1M212.6 420.2h1M233.4 414.8h1M245.9 416.8h1M236.5 418.2h1M231.8 420.9h1M214.2 418.3h1M229.6 416.1h1M260.1 420.0h1M204.6 419.0h1M243.5 420.9h1M241.0 422.7h1M226.4 423.6h1M240.2 420.3h1M223.3 420.5h1M239.8 424.6h1M230.5 419.8h1M206.4 418.2h1M210.4 418.8h1M229.2 420.2h1M215.6 414.5h1M210.9 414.9h1M222.8 421.7h1M218.0 417.9h1M223.7 417.7h1M219.5 417.3h1M225.3 418.9h1M217.4 420.2h1M233.8 422.9h1M230.2 414.1h1M216.2 422.2h1M224.5 419.1h1M226.7 417.4h1M210.0 417.6h1M217.1 416.7h1M224.7 420.2h1M212.3 418.6h1M248.5 419.7h1M246.4 421.3h1M236.8 421.7h1M243.6 416.7h1M253.4 415.4h1M251.5 418.0h1M237.8 417.2h1M247.9 420.1h1M236.5 415.8h1M244.3 419.9h1M247.3 419.2h1M242.0 423.0h1M250.5 420.4h1M235.3 419.7h1M262.8 415.3h1" stroke="rgb(118, 193, 104)" stroke-width="1" fill="none" opacity="0.95"/>
<path d="M214.0 419.3h1M212.2 417.9h1M212.9 418.4h1M209.1 418.2h1M216.0 416.0h1M202.5 418.5h1M231.6 418.4h1M217.5 417.0h1M231.8 419.9h1M226.0 421.1h1M211.8 419.5h1M245.1 420.5h1M239.0 416.8h1M238.9 420.8h1M238.3 425.1h1M240.1 423.5h1M251.7 419.4h1M245.0 416.5h1M232.4 417.9h1M230.9 423.2h1M232.0 416.4h1M244.3 416.5h1M228.8 417.6h1M245.2 418.2h1M229.7 421.8h1M226.5 418.2h1M237.9 422.4h1M234.1 418.6h1M237.7 421.5h1M234.2 424.2h1M232.2 420.1h1M240.2 419.6h1M239.1 422.0h1M239.4 426.2h1M235.3 419.8h1M230.3 420.3h1M238.5 420.1h1M238.9 425.2h1M227.2 417.4h1M229.4 419.7h1M229.2 421.0h1M254.8 421.0h1M246.1 422.2h1M233.8 419.2h1M236.4 424.3h1M228.0 421.9h1M231.0 420.8h1M237.7 418.9h1M233.8 424.8h1M229.7 416.9h1M237.8 421.7h1M244.1 415.7h1M233.2 417.5h1M242.5 418.3h1M225.9 418.9h1M235.9 416.2h1M234.4 414.0h1M239.9 425.9h1M234.7 420.3h1M249.1 419.7h1M241.5 421.7h1M243.4 424.1h1M236.0 420.7h1M231.3 418.2h1M238.7 419.2h1M229.8 424.0h1M235.3 422.4h1M243.8 417.1h1M229.3 420.7h1M243.3 423.6h1M232.9 419.8h1M233.0 425.4h1M245.6 416.0h1M224.3 423.3h1M239.8 422.9h1M239.4 423.9h1M242.0 423.3h1M230.4 419.9h1M234.9 415.9h1M225.6 419.2h1M247.0 423.5h1M230.1 419.7h1M236.5 419.1h1M211.5 419.7h1M209.2 416.1h1M232.4 419.3h1M234.8 423.5h1M236.8 425.3h1M233.0 423.0h1M224.7 419.2h1M242.4 421.6h1M238.5 418.6h1M210.9 418.0h1M224.2 417.4h1M233.8 417.1h1M227.9 418.3h1M245.2 417.4h1M210.1 422.1h1M241.8 422.1h1M252.6 420.8h1M267.9 419.0h1M247.5 419.2h1" stroke="rgb(155, 200, 75)" stroke-width="1" fill="none" opacity="0.95"/>
<path d="M221.7 420.1h1M211.9 418.4h1M211.7 417.7h1M215.8 417.9h1M210.3 417.2h1M234.3 421.6h1M236.3 423.4h1M234.2 418.4h1M236.5 424.6h1M228.8 422.5h1M227.6 420.6h1M226.3 418.7h1M226.7 417.9h1M233.2 417.1h1M228.9 418.1h1M227.9 418.2h1M234.9 418.9h1M238.9 420.6h1M226.6 418.6h1M238.0 417.8h1M242.5 418.9h1M236.6 423.8h1M226.0 419.1h1M244.7 419.9h1M240.9 420.4h1M240.4 423.0h1M231.7 420.9h1M235.6 425.1h1M239.4 420.2h1M231.8 421.1h1M232.6 414.9h1M250.8 417.8h1M243.7 418.6h1M237.3 422.7h1M241.6 426.2h1M235.6 423.5h1M233.8 424.6h1M236.1 420.8h1M229.3 418.2h1M229.8 423.4h1M229.5 421.8h1M235.5 424.2h1M244.7 418.6h1M234.9 423.4h1M234.8 424.7h1M252.2 420.5h1M237.4 418.5h1M244.5 417.4h1M248.8 421.3h1M227.3 419.1h1M240.9 424.5h1M233.7 425.3h1M240.6 419.4h1M235.7 423.6h1M211.7 422.5h1M244.1 419.2h1M229.8 418.7h1M231.9 422.4h1M242.0 420.8h1M242.8 422.1h1M240.1 417.3h1M229.9 417.6h1M237.1 419.2h1M229.7 422.8h1M230.3 424.3h1M234.1 423.0h1M225.2 420.5h1M210.6 422.5h1M234.8 423.7h1M224.9 419.4h1M245.1 418.4h1M233.2 421.8h1M236.5 420.2h1M242.3 418.2h1M242.4 417.6h1M249.1 420.9h1M229.5 419.2h1M251.0 420.5h1" stroke="rgb(199, 200, 64)" stroke-width="1" fill="none" opacity="0.95"/>
<path d="M209.8 417.7h1M209.6 417.9h1M210.6 419.9h1M212.7 417.8h1M230.5 420.0h1M235.6 423.2h1M234.8 417.8h1M229.7 416.9h1M234.7 424.3h1M236.2 423.8h1M248.0 421.6h1M234.0 423.8h1M237.8 423.0h1M235.3 421.2h1M233.4 422.1h1M230.9 422.6h1M236.3 423.7h1M240.2 420.2h1M234.8 417.6h1M242.7 423.2h1M235.3 421.7h1M237.8 416.2h1M232.7 417.7h1M241.7 421.2h1M234.8 419.3h1M239.0 418.7h1M232.6 424.0h1M233.3 422.8h1M238.1 423.6h1M228.1 419.1h1M233.2 423.1h1M230.5 423.6h1M234.1 423.6h1M235.7 426.0h1M235.5 425.3h1M242.1 422.3h1M228.2 422.9h1M238.7 425.0h1M238.3 421.0h1M229.8 421.9h1M214.3 420.2h1M214.1 415.7h1M228.9 421.1h1M211.7 417.8h1M238.4 421.5h1M239.6 422.3h1M238.9 421.3h1M234.6 420.7h1M242.9 422.2h1M238.1 423.2h1M235.8 418.6h1M227.3 416.1h1" stroke="rgb(225, 175, 55)" stroke-width="1" fill="none" opacity="0.95"/>
<path d="M236.6 422.0h1M233.5 424.0h1M240.1 421.4h1M236.6 421.6h1M234.0 420.6h1M226.1 419.7h1M237.1 420.0h1M234.8 422.6h1M227.2 414.2h1M239.4 419.0h1M239.9 422.2h1M234.3 421.1h1M235.9 422.3h1M240.8 423.5h1M242.3 423.1h1M243.8 417.7h1M238.4 422.2h1M231.7 419.6h1M239.5 416.9h1M242.4 418.4h1M233.8 420.0h1M236.6 419.2h1M229.9 421.6h1M226.1 418.7h1M233.9 418.7h1M239.5 421.1h1M238.9 422.5h1M232.7 421.4h1M236.3 420.7h1M230.6 420.8h1M234.8 423.4h1M235.1 423.8h1M235.1 421.1h1M239.4 418.5h1M235.1 421.1h1M231.0 421.4h1M236.4 422.7h1M234.3 421.9h1M233.1 421.7h1M238.6 424.6h1M231.2 422.4h1M238.2 419.2h1M237.2 423.0h1M237.7 420.7h1M235.0 421.1h1M233.1 420.7h1M228.4 419.4h1M233.7 417.9h1M239.5 417.3h1M226.6 419.9h1M230.7 418.6h1M235.5 423.3h1M236.4 421.2h1M234.6 419.1h1M238.1 422.6h1M236.8 419.1h1M235.4 423.9h1M234.2 420.6h1M233.3 422.6h1M233.3 419.9h1M233.0 419.6h1M238.4 421.5h1M239.2 421.7h1M235.6 424.3h1M235.0 419.4h1M212.6 418.9h1M227.4 419.5h1M235.9 421.1h1M237.6 424.9h1M236.5 418.7h1M237.3 422.6h1M238.1 416.4h1M237.2 422.9h1M231.0 419.7h1M236.8 420.0h1M242.1 422.0h1M239.8 422.2h1M240.0 420.0h1M241.0 422.4h1M214.5 418.3h1M234.8 422.0h1M233.8 419.9h1M237.5 421.0h1M235.5 422.5h1M236.3 422.8h1M227.5 419.2h1M230.9 420.7h1M236.3 424.7h1M240.5 418.9h1" stroke="rgb(230, 121, 45)" stroke-width="1" fill="none" opacity="0.95"/>
<rect x="184.6" y="377.7" width="106.2" height="108.3" fill="none" stroke="#231f20" stroke-width="1.3"/>
<rect x="192.5" y="401.9" width="30.7" height="27" fill="none" stroke="#505050" stroke-width="0.9"/>
<rect x="224.7" y="401.9" width="20.7" height="27" fill="none" stroke="#505050" stroke-width="0.9"/>
<rect x="245.4" y="401.9" width="44.9" height="27" fill="none" stroke="#505050" stroke-width="0.9"/>
<rect x="192.5" y="428.9" width="30.7" height="46.6" fill="none" stroke="#505050" stroke-width="0.9"/>
<text x="232.7" y="372.9" font-size="7.8" fill="#231f20" stroke="#231f20" stroke-width="0.1">KO</text>
<text x="208" y="398" font-size="7.9" fill="#231f20" stroke="#231f20" stroke-width="0.1">17%</text>
<text x="233.8" y="398" font-size="7.9" fill="#231f20" stroke="#231f20" stroke-width="0.1">47%</text>
<text x="263" y="398" font-size="7.9" fill="#231f20" stroke="#231f20" stroke-width="0.1">29%</text>
<text x="202" y="471" font-size="7.9" fill="#231f20" stroke="#231f20" stroke-width="0.1">4%</text>
<path d="M181.2 388.8h3.4M181.2 415.5h3.4M181.2 443.6h3.4M181.2 461h3.4M181.2 479h3.4M182.8 407.46h1.8M182.8 402.76h1.8M182.8 399.42h1.8M182.8 396.84h1.8M182.8 394.72h1.8M182.8 392.94h1.8M182.8 391.39h1.8M182.8 390.02h1.8M182.8 435.14h1.8M182.8 430.19h1.8M182.8 426.68h1.8M182.8 423.96h1.8M182.8 421.73h1.8M182.8 419.85h1.8M182.8 418.22h1.8M182.8 416.79h1.8M182.8 445.53h1.8M182.8 447.47h1.8M182.8 449.4h1.8M182.8 451.33h1.8M182.8 453.27h1.8M182.8 455.2h1.8M182.8 457.13h1.8M182.8 459.07h1.8M182.8 464h1.8M182.8 467h1.8M182.8 470h1.8M182.8 473h1.8M182.8 476h1.8" fill="none" stroke="#231f20" stroke-width="0.8"/>
<rect x="181.6" y="458.3" width="2.6" height="4.8" fill="#333"/>
<text x="175.7" y="391.3" font-size="7.4" text-anchor="end" fill="#231f20" stroke="#231f20" stroke-width="0.1">10</text>
<text x="176" y="388.2" font-size="4.8" fill="#231f20" stroke="#231f20" stroke-width="0.1">5</text>
<text x="175.7" y="418" font-size="7.4" text-anchor="end" fill="#231f20" stroke="#231f20" stroke-width="0.1">10</text>
<text x="176" y="414.9" font-size="4.8" fill="#231f20" stroke="#231f20" stroke-width="0.1">4</text>
<text x="175.7" y="446.1" font-size="7.4" text-anchor="end" fill="#231f20" stroke="#231f20" stroke-width="0.1">10</text>
<text x="176" y="443" font-size="4.8" fill="#231f20" stroke="#231f20" stroke-width="0.1">3</text>
<text x="179" y="463.5" font-size="7.4" text-anchor="end" fill="#231f20" stroke="#231f20" stroke-width="0.1">0</text>
<text x="175.7" y="481.5" font-size="7.4" text-anchor="end" fill="#231f20" stroke="#231f20" stroke-width="0.1">-10</text>
<text x="176" y="478.4" font-size="4.8" fill="#231f20" stroke="#231f20" stroke-width="0.1">3</text>
<path d="M185.1 486v3.2M189.18 486v1.8M193.26 486v1.8M197.34 486v1.8M201.42 486v1.8M205.5 486v3.2M209.58 486v1.8M213.66 486v1.8M217.74 486v1.8M221.82 486v1.8M225.9 486v3.2M229.98 486v1.8M234.06 486v1.8M238.14 486v1.8M242.22 486v1.8M246.3 486v3.2M250.38 486v1.8M254.46 486v1.8M258.54 486v1.8M262.62 486v1.8M266.7 486v3.2M270.78 486v1.8M274.86 486v1.8M278.94 486v1.8M283.02 486v1.8M287.1 486v3.2" fill="none" stroke="#231f20" stroke-width="0.7"/>
<text transform="translate(188.3 494) rotate(-45)" font-size="7.9" text-anchor="end" fill="#231f20" stroke="#231f20" stroke-width="0.1" textLength="4.09" lengthAdjust="spacingAndGlyphs">0</text>
<text transform="translate(208.7 494) rotate(-45)" font-size="7.9" text-anchor="end" fill="#231f20" stroke="#231f20" stroke-width="0.1" textLength="13.07" lengthAdjust="spacingAndGlyphs">50K</text>
<text transform="translate(229.1 494) rotate(-45)" font-size="7.9" text-anchor="end" fill="#231f20" stroke="#231f20" stroke-width="0.1" textLength="17.16" lengthAdjust="spacingAndGlyphs">100K</text>
<text transform="translate(249.5 494) rotate(-45)" font-size="7.9" text-anchor="end" fill="#231f20" stroke="#231f20" stroke-width="0.1" textLength="17.16" lengthAdjust="spacingAndGlyphs">150K</text>
<text transform="translate(269.9 494) rotate(-45)" font-size="7.9" text-anchor="end" fill="#231f20" stroke="#231f20" stroke-width="0.1" textLength="17.16" lengthAdjust="spacingAndGlyphs">200K</text>
<text transform="translate(290.3 494) rotate(-45)" font-size="7.9" text-anchor="end" fill="#231f20" stroke="#231f20" stroke-width="0.1" textLength="17.16" lengthAdjust="spacingAndGlyphs">250K</text>
<text transform="translate(16.4 432.4) rotate(-90)" font-size="10.4" text-anchor="middle" fill="#231f20" stroke="#231f20" stroke-width="0.1" textLength="22" lengthAdjust="spacingAndGlyphs">CD71</text>
<text x="96.6" y="520.6" font-size="9.6" text-anchor="middle" fill="#231f20" stroke="#231f20" stroke-width="0.1" textLength="65.7" lengthAdjust="spacingAndGlyphs">Forward scatter</text>
<text x="237.2" y="520.6" font-size="9.6" text-anchor="middle" fill="#231f20" stroke="#231f20" stroke-width="0.1" textLength="65.7" lengthAdjust="spacingAndGlyphs">Forward scatter</text>
<path d="M129.3 313.3V368.5H126.2L132.8 375.3L139.4 368.5H136.3V313.3Z" fill="#b4b78f" stroke="#2a2a2a" stroke-width="0.9"/>
<path d="M267.1 313.3V368.5H264L270.6 375.3L277.2 368.5H274.1V313.3Z" fill="#b4b78f" stroke="#2a2a2a" stroke-width="0.9"/>
<rect x="358.5" y="454.78" width="13.5" height="40.12" fill="#4e6280"/>
<rect x="372" y="435.55" width="13.5" height="59.35" fill="#a23746"/>
<rect x="392" y="376.91" width="13.5" height="117.99" fill="#4e6280"/>
<rect x="405.5" y="376.91" width="13.5" height="117.99" fill="#a23746"/>
<rect x="424.6" y="430.8" width="13.5" height="64.1" fill="#4e6280"/>
<rect x="438.1" y="453.83" width="13.5" height="41.07" fill="#a23746"/>
<rect x="457.5" y="486.12" width="13.5" height="8.78" fill="#4e6280"/>
<rect x="471" y="486.35" width="13.5" height="8.55" fill="#a23746"/>
<line x1="365.25" y1="452.41" x2="365.25" y2="457.15" stroke="#231f20" stroke-width="1"/>
<line x1="362.95" y1="452.41" x2="367.55" y2="452.41" stroke="#231f20" stroke-width="1"/>
<line x1="362.95" y1="457.15" x2="367.55" y2="457.15" stroke="#231f20" stroke-width="1"/>
<line x1="378.75" y1="433.41" x2="378.75" y2="437.69" stroke="#231f20" stroke-width="1"/>
<line x1="376.45" y1="433.41" x2="381.05" y2="433.41" stroke="#231f20" stroke-width="1"/>
<line x1="376.45" y1="437.69" x2="381.05" y2="437.69" stroke="#231f20" stroke-width="1"/>
<line x1="398.75" y1="374.78" x2="398.75" y2="379.05" stroke="#231f20" stroke-width="1"/>
<line x1="396.45" y1="374.78" x2="401.05" y2="374.78" stroke="#231f20" stroke-width="1"/>
<line x1="396.45" y1="379.05" x2="401.05" y2="379.05" stroke="#231f20" stroke-width="1"/>
<line x1="412.25" y1="375.49" x2="412.25" y2="378.34" stroke="#231f20" stroke-width="1"/>
<line x1="409.95" y1="375.49" x2="414.55" y2="375.49" stroke="#231f20" stroke-width="1"/>
<line x1="409.95" y1="378.34" x2="414.55" y2="378.34" stroke="#231f20" stroke-width="1"/>
<line x1="431.35" y1="428.43" x2="431.35" y2="433.18" stroke="#231f20" stroke-width="1"/>
<line x1="429.05" y1="428.43" x2="433.65" y2="428.43" stroke="#231f20" stroke-width="1"/>
<line x1="429.05" y1="433.18" x2="433.65" y2="433.18" stroke="#231f20" stroke-width="1"/>
<line x1="444.85" y1="452.76" x2="444.85" y2="454.9" stroke="#231f20" stroke-width="1"/>
<line x1="442.55" y1="452.76" x2="447.15" y2="452.76" stroke="#231f20" stroke-width="1"/>
<line x1="442.55" y1="454.9" x2="447.15" y2="454.9" stroke="#231f20" stroke-width="1"/>
<line x1="464.25" y1="484.93" x2="464.25" y2="487.3" stroke="#231f20" stroke-width="1"/>
<line x1="461.95" y1="484.93" x2="466.55" y2="484.93" stroke="#231f20" stroke-width="1"/>
<line x1="461.95" y1="487.3" x2="466.55" y2="487.3" stroke="#231f20" stroke-width="1"/>
<line x1="477.75" y1="485.52" x2="477.75" y2="487.18" stroke="#231f20" stroke-width="1"/>
<line x1="475.45" y1="485.52" x2="480.05" y2="485.52" stroke="#231f20" stroke-width="1"/>
<line x1="475.45" y1="487.18" x2="480.05" y2="487.18" stroke="#231f20" stroke-width="1"/>
<line x1="351.9" y1="364" x2="351.9" y2="495.4" stroke="#231f20" stroke-width="1.1"/>
<line x1="351.4" y1="494.9" x2="491.3" y2="494.9" stroke="#231f20" stroke-width="1.1"/>
<line x1="348.6" y1="494.9" x2="351.9" y2="494.9" stroke="#231f20" stroke-width="0.9"/>
<text x="345" y="497.7" font-size="8.2" text-anchor="end" fill="#231f20" stroke="#231f20" stroke-width="0.1" textLength="4.2" lengthAdjust="spacingAndGlyphs">0</text>
<line x1="348.6" y1="471.16" x2="351.9" y2="471.16" stroke="#231f20" stroke-width="0.9"/>
<text x="345" y="473.96" font-size="8.2" text-anchor="end" fill="#231f20" stroke="#231f20" stroke-width="0.1" textLength="8.39" lengthAdjust="spacingAndGlyphs">10</text>
<line x1="348.6" y1="447.42" x2="351.9" y2="447.42" stroke="#231f20" stroke-width="0.9"/>
<text x="345" y="450.22" font-size="8.2" text-anchor="end" fill="#231f20" stroke="#231f20" stroke-width="0.1" textLength="8.39" lengthAdjust="spacingAndGlyphs">20</text>
<line x1="348.6" y1="423.68" x2="351.9" y2="423.68" stroke="#231f20" stroke-width="0.9"/>
<text x="345" y="426.48" font-size="8.2" text-anchor="end" fill="#231f20" stroke="#231f20" stroke-width="0.1" textLength="8.39" lengthAdjust="spacingAndGlyphs">30</text>
<line x1="348.6" y1="399.94" x2="351.9" y2="399.94" stroke="#231f20" stroke-width="0.9"/>
<text x="345" y="402.74" font-size="8.2" text-anchor="end" fill="#231f20" stroke="#231f20" stroke-width="0.1" textLength="8.39" lengthAdjust="spacingAndGlyphs">40</text>
<line x1="348.6" y1="376.2" x2="351.9" y2="376.2" stroke="#231f20" stroke-width="0.9"/>
<text x="345" y="379" font-size="8.2" text-anchor="end" fill="#231f20" stroke="#231f20" stroke-width="0.1" textLength="8.39" lengthAdjust="spacingAndGlyphs">50</text>
<text x="372.1" y="505.4" font-size="8.2" text-anchor="middle" fill="#231f20" stroke="#231f20" stroke-width="0.1" textLength="8.6" lengthAdjust="spacingAndGlyphs">P2</text>
<text x="404.3" y="505.4" font-size="8.2" text-anchor="middle" fill="#231f20" stroke="#231f20" stroke-width="0.1" textLength="8.6" lengthAdjust="spacingAndGlyphs">P3</text>
<text x="437.9" y="505.4" font-size="8.2" text-anchor="middle" fill="#231f20" stroke="#231f20" stroke-width="0.1" textLength="8.6" lengthAdjust="spacingAndGlyphs">P4</text>
<text x="470.8" y="505.4" font-size="8.2" text-anchor="middle" fill="#231f20" stroke="#231f20" stroke-width="0.1" textLength="8.6" lengthAdjust="spacingAndGlyphs">P5</text>
<text x="421.4" y="519.3" font-size="10" text-anchor="middle" fill="#231f20" stroke="#231f20" stroke-width="0.1" textLength="77" lengthAdjust="spacingAndGlyphs">Erythroblast stage</text>
<text transform="translate(319.5 428.9) rotate(-90)" font-size="10.2" text-anchor="middle" fill="#231f20" stroke="#231f20" stroke-width="0.1" textLength="99.6" lengthAdjust="spacingAndGlyphs">Fraction of Ter119+ cell</text>
<text transform="translate(332 427.4) rotate(-90)" font-size="10.2" text-anchor="middle" fill="#231f20" stroke="#231f20" stroke-width="0.1" textLength="65.3" lengthAdjust="spacingAndGlyphs">population (%)</text>
<text x="463.3" y="373.9" font-size="8.2" fill="#231f20" stroke="#231f20" stroke-width="0.1" textLength="21.1" lengthAdjust="spacingAndGlyphs">n = 10</text>
<rect x="458.8" y="388.5" width="8.7" height="7.1" fill="#4e6280"/>
<rect x="458.8" y="399.2" width="8.7" height="7.3" fill="#a23746"/>
<text x="471.2" y="395" font-size="8.2" fill="#231f20" stroke="#231f20" stroke-width="0.1" textLength="11.2" lengthAdjust="spacingAndGlyphs">WT</text>
<text x="471.2" y="406" font-size="8.2" fill="#231f20" stroke="#231f20" stroke-width="0.1" textLength="10.5" lengthAdjust="spacingAndGlyphs">KO</text>
<text x="412.9" y="371.2" font-size="7.6" text-anchor="middle" fill="#231f20" stroke="#231f20" stroke-width="0.1" textLength="9.1" lengthAdjust="spacingAndGlyphs">n.s</text>
<text x="478" y="483" font-size="7.6" text-anchor="middle" fill="#231f20" stroke="#231f20" stroke-width="0.1" textLength="9.1" lengthAdjust="spacingAndGlyphs">n.s</text>
<text x="379.8" y="433.2" font-size="8" text-anchor="middle" fill="#231f20" stroke="#231f20" stroke-width="0.1" textLength="9.4" lengthAdjust="spacingAndGlyphs">***</text>
<text x="444.6" y="451.2" font-size="8" text-anchor="middle" fill="#231f20" stroke="#231f20" stroke-width="0.1" textLength="9.4" lengthAdjust="spacingAndGlyphs">***</text>
<rect x="0" y="0" width="520" height="2" fill="#505050"/>
<rect x="0" y="0" width="2" height="531" fill="#505050"/>
<rect x="519" y="0" width="1" height="531" fill="#151515"/>
<rect x="0" y="529.3" width="520" height="1.7" fill="#474747"/>
</svg></body></html>
